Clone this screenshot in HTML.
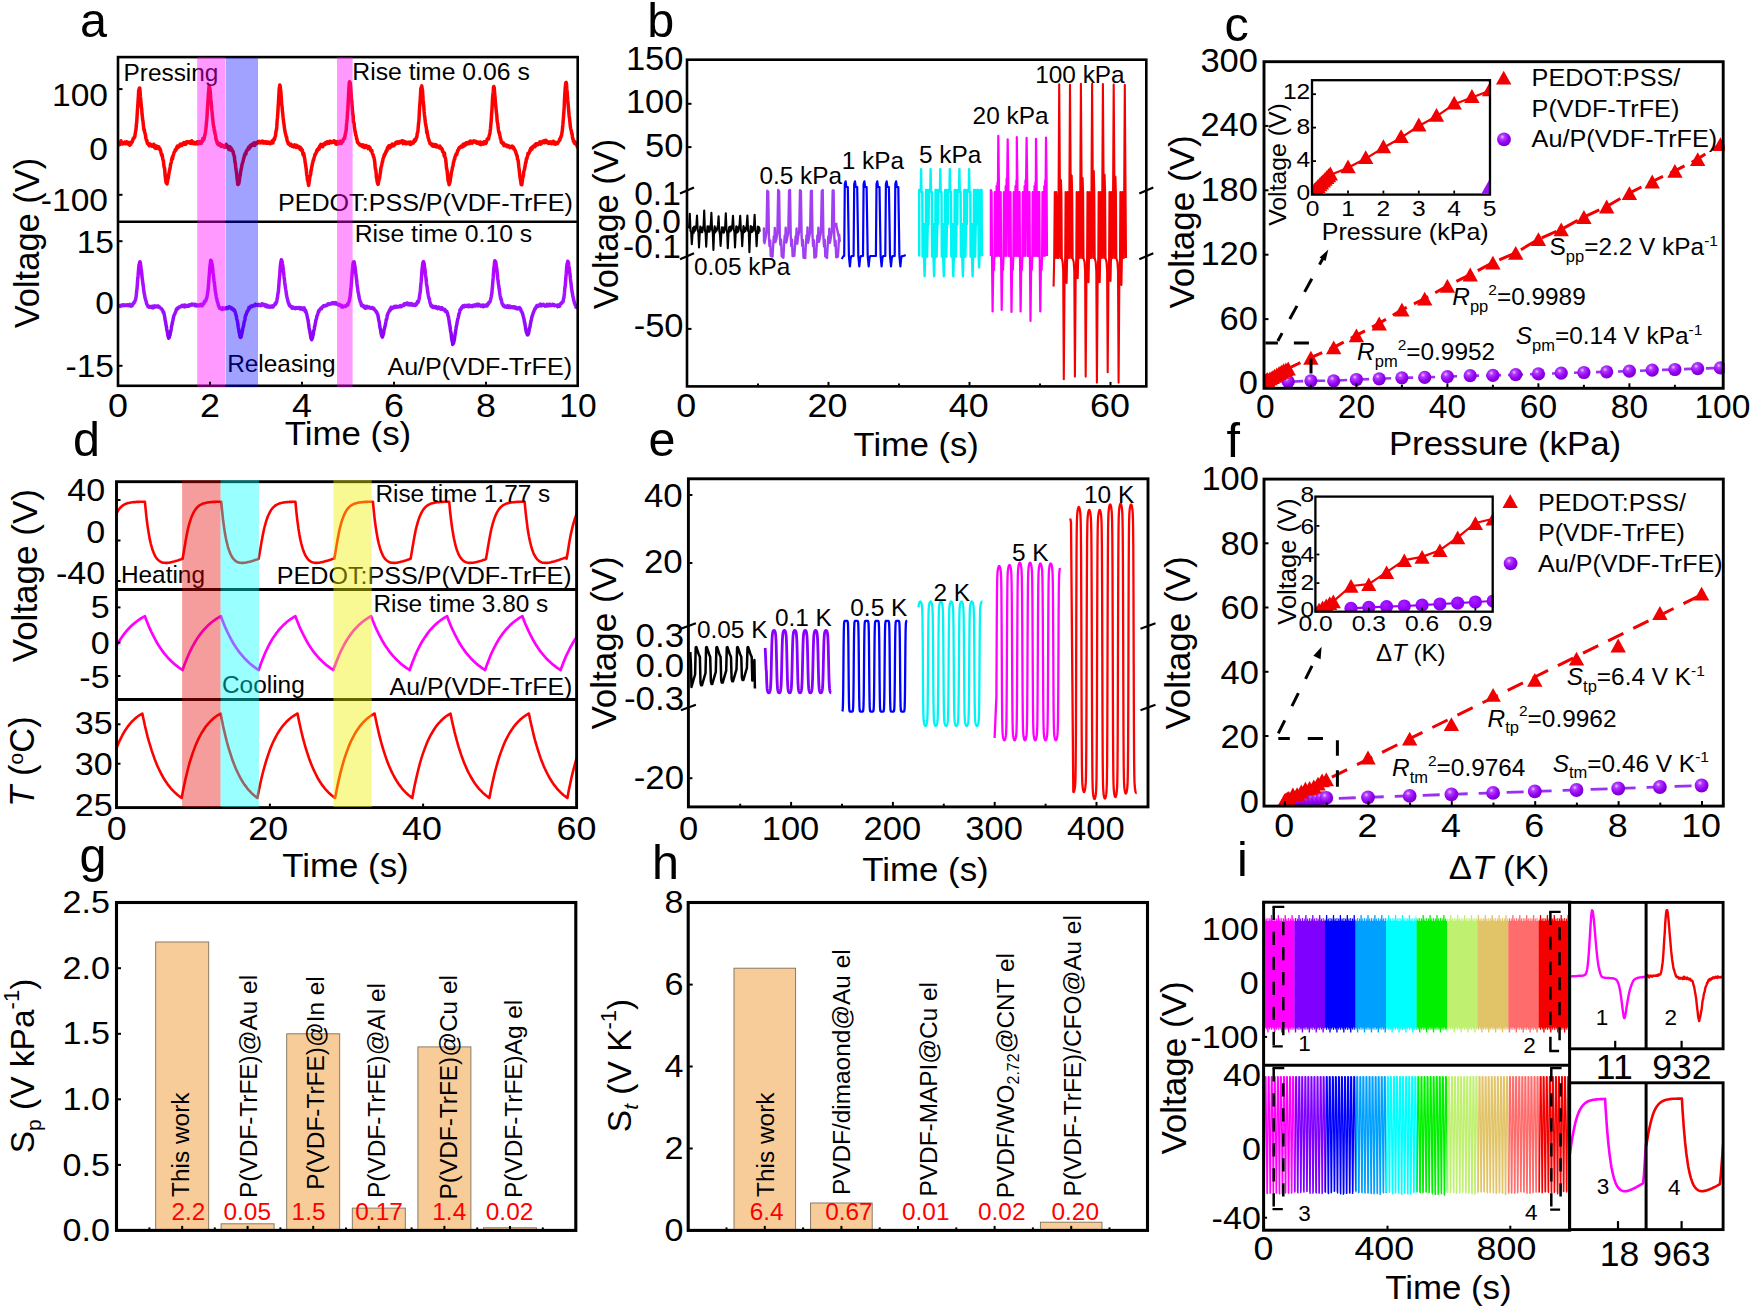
<!DOCTYPE html>
<html><head><meta charset="utf-8"><title>Figure</title>
<style>
html,body{margin:0;padding:0;background:#fff;}
svg{display:block;font-family:"Liberation Sans",Arial,sans-serif;}
</style></head><body>
<svg width="1750" height="1308" viewBox="0 0 1750 1308">
<defs>
<radialGradient id="ball" cx="0.38" cy="0.32" r="0.65"><stop offset="0" stop-color="#e9c4ff"/><stop offset="0.25" stop-color="#b23cff"/><stop offset="0.7" stop-color="#9400f0"/><stop offset="1" stop-color="#7a00d0"/></radialGradient>
<radialGradient id="ball2" cx="0.4" cy="0.35" r="0.7"><stop offset="0" stop-color="#a422ff"/><stop offset="0.6" stop-color="#9800fc"/><stop offset="1" stop-color="#8a00ec"/></radialGradient>
</defs>
<rect width="1750" height="1308" fill="#fff"/>
<g id="pa">
<clipPath id="ca"><rect x="118.0" y="57.1" width="459.70000000000005" height="328.7"/></clipPath>
<g clip-path="url(#ca)">
<polyline points="118,141.7 118.3,145.1 118.7,142.9 119,143.6 119.3,143.5 119.6,143.4 120,144.7 120.3,143.4 120.6,143.9 121,140.7 121.3,143 121.6,143.5 121.9,143.4 122.3,143.7 122.6,144 122.9,143.5 123.3,142.9 123.6,143.4 123.9,142.5 124.2,143.4 124.6,143.2 124.9,142.1 125.2,142.8 125.6,143.6 125.9,143.4 126.2,142.8 126.5,141.8 126.9,143.4 127.2,143.4 127.5,142.5 127.9,143.9 128.2,143.4 128.5,142.6 128.9,142.8 129.2,143.2 129.5,142.7 129.8,145.3 130.2,142.4 130.5,143.9 130.8,144.4 131.2,142.9 131.5,142.1 131.8,142.3 132.1,142.2 132.5,140.7 132.8,140.1 133.1,138.7 133.5,138.8 133.8,138.7 134.1,137.4 134.4,137.5 134.8,136.9 135.1,134.3 135.4,132.4 135.8,130.7 136.1,128.3 136.4,124.2 136.7,122.4 137.1,115.6 137.4,110.8 137.7,107.2 138.1,100.6 138.4,96.1 138.7,90.2 139,89.8 139.4,88.2 139.7,88 140,90.3 140.4,96.7 140.7,99.1 141,102.3 141.3,106.7 141.7,108.6 142,114.1 142.3,116.1 142.7,120.2 143,121.1 143.3,124.6 143.6,127.2 144,130.2 144.3,129.5 144.6,131.9 145,133.3 145.3,134.4 145.6,136.1 145.9,138.3 146.3,139.7 146.6,140.8 146.9,140.3 147.3,143.4 147.6,143.3 147.9,143.5 148.3,143.5 148.6,143.6 148.9,145.2 149.2,145.8 149.6,144.8 149.9,144 150.2,144.5 150.6,145.1 150.9,145.6 151.2,145.3 151.5,145.8 151.9,145.1 152.2,146.4 152.5,145.8 152.9,146 153.2,145.6 153.5,145.9 153.8,144.2 154.2,145.1 154.5,145.2 154.8,147.9 155.2,146.7 155.5,147 155.8,146.2 156.1,148.5 156.5,146 156.8,146.2 157.1,148.1 157.5,148.1 157.8,148.1 158.1,147.7 158.4,147.6 158.8,146.8 159.1,148.9 159.4,148.6 159.8,149.5 160.1,148.9 160.4,150.4 160.7,150.7 161.1,153.4 161.4,153.7 161.7,155.4 162.1,154.6 162.4,156.3 162.7,158.3 163,159.9 163.4,160.8 163.7,163.9 164,166.5 164.4,168 164.7,169.2 165,174 165.3,176.9 165.7,180.1 166,182.6 166.3,182.9 166.7,183.4 167,183.9 167.3,182.5 167.6,180.9 168,178.9 168.3,178.1 168.6,175.4 169,173 169.3,171.9 169.6,169.9 170,168.5 170.3,166.5 170.6,164.1 170.9,163.6 171.3,162.1 171.6,160.1 171.9,159 172.3,157.1 172.6,158.9 172.9,155.7 173.2,155.8 173.6,154.5 173.9,153.1 174.2,152.2 174.6,151.5 174.9,151.5 175.2,149.8 175.5,150.6 175.9,150 176.2,148.8 176.5,149.3 176.9,146.9 177.2,147.3 177.5,146.1 177.8,147.4 178.2,147.3 178.5,146.6 178.8,145.9 179.2,146.6 179.5,145.7 179.8,145.8 180.1,144.3 180.5,145.8 180.8,144.4 181.1,145.5 181.5,145.5 181.8,145.2 182.1,145.4 182.4,144.3 182.8,143.5 183.1,144 183.4,143.5 183.8,142.6 184.1,143.5 184.4,143.4 184.7,143.6 185.1,144.5 185.4,142.5 185.7,144.3 186.1,142.3 186.4,142.7 186.7,141.7 187,142.4 187.4,142.9 187.7,141.9 188,142.4 188.4,142.1 188.7,141.8 189,141.9 189.4,141.9 189.7,142.3 190,141.8 190.3,143.3 190.7,141.8 191,142.7 191.3,141 191.7,140.9 192,143.4 192.3,141.9 192.6,142.2 193,143 193.3,141.9 193.6,142.8 194,143.8 194.3,142.8 194.6,142.8 194.9,142.7 195.3,143.8 195.6,142.4 195.9,142.4 196.3,143.9 196.6,143.5 196.9,143.1 197.2,143.5 197.6,141.8 197.9,143 198.2,143.9 198.6,143.8 198.9,143.2 199.2,141.5 199.5,143.3 199.9,143.1 200.2,142.8 200.5,143.2 200.9,141.5 201.2,143.5 201.5,142 201.8,141.8 202.2,140.9 202.5,141.5 202.8,138.6 203.2,139.7 203.5,139.2 203.8,139.4 204.1,138.6 204.5,136.7 204.8,135.1 205.1,133.8 205.5,131.5 205.8,129.5 206.1,127.1 206.4,123 206.8,119.2 207.1,115.1 207.4,109.4 207.8,103.6 208.1,98.9 208.4,94 208.8,89.1 209.1,85.8 209.4,86.7 209.7,87.8 210.1,90.6 210.4,93.1 210.7,99.2 211.1,101.4 211.4,104.6 211.7,109.7 212,111.5 212.4,115.5 212.7,119.3 213,121.5 213.4,125.4 213.7,127 214,127.3 214.3,131.2 214.7,130.8 215,133.8 215.3,134.3 215.7,136.6 216,139.7 216.3,139.8 216.6,140.4 217,142.5 217.3,143.3 217.6,142.5 218,143.7 218.3,144.9 218.6,144.4 218.9,143.6 219.3,144.8 219.6,144 219.9,143.7 220.3,145 220.6,146 220.9,146.3 221.2,145.4 221.6,144.8 221.9,145.4 222.2,145.3 222.6,146.1 222.9,145.6 223.2,146.2 223.5,146.2 223.9,147 224.2,147.2 224.5,146.5 224.9,147 225.2,146.9 225.5,145.8 225.8,146.4 226.2,144.2 226.5,145.8 226.8,147 227.2,146.1 227.5,146.5 227.8,147.4 228.2,146.2 228.5,147.7 228.8,149.6 229.1,146.9 229.5,148.2 229.8,146.8 230.1,148.7 230.5,149.5 230.8,147.8 231.1,150.2 231.4,149.8 231.8,149.1 232.1,150.4 232.4,150.9 232.8,151.4 233.1,151.5 233.4,153.9 233.7,154.3 234.1,155.9 234.4,156.3 234.7,160.3 235.1,162.8 235.4,163.9 235.7,167.2 236,169.3 236.4,172.2 236.7,174.2 237,178.3 237.4,180.4 237.7,184.4 238,184.5 238.3,182.9 238.7,184 239,182.6 239.3,181 239.7,177.6 240,175.9 240.3,175 240.6,171.8 241,170.3 241.3,168.2 241.6,167.6 242,164.3 242.3,163.8 242.6,162.8 242.9,161.8 243.3,160.4 243.6,158.4 243.9,158.1 244.3,156.1 244.6,155.5 244.9,154 245.2,153.6 245.6,153.4 245.9,154.1 246.2,151.7 246.6,150.7 246.9,150.6 247.2,149.7 247.5,150 247.9,149.4 248.2,149.4 248.5,147.3 248.9,147.8 249.2,147.9 249.5,148.2 249.9,147 250.2,145.5 250.5,146 250.8,146.6 251.2,144.8 251.5,144.6 251.8,144.7 252.2,144.7 252.5,144.2 252.8,144.5 253.1,144.2 253.5,145.2 253.8,143.3 254.1,144.1 254.5,142.7 254.8,145.6 255.1,143.4 255.4,143 255.8,143.9 256.1,143.1 256.4,142.8 256.8,142.8 257.1,143.4 257.4,143 257.7,142 258.1,141.6 258.4,142.4 258.7,142.3 259.1,142.1 259.4,141.3 259.7,142.8 260,142.9 260.4,141.7 260.7,142.6 261,142.2 261.4,141.6 261.7,141.3 262,142.5 262.3,141.1 262.7,143.1 263,141.4 263.3,143.1 263.7,143 264,141.6 264.3,142.5 264.6,142.9 265,142.7 265.3,142.1 265.6,142.6 266,142.7 266.3,141.9 266.6,143.3 266.9,143.2 267.3,143.3 267.6,142.1 267.9,142.3 268.3,142.1 268.6,143.1 268.9,143.2 269.3,142.5 269.6,143.5 269.9,142.6 270.2,142.6 270.6,143.7 270.9,143.2 271.2,143.3 271.6,141.8 271.9,141.2 272.2,142.6 272.5,141.9 272.9,143 273.2,140.4 273.5,139.8 273.9,140.3 274.2,138.4 274.5,139.6 274.8,137.7 275.2,136.4 275.5,136 275.8,132.7 276.2,130.4 276.5,129.6 276.8,126.4 277.1,121.1 277.5,117.2 277.8,113.3 278.1,107.4 278.5,101.7 278.8,96.3 279.1,90.5 279.4,87.6 279.8,85.1 280.1,85.7 280.4,88.3 280.8,91.5 281.1,95 281.4,99.4 281.7,104.6 282.1,106.8 282.4,111 282.7,113.2 283.1,117.5 283.4,120 283.7,122.9 284,124.3 284.4,127.6 284.7,129.9 285,131.2 285.4,133.4 285.7,134.3 286,135.7 286.3,137 286.7,137.1 287,140.1 287.3,140.9 287.7,142.2 288,142 288.3,143.9 288.7,144 289,143.8 289.3,143.7 289.6,144.4 290,145 290.3,145.5 290.6,144.6 291,144.1 291.3,145 291.6,145.2 291.9,145.2 292.3,146.3 292.6,145.9 292.9,145.9 293.3,145.6 293.6,145.9 293.9,146.9 294.2,145.2 294.6,144.8 294.9,146.3 295.2,145.9 295.6,146.1 295.9,145.7 296.2,147.5 296.5,145.3 296.9,146.9 297.2,145.7 297.5,146.7 297.9,147.1 298.2,147.1 298.5,146.4 298.8,147.9 299.2,147.7 299.5,148 299.8,149.1 300.2,147.2 300.5,148 300.8,148.8 301.1,148.4 301.5,150.5 301.8,150.4 302.1,149.7 302.5,150.7 302.8,153.6 303.1,155 303.4,154.1 303.8,153.4 304.1,156.1 304.4,157.6 304.8,158.9 305.1,162.1 305.4,163.5 305.7,165.5 306.1,168.3 306.4,171 306.7,174.5 307.1,176.4 307.4,179.8 307.7,180.9 308.1,181.5 308.4,184.6 308.7,185.4 309,183 309.4,180.5 309.7,178 310,175.9 310.4,175.4 310.7,173.5 311,170.1 311.3,170.2 311.7,166.9 312,166.3 312.3,164 312.7,162.7 313,161.3 313.3,160 313.6,160.1 314,158.1 314.3,157.2 314.6,156 315,154.4 315.3,154.7 315.6,154.2 315.9,153.4 316.3,152.4 316.6,151 316.9,151.5 317.3,149.5 317.6,149.6 317.9,149.5 318.2,149.9 318.6,148.3 318.9,147.5 319.2,149 319.6,146.4 319.9,145.8 320.2,146.5 320.5,146.1 320.9,144.4 321.2,145 321.5,146.4 321.9,145.5 322.2,145.4 322.5,145.3 322.8,146.7 323.2,144.2 323.5,145.1 323.8,144.4 324.2,144.5 324.5,143.6 324.8,144.3 325.1,144.5 325.5,143.4 325.8,142.6 326.1,143.8 326.5,142.4 326.8,143 327.1,143.5 327.4,141.8 327.8,143.4 328.1,141.9 328.4,142.9 328.8,142 329.1,143.2 329.4,142.8 329.8,141.2 330.1,141.8 330.4,141.8 330.7,142.1 331.1,141.4 331.4,142.7 331.7,142.5 332.1,141.8 332.4,142.3 332.7,142.3 333,141.9 333.4,142 333.7,142.1 334,140.8 334.4,141.4 334.7,141.3 335,142.4 335.3,142.8 335.7,143.6 336,142.9 336.3,144.3 336.7,143.2 337,142.3 337.3,141.7 337.6,142.2 338,143.7 338.3,142.7 338.6,143.7 339,142.5 339.3,143.2 339.6,142.5 339.9,141.2 340.3,142.5 340.6,141.4 340.9,143 341.3,143.4 341.6,142.1 341.9,141.2 342.2,142.3 342.6,141.1 342.9,141.5 343.2,139.8 343.6,138.7 343.9,139 344.2,138.8 344.5,138.7 344.9,136.4 345.2,134.8 345.5,133.4 345.9,131.6 346.2,130.2 346.5,124.8 346.8,122.5 347.2,118.2 347.5,112.7 347.8,109.4 348.2,102.1 348.5,96.1 348.8,89.9 349.2,84.1 349.5,81.8 349.8,82.6 350.1,82.6 350.5,85 350.8,89.3 351.1,94.5 351.5,98.9 351.8,101.4 352.1,105.6 352.4,109.6 352.8,114.5 353.1,115.2 353.4,121.7 353.8,122.6 354.1,123.3 354.4,127.3 354.7,129.1 355.1,132 355.4,131.7 355.7,135.2 356.1,135.3 356.4,137 356.7,139.3 357,139.1 357.4,142.1 357.7,142.6 358,142.7 358.4,143.5 358.7,143.3 359,143.3 359.3,144.5 359.7,145 360,145.2 360.3,145.3 360.7,144.6 361,145.5 361.3,145.2 361.6,145.7 362,146.3 362.3,145.2 362.6,146.7 363,146 363.3,144.9 363.6,146.9 363.9,146.2 364.3,147.4 364.6,146.7 364.9,147.5 365.3,146.7 365.6,146.9 365.9,146.5 366.2,145.5 366.6,146.6 366.9,146.4 367.2,147 367.6,147.3 367.9,147.8 368.2,148.7 368.6,147.5 368.9,146.5 369.2,147.6 369.5,148.6 369.9,147.3 370.2,149.2 370.5,149.8 370.9,150.7 371.2,151.1 371.5,151.2 371.8,150.3 372.2,152.8 372.5,154 372.8,154.4 373.2,155 373.5,157.1 373.8,156.9 374.1,158.3 374.5,160.6 374.8,162.6 375.1,166.4 375.5,169.3 375.8,169.7 376.1,172.6 376.4,177.3 376.8,178.7 377.1,181.3 377.4,182.7 377.8,183.8 378.1,184.3 378.4,182.8 378.7,181.2 379.1,179.3 379.4,178.6 379.7,177.5 380.1,174 380.4,172.8 380.7,169.6 381,167.6 381.4,166.3 381.7,165.3 382,163.5 382.4,161.3 382.7,161.4 383,159 383.3,158 383.7,157.3 384,155.4 384.3,156.1 384.7,154 385,154.5 385.3,153.7 385.6,153.2 386,151.4 386.3,151.8 386.6,150.5 387,150.8 387.3,148.6 387.6,147.6 387.9,148.4 388.3,146.9 388.6,147.3 388.9,145.8 389.3,147 389.6,148 389.9,145.4 390.3,146.3 390.6,146.8 390.9,146.3 391.2,146.8 391.6,145.5 391.9,146 392.2,143.9 392.6,144.4 392.9,145.9 393.2,145.7 393.5,144.8 393.9,145.7 394.2,144.2 394.5,144 394.9,144.4 395.2,144.1 395.5,143.2 395.8,142.4 396.2,142.2 396.5,143.1 396.8,142.3 397.2,143.4 397.5,142.4 397.8,143.3 398.1,141.9 398.5,143.2 398.8,142.9 399.1,142 399.5,141.5 399.8,142.9 400.1,142.2 400.4,141.6 400.8,141.5 401.1,142.3 401.4,141.6 401.8,141.9 402.1,140.7 402.4,141.4 402.7,142.9 403.1,143.6 403.4,142 403.7,141.2 404.1,142.1 404.4,141.7 404.7,142.8 405,143.5 405.4,142 405.7,142.6 406,142.2 406.4,143.9 406.7,142.8 407,143.4 407.3,142.4 407.7,143.5 408,143.5 408.3,143.5 408.7,142.2 409,143.1 409.3,143.7 409.7,144 410,144 410.3,142.1 410.6,144.6 411,143.9 411.3,142.7 411.6,142.3 412,143.3 412.3,142.6 412.6,142.6 412.9,142.4 413.3,143.1 413.6,141.3 413.9,141.8 414.3,140.2 414.6,141.5 414.9,139.2 415.2,140.6 415.6,140.4 415.9,138.4 416.2,138.8 416.6,137 416.9,137 417.2,133.5 417.5,132.9 417.9,131.4 418.2,127.7 418.5,123.8 418.9,121.1 419.2,115.6 419.5,109.5 419.8,104.9 420.2,100 420.5,94.8 420.8,88.9 421.2,87.3 421.5,87.1 421.8,85.9 422.1,88.5 422.5,90.1 422.8,95.1 423.1,99.9 423.5,104 423.8,106.6 424.1,111.2 424.4,114.4 424.8,117.3 425.1,120.1 425.4,122.8 425.8,125.2 426.1,126.6 426.4,128.3 426.7,132.6 427.1,131 427.4,134.2 427.7,134.7 428.1,137.7 428.4,138.3 428.7,139.6 429.1,140.9 429.4,141.4 429.7,142.1 430,143.8 430.4,143.6 430.7,143.3 431,143.6 431.4,144.7 431.7,144.9 432,145 432.3,145.9 432.7,146.2 433,144.2 433.3,145.8 433.7,145.5 434,146.2 434.3,144.8 434.6,144.5 435,146.1 435.3,145.6 435.6,146.6 436,144.8 436.3,145.5 436.6,146.9 436.9,145.4 437.3,146.2 437.6,146.2 437.9,146.3 438.3,147.2 438.6,147.2 438.9,146.5 439.2,147.1 439.6,147.9 439.9,145.9 440.2,147.8 440.6,148.3 440.9,148.6 441.2,147.9 441.5,148.1 441.9,149 442.2,149.1 442.5,151.4 442.9,151.2 443.2,152.1 443.5,152.6 443.8,153.3 444.2,156 444.5,153 444.8,157.1 445.2,157.4 445.5,158.5 445.8,160.5 446.1,163.2 446.5,168 446.8,169.2 447.1,170.5 447.5,174.5 447.8,177.3 448.1,181 448.5,180.7 448.8,182.9 449.1,184.7 449.4,183.9 449.8,182.8 450.1,181.8 450.4,179.1 450.8,176.7 451.1,174.5 451.4,172.1 451.7,171.2 452.1,169.8 452.4,167.5 452.7,166.7 453.1,165.7 453.4,162.4 453.7,162.2 454,160.6 454.4,159 454.7,159.2 455,156.8 455.4,156 455.7,155.5 456,154.2 456.3,154.3 456.7,154.6 457,152.5 457.3,152.3 457.7,150.3 458,150.2 458.3,150.3 458.6,149.3 459,147.9 459.3,147.6 459.6,147.8 460,147.4 460.3,147.6 460.6,147.1 460.9,146.3 461.3,146.5 461.6,146 461.9,146.8 462.3,147 462.6,146.8 462.9,145.7 463.2,144.2 463.6,144.1 463.9,145.6 464.2,145.8 464.6,143.9 464.9,144 465.2,145.3 465.5,143.3 465.9,143.8 466.2,142.8 466.5,143.4 466.9,142.9 467.2,143.1 467.5,144 467.8,143.3 468.2,143.5 468.5,142.2 468.8,143.4 469.2,143.7 469.5,141.9 469.8,141.4 470.2,141 470.5,141.2 470.8,143 471.1,142.4 471.5,142.2 471.8,141.7 472.1,143.3 472.5,141.7 472.8,141.5 473.1,142.4 473.4,141.7 473.8,140.9 474.1,141.8 474.4,141.2 474.8,141.3 475.1,141.8 475.4,141.9 475.7,142.6 476.1,141.5 476.4,142.9 476.7,143.1 477.1,142.2 477.4,143.3 477.7,142.5 478,142.1 478.4,142.9 478.7,142.9 479,142.3 479.4,142.5 479.7,144.3 480,144.1 480.3,142.1 480.7,142.9 481,144.7 481.3,144.2 481.7,143.2 482,143.9 482.3,142.9 482.6,143.2 483,142.8 483.3,144.1 483.6,142.7 484,141.7 484.3,143.8 484.6,142.2 484.9,142.4 485.3,142.7 485.6,143.2 485.9,143.4 486.3,142.6 486.6,140.8 486.9,140 487.2,139 487.6,139 487.9,138.6 488.2,139.1 488.6,139 488.9,137 489.2,135.6 489.6,134.4 489.9,133.7 490.2,130.6 490.5,128.5 490.9,123.8 491.2,120.8 491.5,115.6 491.9,110.3 492.2,105.1 492.5,98.8 492.8,95.4 493.2,92.2 493.5,87.4 493.8,86.5 494.2,87.6 494.5,91.2 494.8,94.5 495.1,98.5 495.5,103.4 495.8,106.5 496.1,109.3 496.5,113.6 496.8,114.9 497.1,120.5 497.4,122.4 497.8,123.8 498.1,127.3 498.4,129.8 498.8,131.8 499.1,133 499.4,132.8 499.7,134.9 500.1,136.4 500.4,138.6 500.7,138.8 501.1,140.6 501.4,142.4 501.7,142.7 502,142.7 502.4,142.4 502.7,143.7 503,143.6 503.4,142.8 503.7,145.1 504,145.7 504.3,144.2 504.7,144.8 505,145.3 505.3,145.2 505.7,145.7 506,145.2 506.3,145.9 506.6,145.1 507,146.7 507.3,146.5 507.6,145.9 508,146.4 508.3,145.6 508.6,146.2 509,146.7 509.3,146.2 509.6,146.8 509.9,147.7 510.3,147.4 510.6,147.3 510.9,147.1 511.3,146.8 511.6,146.4 511.9,146.8 512.2,146.1 512.6,146.7 512.9,148 513.2,146.9 513.6,147.6 513.9,149.2 514.2,149.1 514.5,149 514.9,150.3 515.2,150.4 515.5,151.7 515.9,152.4 516.2,153.8 516.5,154.1 516.8,155.7 517.2,156 517.5,159.2 517.8,159.6 518.2,161 518.5,163.8 518.8,166.7 519.1,168.9 519.5,172.6 519.8,175.4 520.1,177.8 520.5,180.2 520.8,181.6 521.1,184.4 521.4,183.3 521.8,184.7 522.1,182.8 522.4,180.2 522.8,177.3 523.1,176.7 523.4,175.9 523.7,172.1 524.1,170.6 524.4,169.7 524.7,168 525.1,166.2 525.4,164.1 525.7,162.3 526,162.6 526.4,158.5 526.7,159.1 527,158.2 527.4,156.4 527.7,155.9 528,153.3 528.4,153.4 528.7,153.7 529,153 529.3,152.4 529.7,151.6 530,150.2 530.3,150.7 530.7,148.4 531,149.2 531.3,148.8 531.6,147.6 532,149.4 532.3,148.2 532.6,146.8 533,146.9 533.3,146.6 533.6,146 533.9,146.5 534.3,146 534.6,146.7 534.9,146.8 535.3,144.3 535.6,145.8 535.9,145.4 536.2,143.7 536.6,143.8 536.9,144.8 537.2,144.7 537.6,144.2 537.9,144.7 538.2,143.5 538.5,143.6 538.9,143.5 539.2,142.9 539.5,142.8 539.9,141.8 540.2,141.9 540.5,144.2 540.8,142.1 541.2,143.4 541.5,143.5 541.8,141.8 542.2,142.7 542.5,142.3 542.8,141.2 543.1,142.4 543.5,142.5 543.8,141.5 544.1,140.8 544.5,141.3 544.8,142.8 545.1,142.2 545.4,141.8 545.8,140.3 546.1,141.1 546.4,141.2 546.8,141.1 547.1,142.3 547.4,141.8 547.7,141.9 548.1,143.1 548.4,142.4 548.7,142.1 549.1,143.4 549.4,142.1 549.7,142.2 550.1,142.1 550.4,143.5 550.7,142.9 551,141.9 551.4,142.4 551.7,143.7 552,142.9 552.4,142 552.7,143.2 553,142.9 553.3,141.2 553.7,143.2 554,143.3 554.3,143.9 554.7,143.7 555,142.1 555.3,143.3 555.6,144.1 556,143.9 556.3,143.2 556.6,142.6 557,143.7 557.3,142.6 557.6,143.5 557.9,142.8 558.3,142.1 558.6,141.4 558.9,141.4 559.3,140.5 559.6,139.2 559.9,140.2 560.2,138.6 560.6,137.8 560.9,136.5 561.2,136.3 561.6,135 561.9,132.9 562.2,131.3 562.5,128.2 562.9,124.4 563.2,120.6 563.5,117.1 563.9,111.5 564.2,107.3 564.5,99.3 564.8,94.4 565.2,88.3 565.5,85.5 565.8,82.8 566.2,82.4 566.5,83.9 566.8,89.2 567.1,91.5 567.5,96.3 567.8,100.9 568.1,103.9 568.5,108.4 568.8,112 569.1,115.7 569.5,118.2 569.8,121.2 570.1,124 570.4,126.9 570.8,128.8 571.1,130 571.4,131.1 571.8,133.6 572.1,133.8 572.4,136.5 572.7,138.8 573.1,138.9 573.4,141.3 573.7,141.4 574.1,141.5 574.4,143.1 574.7,143.4 575,141.8 575.4,143.8 575.7,144.1 576,144 576.4,144.8 576.7,145 577,144.8 577.3,147 577.7,143.8 578,145.3" fill="none" stroke="#ff0000" stroke-width="3.5" stroke-linejoin="round"/>
<linearGradient id="ga" gradientUnits="userSpaceOnUse" x1="0" y1="258" x2="0" y2="342"><stop offset="0" stop-color="#b800ff"/><stop offset="0.5" stop-color="#a016ff"/><stop offset="1" stop-color="#8a00f4"/></linearGradient>
<polyline points="118,306.2 118.3,305.5 118.7,305.7 119,306.3 119.3,305.6 119.6,306.2 120,306 120.3,306.3 120.6,306 121,305.4 121.3,305.5 121.6,305.4 121.9,305.1 122.3,305.5 122.6,305.8 122.9,305.6 123.3,304.7 123.6,305.4 123.9,305.2 124.2,305.4 124.6,305.2 124.9,305.1 125.2,305.3 125.6,305.3 125.9,305.6 126.2,305.6 126.5,305 126.9,304.8 127.2,304.7 127.5,305.1 127.9,305.5 128.2,304.9 128.5,304.9 128.9,305.8 129.2,304.8 129.5,304.9 129.8,304.4 130.2,305.7 130.5,305.8 130.8,304.9 131.2,306.1 131.5,305.7 131.8,305.9 132.1,305.4 132.5,305.4 132.8,304.3 133.1,303.3 133.5,303 133.8,302.9 134.1,303 134.4,301.7 134.8,301.5 135.1,300.4 135.4,300.4 135.8,298.1 136.1,296.8 136.4,293.7 136.7,290.8 137.1,288.1 137.4,283.7 137.7,279.2 138.1,275.4 138.4,271.3 138.7,268.2 139,265 139.4,263.4 139.7,262 140,261.8 140.4,263.3 140.7,265.5 141,268.2 141.3,269.9 141.7,273 142,276.5 142.3,279.4 142.7,281.6 143,284.6 143.3,286.1 143.6,289.3 144,292.1 144.3,294 144.6,294.9 145,297.7 145.3,298.4 145.6,299.9 145.9,300.5 146.3,302.2 146.6,303.7 146.9,304.2 147.3,305.2 147.6,305.6 147.9,306.4 148.3,305.7 148.6,306.8 148.9,306.7 149.2,307.3 149.6,307 149.9,307.1 150.2,307 150.6,306.7 150.9,307.3 151.2,307.4 151.5,306.5 151.9,307 152.2,307.2 152.5,306.3 152.9,306.4 153.2,307.9 153.5,306.9 153.8,306.3 154.2,306.2 154.5,306.8 154.8,305.9 155.2,306.9 155.5,306.6 155.8,306.5 156.1,306.5 156.5,306.2 156.8,306.1 157.1,306.6 157.5,306 157.8,307 158.1,306.9 158.4,306.1 158.8,306.9 159.1,306.6 159.4,307.4 159.8,307.5 160.1,307.7 160.4,307.8 160.7,308.3 161.1,308.5 161.4,308.6 161.7,308.9 162.1,310 162.4,310.1 162.7,310.4 163,311.8 163.4,312.7 163.7,312.1 164,313.5 164.4,315.5 164.7,316.9 165,319.1 165.3,321.1 165.7,322.3 166,325.1 166.3,326.1 166.7,328.8 167,330.4 167.3,331.6 167.6,333.5 168,336 168.3,336.6 168.6,338.2 169,338 169.3,337.1 169.6,335.7 170,335.2 170.3,333.2 170.6,331.8 170.9,330.7 171.3,328.5 171.6,326 171.9,325.1 172.3,323.2 172.6,321.5 172.9,320.7 173.2,318.5 173.6,317 173.9,315.8 174.2,314.8 174.6,314.5 174.9,313.6 175.2,312.8 175.5,312.1 175.9,311.3 176.2,309.9 176.5,309.1 176.9,309.5 177.2,308.4 177.5,308.9 177.8,308.1 178.2,308.1 178.5,308.1 178.8,307.1 179.2,306.9 179.5,306.9 179.8,306.8 180.1,306.9 180.5,306.4 180.8,306.5 181.1,306 181.5,306.6 181.8,305.9 182.1,305.7 182.4,305.3 182.8,305.4 183.1,305.8 183.4,306.1 183.8,306.6 184.1,305.8 184.4,305.2 184.7,305 185.1,306.9 185.4,306.1 185.7,305.9 186.1,306.2 186.4,305.6 186.7,305.6 187,305.8 187.4,305.6 187.7,306.2 188,305.9 188.4,305.8 188.7,305 189,306.1 189.4,305.4 189.7,304.9 190,305.2 190.3,304.8 190.7,305.4 191,304.9 191.3,304.6 191.7,304 192,304.7 192.3,304.4 192.6,305 193,305 193.3,304.4 193.6,304.9 194,304.5 194.3,304.9 194.6,304.3 194.9,304.2 195.3,305.7 195.6,304.5 195.9,305.2 196.3,305.2 196.6,305.4 196.9,305.1 197.2,305.9 197.6,305.7 197.9,305.7 198.2,305.2 198.6,304.9 198.9,304.9 199.2,305.1 199.5,305.4 199.9,305.9 200.2,304.9 200.5,305 200.9,304.8 201.2,304.3 201.5,304.9 201.8,304.9 202.2,305.8 202.5,304.5 202.8,304.7 203.2,304.5 203.5,303.6 203.8,303.7 204.1,303 204.5,301.3 204.8,301.7 205.1,301.4 205.5,301.1 205.8,300.6 206.1,300.1 206.4,298.2 206.8,298 207.1,296 207.4,294.4 207.8,291.9 208.1,289.8 208.4,286.2 208.8,280.8 209.1,276.7 209.4,273.4 209.7,269.2 210.1,265.3 210.4,263.1 210.7,260.2 211.1,260.8 211.4,261.1 211.7,263.4 212,263.7 212.4,266.6 212.7,268.5 213,272.5 213.4,274.8 213.7,277.9 214,280.8 214.3,282.8 214.7,285.4 215,288.4 215.3,291.5 215.7,293.1 216,294.9 216.3,297 216.6,298.5 217,299.9 217.3,301.7 217.6,302.5 218,303.1 218.3,305.3 218.6,305.8 218.9,306.2 219.3,307.7 219.6,307.4 219.9,308.4 220.3,308.1 220.6,308.7 220.9,308.6 221.2,308.5 221.6,308.5 221.9,308.5 222.2,309.5 222.6,307.7 222.9,308.6 223.2,308.9 223.5,308.7 223.9,308.3 224.2,308.8 224.5,308.5 224.9,308.5 225.2,308 225.5,308.6 225.8,308 226.2,308 226.5,308.2 226.8,307.5 227.2,308 227.5,308.5 227.8,307.8 228.2,307.9 228.5,307.9 228.8,307.8 229.1,306.8 229.5,307.7 229.8,307.6 230.1,308 230.5,307.3 230.8,308 231.1,308.4 231.4,308.7 231.8,308 232.1,308.1 232.4,309.3 232.8,309.2 233.1,308.9 233.4,309.1 233.7,310.4 234.1,310.2 234.4,310 234.7,311.1 235.1,311.6 235.4,312.7 235.7,314.2 236,314.9 236.4,316.3 236.7,318.6 237,319.7 237.4,321.1 237.7,323.4 238,325.1 238.3,327.8 238.7,329 239,331.9 239.3,332.5 239.7,335.2 240,336.6 240.3,337.4 240.6,337.4 241,337.1 241.3,336.3 241.6,334.9 242,332.9 242.3,331.2 242.6,330.1 242.9,327.7 243.3,327 243.6,325.4 243.9,323.8 244.3,321.5 244.6,321 244.9,319.5 245.2,317 245.6,315.6 245.9,314.6 246.2,314.8 246.6,313.2 246.9,311.9 247.2,311.4 247.5,311.5 247.9,310.2 248.2,310.2 248.5,309.5 248.9,307.5 249.2,307.7 249.5,308.3 249.9,308 250.2,306.8 250.5,307 250.8,306.2 251.2,306.6 251.5,306.2 251.8,305.8 252.2,306.3 252.5,306.5 252.8,306.1 253.1,305.8 253.5,305.5 253.8,305.4 254.1,305.3 254.5,305 254.8,305.6 255.1,304.5 255.4,304.2 255.8,304.9 256.1,305 256.4,304.5 256.8,304.7 257.1,304.9 257.4,305.1 257.7,305.3 258.1,305.5 258.4,304.6 258.7,304.4 259.1,305.4 259.4,304.9 259.7,304.8 260,305 260.4,305.2 260.7,305 261,305.7 261.4,304.8 261.7,304.9 262,303.8 262.3,304.4 262.7,305 263,304.9 263.3,304.1 263.7,304.3 264,305 264.3,305.2 264.6,305.9 265,305.5 265.3,305.5 265.6,305.9 266,304.9 266.3,306.7 266.6,306 266.9,305.9 267.3,306 267.6,305.5 267.9,307 268.3,306.8 268.6,306.5 268.9,306.5 269.3,306.8 269.6,307.1 269.9,306.3 270.2,307.2 270.6,307 270.9,306.1 271.2,306 271.6,306.4 271.9,307.1 272.2,307.1 272.5,307 272.9,307.1 273.2,306.7 273.5,305.5 273.9,305.5 274.2,305.4 274.5,304.9 274.8,304.5 275.2,303.2 275.5,304.3 275.8,302.8 276.2,303 276.5,302.1 276.8,301.2 277.1,298.8 277.5,297.5 277.8,294.1 278.1,293.2 278.5,290.1 278.8,285.8 279.1,281.9 279.4,278.1 279.8,274.6 280.1,268.9 280.4,265.5 280.8,262.4 281.1,261 281.4,259.7 281.7,260.5 282.1,261.5 282.4,263.6 282.7,265.1 283.1,268.3 283.4,271 283.7,273.2 284,276.4 284.4,279.4 284.7,282.3 285,284.4 285.4,287.6 285.7,289.5 286,290.9 286.3,293.6 286.7,295.8 287,297.5 287.3,298.3 287.7,300.1 288,301.6 288.3,302.4 288.7,303.6 289,303.7 289.3,305.6 289.6,304.7 290,306.1 290.3,306 290.6,306 291,306.5 291.3,306.5 291.6,307.4 291.9,308.1 292.3,307.3 292.6,308.1 292.9,307.7 293.3,307.1 293.6,307.7 293.9,307.9 294.2,308.2 294.6,307.9 294.9,307.9 295.2,308.6 295.6,307.8 295.9,308.5 296.2,307.9 296.5,308.2 296.9,307.6 297.2,307.7 297.5,308.1 297.9,308.2 298.2,308 298.5,307.6 298.8,307.7 299.2,308.2 299.5,308.1 299.8,307.6 300.2,309 300.5,308.1 300.8,308.8 301.1,307.8 301.5,308.7 301.8,308.6 302.1,309.1 302.5,308.7 302.8,308.5 303.1,308.3 303.4,309.8 303.8,309.7 304.1,307.8 304.4,309.2 304.8,309.8 305.1,309.8 305.4,311.6 305.7,310.5 306.1,312.1 306.4,313.8 306.7,313.8 307.1,316 307.4,317.7 307.7,318.6 308.1,320.4 308.4,322.7 308.7,324.6 309,327.2 309.4,329.4 309.7,330.5 310,332.3 310.4,334.7 310.7,336.4 311,338.2 311.3,339 311.7,339.7 312,338.2 312.3,338.4 312.7,336.6 313,335.3 313.3,334.3 313.6,331 314,330.3 314.3,328.7 314.6,326.6 315,325.4 315.3,323.3 315.6,322.2 315.9,320.1 316.3,319 316.6,318.3 316.9,316 317.3,315.3 317.6,314.9 317.9,313.3 318.2,312.5 318.6,311.1 318.9,311.6 319.2,310.2 319.6,310.1 319.9,309.2 320.2,309.2 320.5,308.7 320.9,308.1 321.2,308.5 321.5,308.6 321.9,307.4 322.2,307.4 322.5,306.9 322.8,306.5 323.2,306.7 323.5,305.9 323.8,306.3 324.2,306.1 324.5,305.6 324.8,305.6 325.1,305.8 325.5,305.6 325.8,305.9 326.1,305.7 326.5,305.3 326.8,304.8 327.1,305.3 327.4,304.6 327.8,304 328.1,303.8 328.4,304.7 328.8,304.1 329.1,304.2 329.4,304 329.8,303.8 330.1,303.9 330.4,303.6 330.7,303.8 331.1,303.9 331.4,303.5 331.7,303.3 332.1,302.9 332.4,303.2 332.7,303 333,302.6 333.4,303.6 333.7,303.3 334,302.9 334.4,303.1 334.7,303.6 335,302.8 335.3,303.3 335.7,303.8 336,302.6 336.3,304.1 336.7,303.7 337,304.1 337.3,303.9 337.6,303.9 338,304.6 338.3,304.5 338.6,304.7 339,305.2 339.3,304.4 339.6,305 339.9,305.3 340.3,305.7 340.6,305.6 340.9,305.6 341.3,305.9 341.6,305.3 341.9,307.1 342.2,307 342.6,306.3 342.9,307.1 343.2,306.4 343.6,306.7 343.9,306.2 344.2,306.3 344.5,306 344.9,306.2 345.2,306.1 345.5,306.5 345.9,305.8 346.2,305.7 346.5,305.7 346.8,305.6 347.2,305 347.5,304.1 347.8,305.1 348.2,303.6 348.5,303.4 348.8,302 349.2,301.1 349.5,300.1 349.8,298 350.1,296.7 350.5,292.8 350.8,289.5 351.1,286.9 351.5,281.6 351.8,277.9 352.1,273.5 352.4,270.2 352.8,265.7 353.1,263.2 353.4,262 353.8,262.1 354.1,261.9 354.4,263.2 354.7,265.4 355.1,267.3 355.4,270.6 355.7,272.9 356.1,275.7 356.4,278.6 356.7,280.2 357,283.9 357.4,286.9 357.7,288.7 358,291.8 358.4,293.1 358.7,294.7 359,296.9 359.3,298.2 359.7,299.7 360,300.6 360.3,302.2 360.7,302.2 361,303.6 361.3,304.9 361.6,305.8 362,304.7 362.3,305.3 362.6,305.9 363,306.2 363.3,306.4 363.6,306.9 363.9,305.9 364.3,306.8 364.6,307.6 364.9,307.3 365.3,308.3 365.6,306.9 365.9,306.9 366.2,306.5 366.6,306.4 366.9,307.7 367.2,307.2 367.6,307 367.9,307.1 368.2,307.8 368.6,307.2 368.9,307.4 369.2,307 369.5,307.7 369.9,307.8 370.2,308 370.5,308 370.9,308.2 371.2,308 371.5,307.7 371.8,307.8 372.2,307.5 372.5,307.6 372.8,307.9 373.2,308.9 373.5,308.2 373.8,308.2 374.1,309.5 374.5,309.7 374.8,309.9 375.1,310.4 375.5,310.5 375.8,311.3 376.1,311.1 376.4,312.2 376.8,312.3 377.1,313.2 377.4,314.2 377.8,314.6 378.1,316.5 378.4,317.8 378.7,319.9 379.1,321.2 379.4,323.2 379.7,325.5 380.1,328.2 380.4,329 380.7,331 381,333 381.4,334.5 381.7,335.8 382,336.4 382.4,337.1 382.7,336.2 383,335.1 383.3,334.2 383.7,332.9 384,330 384.3,328.9 384.7,327.7 385,326.1 385.3,325.5 385.6,323.3 386,321.3 386.3,319.2 386.6,319.4 387,317.5 387.3,315.2 387.6,314.7 387.9,313.8 388.3,312.6 388.6,312.4 388.9,311.7 389.3,310.7 389.6,310.1 389.9,310.4 390.3,308.8 390.6,309.9 390.9,309.1 391.2,307.2 391.6,308.5 391.9,307.8 392.2,308.4 392.6,307.9 392.9,308 393.2,307.7 393.5,307.2 393.9,306.6 394.2,307 394.5,306.6 394.9,307.5 395.2,306.5 395.5,306.9 395.8,306.5 396.2,307.3 396.5,307.1 396.8,306.4 397.2,306.7 397.5,306.9 397.8,307.1 398.1,306.8 398.5,306.5 398.8,306.3 399.1,306.8 399.5,306.6 399.8,306.1 400.1,306.7 400.4,305.6 400.8,305.9 401.1,305.9 401.4,306.7 401.8,306.2 402.1,305.8 402.4,305.4 402.7,305.5 403.1,304.7 403.4,304.7 403.7,304.7 404.1,305.4 404.4,303.7 404.7,304.3 405,303.9 405.4,304.3 405.7,304 406,303.6 406.4,303.8 406.7,303.4 407,303.9 407.3,303 407.7,304.7 408,304.2 408.3,303.5 408.7,304.1 409,304.2 409.3,304.9 409.7,303.6 410,305 410.3,304 410.6,304.2 411,303.9 411.3,303.7 411.6,304.7 412,304.8 412.3,304.6 412.6,305.3 412.9,304.2 413.3,304.8 413.6,304.6 413.9,305.2 414.3,304.8 414.6,305.1 414.9,304.9 415.2,305.4 415.6,304.1 415.9,304.5 416.2,304.9 416.6,303.1 416.9,303 417.2,303.2 417.5,301.4 417.9,302.3 418.2,302.3 418.5,301.3 418.9,299.8 419.2,298.7 419.5,296.3 419.8,294.1 420.2,292.3 420.5,288.8 420.8,284.9 421.2,281.4 421.5,277.3 421.8,272.5 422.1,268.8 422.5,266.1 422.8,263.4 423.1,262.1 423.5,261.6 423.8,262.7 424.1,263.3 424.4,266.3 424.8,268.6 425.1,270.6 425.4,274.5 425.8,276.8 426.1,279 426.4,282.7 426.7,285.2 427.1,286.9 427.4,289.5 427.7,291.9 428.1,293.8 428.4,296.1 428.7,297.2 429.1,298.8 429.4,298.8 429.7,301 430,302.6 430.4,303.6 430.7,304.5 431,305.9 431.4,306.1 431.7,305.4 432,307 432.3,306.9 432.7,306.3 433,306.3 433.3,307.5 433.7,306.5 434,307.4 434.3,306.5 434.6,307.1 435,307.5 435.3,307.1 435.6,307.2 436,307.9 436.3,306.6 436.6,307.8 436.9,307.1 437.3,307.9 437.6,308.6 437.9,308.3 438.3,307.9 438.6,307.6 438.9,307.2 439.2,308 439.6,308.2 439.9,308.7 440.2,308.2 440.6,308.1 440.9,309.3 441.2,307.8 441.5,308 441.9,307.5 442.2,309.1 442.5,308.7 442.9,308.9 443.2,309.6 443.5,309.5 443.8,309.8 444.2,309.3 444.5,309.6 444.8,309.4 445.2,310.6 445.5,311.4 445.8,310.7 446.1,311 446.5,311.2 446.8,311.4 447.1,312.7 447.5,313.1 447.8,315.1 448.1,315.9 448.5,317.1 448.8,319.1 449.1,320.8 449.4,323.5 449.8,325.2 450.1,327.1 450.4,330 450.8,332.2 451.1,333.1 451.4,336.4 451.7,339 452.1,341.1 452.4,341.6 452.7,344.5 453.1,343.8 453.4,343.1 453.7,342.7 454,340.7 454.4,339.6 454.7,337.1 455,335 455.4,332.9 455.7,330.8 456,328.7 456.3,326.2 456.7,324.9 457,323.1 457.3,321.2 457.7,319.6 458,318.6 458.3,317.3 458.6,315.8 459,313.8 459.3,313.2 459.6,312.1 460,309.7 460.3,309.7 460.6,309.6 460.9,309.2 461.3,307.7 461.6,308.2 461.9,306.9 462.3,306.8 462.6,306.2 462.9,306.9 463.2,305.9 463.6,307 463.9,306.1 464.2,305.5 464.6,305.6 464.9,306.6 465.2,305.5 465.5,305.6 465.9,305.8 466.2,306.1 466.5,305.9 466.9,306.1 467.2,305.4 467.5,305.7 467.8,305.5 468.2,305.7 468.5,306.6 468.8,306 469.2,305.1 469.5,306.6 469.8,306 470.2,306.5 470.5,306.5 470.8,306 471.1,305.7 471.5,305.7 471.8,305.8 472.1,305.6 472.5,306.7 472.8,305.5 473.1,305.6 473.4,305.8 473.8,305.6 474.1,306 474.4,305 474.8,305.8 475.1,306 475.4,305.3 475.7,305.5 476.1,305.3 476.4,304.5 476.7,305.3 477.1,305.2 477.4,304.2 477.7,305.9 478,305.1 478.4,304.8 478.7,304.7 479,304.4 479.4,305.7 479.7,305.2 480,305.6 480.3,305.8 480.7,305.9 481,306.3 481.3,305.5 481.7,305.3 482,306.1 482.3,305.3 482.6,305.9 483,306.1 483.3,306.8 483.6,305.1 484,305.3 484.3,305.7 484.6,305.7 484.9,306.1 485.3,305.3 485.6,305.5 485.9,305.2 486.3,305.4 486.6,306.1 486.9,306.1 487.2,304.8 487.6,305.3 487.9,304 488.2,303.2 488.6,303.7 488.9,302.6 489.2,302.7 489.6,302.1 489.9,302.1 490.2,301.1 490.5,299.9 490.9,298 491.2,296.8 491.5,294.8 491.9,293 492.2,289.2 492.5,286.1 492.8,281.9 493.2,277.7 493.5,273.1 493.8,269.3 494.2,265.9 494.5,263 494.8,260.8 495.1,261.3 495.5,261.4 495.8,262.2 496.1,265 496.5,266.8 496.8,269.3 497.1,271.6 497.4,274.8 497.8,278.9 498.1,281 498.4,283.7 498.8,286 499.1,288.7 499.4,290.2 499.7,292.6 500.1,295.5 500.4,296.9 500.7,299 501.1,298.5 501.4,300.4 501.7,301.7 502,303.4 502.4,303.8 502.7,304.3 503,305.4 503.4,305.7 503.7,306.1 504,305.2 504.3,306.5 504.7,307 505,306.7 505.3,306.7 505.7,306.6 506,306.7 506.3,307.1 506.6,306.7 507,306.5 507.3,307.3 507.6,305.8 508,305.9 508.3,307.5 508.6,306.9 509,306.3 509.3,306.1 509.6,306 509.9,307.6 510.3,307.3 510.6,307.1 510.9,306.6 511.3,307.4 511.6,306.8 511.9,306.8 512.2,306.8 512.6,307.7 512.9,307.1 513.2,307.3 513.6,307.6 513.9,306.8 514.2,307.7 514.5,306.9 514.9,308 515.2,307 515.5,307.1 515.9,308.4 516.2,307.9 516.5,308.1 516.8,308.8 517.2,308.1 517.5,308.3 517.8,308.8 518.2,308.3 518.5,307.8 518.8,308.1 519.1,308.3 519.5,307.5 519.8,309 520.1,308.8 520.5,308.8 520.8,309.5 521.1,311.2 521.4,311.2 521.8,311.8 522.1,312.7 522.4,313.2 522.8,314.3 523.1,315.7 523.4,316.9 523.7,318 524.1,319.4 524.4,322.4 524.7,322.3 525.1,325.3 525.4,326.4 525.7,329.3 526,330.4 526.4,332.3 526.7,332.6 527,333.8 527.4,334.8 527.7,334.9 528,334.3 528.4,334 528.7,332.6 529,331.2 529.3,329 529.7,327.7 530,326.7 530.3,324.4 530.7,322.7 531,320.8 531.3,320.2 531.6,318.4 532,316.3 532.3,316.1 532.6,315 533,313.5 533.3,312.9 533.6,311.8 533.9,311.2 534.3,310.5 534.6,309.1 534.9,309.1 535.3,308.8 535.6,308 535.9,307.5 536.2,306.9 536.6,306.2 536.9,305.6 537.2,306.7 537.6,306 537.9,306.5 538.2,305.5 538.5,305.2 538.9,305.6 539.2,305.6 539.5,305.6 539.9,305.8 540.2,304.8 540.5,304.2 540.8,305.6 541.2,304.3 541.5,305.1 541.8,305.7 542.2,304.8 542.5,304.7 542.8,304.9 543.1,305.3 543.5,304.4 543.8,305.3 544.1,304.9 544.5,304.9 544.8,305.6 545.1,306.1 545.4,306 545.8,305.4 546.1,305 546.4,306 546.8,305.5 547.1,304.4 547.4,305.9 547.7,304.9 548.1,304.9 548.4,304.7 548.7,305.7 549.1,304.8 549.4,305.6 549.7,304.3 550.1,305.3 550.4,304.7 550.7,305.3 551,304.9 551.4,305.6 551.7,304.8 552,304.7 552.4,305.1 552.7,304.4 553,305 553.3,304.8 553.7,305 554,304.5 554.3,305.7 554.7,305.5 555,305.5 555.3,305.2 555.6,305.4 556,305.2 556.3,305.4 556.6,305.8 557,305.6 557.3,305.4 557.6,306.7 557.9,305 558.3,305.9 558.6,305.8 558.9,305.5 559.3,305.7 559.6,306.3 559.9,305.3 560.2,304.1 560.6,303.9 560.9,303.3 561.2,303.6 561.6,303.3 561.9,302.5 562.2,302 562.5,302.1 562.9,301.9 563.2,301.3 563.5,298.5 563.9,298.2 564.2,295.2 564.5,292.4 564.8,288.3 565.2,286.2 565.5,282.5 565.8,278.1 566.2,273.9 566.5,269.5 566.8,266.2 567.1,263.9 567.5,262.9 567.8,261.3 568.1,262.2 568.5,262.6 568.8,266 569.1,267.6 569.5,270.6 569.8,273.4 570.1,275.1 570.4,278.7 570.8,281.7 571.1,284.1 571.4,287.4 571.8,289.7 572.1,292.1 572.4,293 572.7,295.6 573.1,297.1 573.4,298.3 573.7,300.2 574.1,301.3 574.4,303.2 574.7,303.3 575,304.4 575.4,305.5 575.7,305.5 576,307.2 576.4,306.4 576.7,307.5 577,307.5 577.3,307.2 577.7,306.2 578,307.1" fill="none" stroke="url(#ga)" stroke-width="3.5" stroke-linejoin="round"/>
</g>
<text x="123.5" y="80.6" font-size="24.4">Pressing</text>
<text x="0" y="0" font-size="24.4" transform="translate(352.3 80.3) scale(1.015 1.0)">Rise time 0.06 s</text>
<text x="0" y="0" font-size="24.4" text-anchor="end" transform="translate(572.8 210.6) scale(1.03 1.0)">PEDOT:PSS/P(VDF-TrFE)</text>
<text x="0" y="0" font-size="24.4" transform="translate(354.7 242.3) scale(1.015 1.0)">Rise time 0.10 s</text>
<text x="227.2" y="371.7" font-size="24.4">Releasing</text>
<text x="0" y="0" font-size="24.4" text-anchor="end" transform="translate(572 375.3) scale(1.03 1.0)">Au/P(VDF-TrFE)</text>
<rect x="118" y="57.1" width="459.7" height="328.7" fill="none" stroke="#000" stroke-width="2.6"/>
<line x1="118" y1="221.7" x2="577.7" y2="221.7" stroke="#000" stroke-width="2.6"/>
<rect x="197.2" y="57.1" width="28.1" height="330" fill="#ff00ff" opacity="0.4"/>
<rect x="225.8" y="57.1" width="32.2" height="330" fill="#0000ff" opacity="0.37"/>
<rect x="337" y="57.1" width="15.6" height="330" fill="#ff00ff" opacity="0.4"/>
<line x1="210" y1="384.8" x2="210" y2="381.8" stroke="#000" stroke-width="2"/>
<line x1="302" y1="384.8" x2="302" y2="381.8" stroke="#000" stroke-width="2"/>
<line x1="394" y1="384.8" x2="394" y2="381.8" stroke="#000" stroke-width="2"/>
<line x1="486" y1="384.8" x2="486" y2="381.8" stroke="#000" stroke-width="2"/>
<line x1="119" y1="89.1" x2="122.5" y2="89.1" stroke="#000" stroke-width="2"/>
<line x1="119" y1="194.8" x2="122.5" y2="194.8" stroke="#000" stroke-width="2"/>
<line x1="119" y1="241.2" x2="122.5" y2="241.2" stroke="#000" stroke-width="2"/>
<line x1="119" y1="365.8" x2="122.5" y2="365.8" stroke="#000" stroke-width="2"/>
<text x="0" y="0" font-size="32" text-anchor="end" transform="translate(108 105.8) scale(1.05 1.0)">100</text>
<text x="0" y="0" font-size="32" text-anchor="end" transform="translate(108 159.5) scale(1.05 1.0)">0</text>
<text x="0" y="0" font-size="32" text-anchor="end" transform="translate(108 211.4) scale(1.05 1.0)">-100</text>
<text x="0" y="0" font-size="32" text-anchor="end" transform="translate(114 252.6) scale(1.05 1.0)">15</text>
<text x="0" y="0" font-size="32" text-anchor="end" transform="translate(114 313.9) scale(1.05 1.0)">0</text>
<text x="0" y="0" font-size="32" text-anchor="end" transform="translate(114 376.8) scale(1.05 1.0)">-15</text>
<text x="0" y="0" font-size="33.5" text-anchor="middle" transform="translate(118 416.6) scale(1.07 1.0)">0</text>
<text x="0" y="0" font-size="33.5" text-anchor="middle" transform="translate(210 416.6) scale(1.07 1.0)">2</text>
<text x="0" y="0" font-size="33.5" text-anchor="middle" transform="translate(302 416.6) scale(1.07 1.0)">4</text>
<text x="0" y="0" font-size="33.5" text-anchor="middle" transform="translate(394 416.6) scale(1.07 1.0)">6</text>
<text x="0" y="0" font-size="33.5" text-anchor="middle" transform="translate(486 416.6) scale(1.07 1.0)">8</text>
<text x="578" y="416.6" font-size="33.5" text-anchor="middle">10</text>
<text x="0" y="0" font-size="33.5" text-anchor="middle" transform="translate(348 445.2) scale(1.04 1.0)">Time (s)</text>
<text x="0" y="0" font-size="34.5" text-anchor="middle" transform="translate(38.8 243) rotate(-90)">Voltage (V)</text>
<text x="80" y="37.3" font-size="48.5">a</text>
</g>
<g id="pb">
<polyline points="688.5,228.4 689.2,225.9 689.8,213.8 690.5,230.7 691.2,232.2 691.8,244.3 692.5,234.2 693.1,227.9 693.7,232.8 694.3,226.6 695,230.8 695.7,227.2 696.4,225.5 697,215.6 697.7,230.1 698.4,232.2 699,247.4 699.7,234 700.3,226.5 700.9,232.1 701.5,227.9 702.2,232.3 702.9,227.8 703.6,225.5 704.2,210.6 704.9,230.6 705.6,232.6 706.2,246.8 706.9,232.8 707.5,226.3 708.1,231.7 708.7,226.5 709.4,231.8 710.1,229.2 710.8,224 711.4,212.7 712.1,229.7 712.8,232.6 713.4,250 714.1,232 714.7,226.4 715.3,232.4 715.9,228.4 716.6,230.7 717.3,228.3 718,224.9 718.6,216.4 719.3,231.1 720,234.5 720.6,245.9 721.3,234.3 721.9,227.3 722.5,232.1 723.1,227.5 723.8,232.7 724.5,228.6 725.2,226.1 725.8,213.2 726.5,230.5 727.2,232.8 727.8,248.1 728.5,232.9 729.1,227.3 729.7,231.6 730.3,226.6 731,230.6 731.7,227.8 732.4,224.7 733,215.9 733.7,229.8 734.4,231.6 735,247.4 735.7,232.6 736.3,226.3 736.9,232.6 737.5,227.2 738.2,231.6 738.9,227.6 739.6,224.1 740.2,215.9 740.9,230.3 741.6,232.8 742.2,246.2 742.9,233.2 743.5,226 744.1,232.2 744.7,227.7 745.4,231.3 746.1,229 746.8,224.3 747.4,215.6 748.1,230.9 748.8,231.8 749.4,252.1 750.1,233.6 750.7,226.1 751.3,232.1 751.9,226.8 752.6,231.6 753.3,228.9 754,227.1 754.6,214.7 755.3,230.8 756,232.4 756.6,246.1 757.3,232.8 757.9,226.6 758.5,232.9 759.1,227.2 759.8,231.6" fill="none" stroke="#000" stroke-width="2.1" stroke-linejoin="round"/>
<polyline points="764,242 763.9,228.4 764.5,243.2 765.4,238.5 766.5,232.3 767.3,190.8 768.2,191.6 768.9,236.4 769.5,246.1 770.2,240.4 770.8,255.9 772.5,256.6 773.1,246.5 773.8,236.4 774.3,241.9 774.8,228 775.4,242.1 776.3,239.2 777.4,232.7 778.2,189.9 779.1,191.3 779.8,236 780.4,244.9 781.1,239.7 781.7,256.2 783.4,257.8 784,245.5 784.7,235.8 785.2,240.8 785.7,227.8 786.3,242.5 787.2,238.1 788.3,232.6 789.1,190.9 790,189.9 790.7,235.3 791.3,246.1 792,239.6 792.6,256.1 794.3,255.8 794.9,247.2 795.6,236.5 796.1,240.4 796.6,228.5 797.2,243.8 798.1,236.6 799.2,231.7 800,190.3 800.9,190.9 801.6,235.9 802.2,245.9 802.9,240 803.5,257.6 805.2,258.1 805.8,245.7 806.5,235.4 807,242.6 807.5,227.4 808.1,242.7 809,238 810.1,232.3 810.9,191.1 811.8,190.7 812.5,235.5 813.1,246.3 813.8,240.1 814.4,257.6 816.1,256.8 816.7,245.2 817.4,235.4 817.9,241.9 818.4,227.7 819,241.7 819.9,237.7 821,232 821.8,191.2 822.7,189.9 823.4,236.4 824,246.5 824.7,239.6 825.3,256.4 827,257.9 827.6,247 828.3,236.5 828.8,241.2 829.3,228.7 829.9,242.9 830.8,237.9 831.9,231.5 832.7,190.5 833.6,190.5 834.3,237.7 834.9,245.9 835.6,240.8 836.2,257.3 837.9,256.7 838.5,246.7 839.2,234.7 839.7,241.1 836,224 837.5,224" fill="none" stroke="#a040f0" stroke-width="2.4" stroke-linejoin="round"/>
<polyline points="841.7,259 843.5,256 844.2,256 844.8,184 845.6,181.4 846.3,187 847.8,187 848.5,230 848.9,256 849.9,266.3 850.7,258 851.5,256 853.6,256 854.2,184 855,181.4 855.7,187 857.2,187 857.9,230 858.3,256 859.3,266.3 860.1,258 860.9,256 863,256 863.6,184 864.4,181.4 865.1,187 866.6,187 867.3,230 867.7,256 868.7,266.3 869.5,258 870.3,256 875.9,256 876.5,184 877.3,181.4 878,187 879.5,187 880.2,230 880.6,256 881.6,266.3 882.4,258 883.2,256 885.3,256 885.9,184 886.7,181.4 887.4,187 888.9,187 889.6,230 890,256 891,266.3 891.8,258 892.6,256 894.7,256 895.3,184 896.1,181.4 896.8,187 898.3,187 899,230 899.4,256 900.4,266.3 901.2,258 902,256 903.5,256 905.7,255" fill="none" stroke="#0000ff" stroke-width="2.2" stroke-linejoin="round"/>
<polyline points="919.2,256.6 919.2,190 920,190 920.8,190 921.1,169.1 921.5,192 922.3,192 922.6,256.6 922.9,224 923.7,224 924,258 924.6,276.3 925.1,258 925.7,256.6 926,190 926.8,190 927.1,256.6 927.8,224 928.6,224 928.9,190 929.5,190 930.3,190 930.6,169.1 931,192 931.8,192 932.1,256.6 932.4,224 933.2,224 933.5,258 934.1,276.3 934.6,258 935.2,256.6 935.5,190 936.3,190 936.6,256.6 937.3,224 938.1,224 938.4,190 939.2,190 940,190 940.3,169.1 940.7,192 941.5,192 941.8,256.6 942.1,224 942.9,224 943.2,258 943.8,276.3 944.3,258 944.9,256.6 945.2,190 946,190 946.3,256.6 947,224 947.8,224 948.1,190 948.7,190 949.5,190 949.8,169.1 950.2,192 951,192 951.3,256.6 951.6,224 952.4,224 952.7,258 953.3,276.3 953.8,258 954.4,256.6 954.7,190 955.5,190 955.8,256.6 956.5,224 957.3,224 957.6,190 958.3,190 959.1,190 959.4,169.1 959.8,192 960.6,192 960.9,256.6 961.2,224 962,224 962.3,258 962.9,276.3 963.4,258 964,256.6 964.3,190 965.1,190 965.4,256.6 966.1,224 966.9,224 967.2,190 968,190 968.8,190 969.1,169.1 969.5,192 970.3,192 970.6,256.6 970.9,224 971.7,224 972,258 972.6,276.3 973.1,258 973.7,256.6 974,190 974.8,190 975.1,256.6 975.8,224 976.6,224 976.9,190 977.5,190 978.4,190 978.7,256.6 979.1,267.5 979.6,256.6 980.4,254 980.7,190 981.6,190 981.9,255 983.1,254" fill="none" stroke="#00f4f4" stroke-width="2.4" stroke-linejoin="round"/>
<polyline points="990.8,256 990.8,190 991.6,192 992,258 992.6,311.4 993.3,262 993.9,270 994.4,256 994.8,192 995.3,256 995.7,192 996.2,250 996.6,186 997.1,256 997.5,182.7 997.9,192 998.3,135.9 998.9,182 999.3,256 999.8,192 1000.3,256 1000.7,192 1001.1,256 1000.7,192 1001.1,258 1001.7,310 1002.4,262 1003,270 1003.5,256 1003.9,192 1004.4,256 1004.8,192 1005.3,250 1005.7,186 1006.2,256 1006.6,178.7 1007,192 1007.7,139.4 1008.3,182 1008.7,256 1009.2,192 1009.7,256 1010.1,192 1010.5,256 1010.5,192 1010.9,258 1011.5,312 1012.2,262 1012.8,270 1013.3,256 1013.7,192 1014.2,256 1014.6,192 1015.1,250 1015.5,186 1016,256 1016.4,180.5 1016.8,192 1016.8,137.2 1017.4,182 1017.8,256 1018.3,192 1018.8,256 1019.2,192 1019.6,256 1019.6,192 1020,258 1020.6,311.4 1021.3,262 1021.9,270 1022.4,256 1022.8,192 1023.3,256 1023.7,192 1024.2,250 1024.6,186 1025.1,256 1025.5,180.3 1025.9,192 1026.6,137.8 1027.2,182 1027.6,256 1028.1,192 1028.6,256 1029,192 1029.4,256 1029.5,192 1029.9,258 1030.5,320.9 1031.2,262 1031.8,270 1032.3,256 1032.7,192 1033.2,256 1033.6,192 1034.1,250 1034.5,186 1035,256 1035.4,182.4 1035.8,192 1036,138.8 1036.6,182 1037,256 1037.5,192 1038,256 1038.4,192 1038.8,256 1039.3,192 1039.7,258 1040.3,311.4 1041,262 1041.6,270 1042.1,256 1042.5,192 1043,256 1043.4,192 1043.9,250 1044.3,186 1044.8,256 1045.2,180.4 1045.6,192 1046,137.6 1046.6,182 1047,256" fill="none" stroke="#ff00ff" stroke-width="2.2" stroke-linejoin="round"/>
<polyline points="1053.6,286.5 1054.2,258 1054.8,192 1055.4,258 1056.3,192 1057.2,258 1057.7,196 1058.2,258 1058.6,192 1059.2,84.3 1059.9,186 1060.4,258 1060.9,180 1061.4,194 1061.8,258 1062.6,262 1063.2,271 1063.8,379.2 1064.6,272 1065.2,258 1065.6,192 1066.1,258 1066.6,283 1067.1,258 1067.5,192 1068,258 1068,258 1068.5,196 1069,258 1069.4,192 1070,84.7 1070.7,186 1071.2,258 1071.7,175.5 1072.2,194 1072.6,258 1073.7,262 1074.3,271 1074.9,376.6 1075.7,272 1076.3,258 1076.7,192 1077.2,258 1077.7,278.1 1078.2,258 1078.6,192 1079.1,258 1078.9,258 1079.4,196 1079.9,258 1080.3,192 1080.9,83.9 1081.6,186 1082.1,258 1082.6,178 1083.1,194 1083.5,258 1084.5,262 1085.1,271 1085.7,376.6 1086.5,272 1087.1,258 1087.5,192 1088,258 1088.5,282.3 1089,258 1089.4,192 1089.9,258 1090.1,258 1090.6,196 1091.1,258 1091.5,192 1092.1,83.8 1092.8,186 1093.3,258 1093.8,171.1 1094.3,194 1094.7,258 1095.7,262 1096.3,271 1096.9,382.6 1097.7,272 1098.3,258 1098.7,192 1099.2,258 1099.7,282.3 1100.2,258 1100.6,192 1101.1,258 1100.9,258 1101.4,196 1101.9,258 1102.3,192 1102.9,84.1 1103.6,186 1104.1,258 1104.6,174.9 1105.1,194 1105.5,258 1106.5,262 1107.1,271 1107.7,372.3 1108.5,272 1109.1,258 1109.5,192 1110,258 1110.5,281 1111,258 1111.4,192 1111.9,258 1111.7,258 1112.2,196 1112.7,258 1113.1,192 1113.7,84.5 1114.4,186 1114.9,258 1115.4,176.9 1115.9,194 1116.3,258 1117.4,262 1118,271 1118.6,382.6 1119.4,272 1120,258 1120.4,192 1120.9,258 1121.4,284.9 1121.9,258 1122.3,192 1122.8,258 1122.8,258 1123.3,196 1123.8,258 1124.2,192 1124.8,84.9 1125.5,186 1126,258" fill="none" stroke="#f40000" stroke-width="2.1" stroke-linejoin="round"/>
<text x="694" y="274.9" font-size="24.4">0.05 kPa</text>
<text x="759.4" y="184" font-size="24.4">0.5 kPa</text>
<text x="841.7" y="168.6" font-size="24.4">1 kPa</text>
<text x="919" y="163.1" font-size="24.4">5 kPa</text>
<text x="972.6" y="124.1" font-size="24.4">20 kPa</text>
<text x="1035.2" y="82.6" font-size="24.4">100 kPa</text>
<rect x="687" y="59.7" width="459.3" height="326.7" fill="none" stroke="#000" stroke-width="2.6"/>
<line x1="680" y1="193.6" x2="694" y2="187.6" stroke="#000" stroke-width="2.2"/>
<line x1="680" y1="259.3" x2="694" y2="253.3" stroke="#000" stroke-width="2.2"/>
<line x1="1139.3" y1="193.6" x2="1153.3" y2="187.6" stroke="#000" stroke-width="2.2"/>
<line x1="1139.3" y1="259.3" x2="1153.3" y2="253.3" stroke="#000" stroke-width="2.2"/>
<line x1="828.5" y1="385.4" x2="828.5" y2="381.9" stroke="#000" stroke-width="2"/>
<line x1="969.5" y1="385.4" x2="969.5" y2="381.9" stroke="#000" stroke-width="2"/>
<line x1="1110.5" y1="385.4" x2="1110.5" y2="381.9" stroke="#000" stroke-width="2"/>
<line x1="758" y1="385.4" x2="758" y2="383.4" stroke="#000" stroke-width="2"/>
<line x1="899" y1="385.4" x2="899" y2="383.4" stroke="#000" stroke-width="2"/>
<line x1="1040" y1="385.4" x2="1040" y2="383.4" stroke="#000" stroke-width="2"/>
<line x1="688" y1="103.8" x2="691.5" y2="103.8" stroke="#000" stroke-width="2"/>
<line x1="688" y1="147.1" x2="691.5" y2="147.1" stroke="#000" stroke-width="2"/>
<line x1="688" y1="328.9" x2="691.5" y2="328.9" stroke="#000" stroke-width="2"/>
<text x="0" y="0" font-size="33.5" text-anchor="end" transform="translate(683.5 70.1) scale(1.03 1.0)">150</text>
<text x="0" y="0" font-size="33.5" text-anchor="end" transform="translate(683.5 113.4) scale(1.03 1.0)">100</text>
<text x="0" y="0" font-size="33.5" text-anchor="end" transform="translate(683.5 157.2) scale(1.03 1.0)">50</text>
<text x="0" y="0" font-size="33.5" text-anchor="end" transform="translate(683.5 336.8) scale(1.03 1.0)">-50</text>
<text x="680.8" y="204.9" font-size="33.5" text-anchor="end">0.1</text>
<text x="680.8" y="233.2" font-size="33.5" text-anchor="end">0.0</text>
<text x="680.8" y="258.1" font-size="33.5" text-anchor="end">-0.1</text>
<text x="0" y="0" font-size="33.5" text-anchor="middle" transform="translate(686.3 417) scale(1.07 1.0)">0</text>
<text x="0" y="0" font-size="33.5" text-anchor="middle" transform="translate(827.5 417) scale(1.07 1.0)">20</text>
<text x="0" y="0" font-size="33.5" text-anchor="middle" transform="translate(968.7 417) scale(1.07 1.0)">40</text>
<text x="0" y="0" font-size="33.5" text-anchor="middle" transform="translate(1109.9 417) scale(1.07 1.0)">60</text>
<text x="0" y="0" font-size="33.5" text-anchor="middle" transform="translate(916.2 455.7) scale(1.03 1.0)">Time (s)</text>
<text x="0" y="0" font-size="34.5" text-anchor="middle" transform="translate(617.5 224) rotate(-90)">Voltage (V)</text>
<text x="647.3" y="37" font-size="48.5">b</text>
</g>
<g id="pc">
<clipPath id="cc"><rect x="1264.0" y="61.7" width="460.70000000000005" height="326.6"/></clipPath>
<g clip-path="url(#cc)">
<polyline points="1288.2,381.7 1310.9,380.8 1333.7,380.8 1356.4,379.5 1379.2,378.8 1401.9,377.8 1424.7,377.4 1447.4,376.6 1470.2,375.7 1492.9,375.4 1515.7,374.7 1538.4,373.9 1561.2,373.2 1583.9,372.5 1606.7,371.8 1629.4,371.1 1652.2,370.2 1674.9,369.5 1697.7,368.6 1720.4,367.9" fill="none" stroke="#9a30f0" stroke-width="2.6" stroke-linejoin="round" stroke-dasharray="15 7"/>
<polyline points="1265.4,381.5 1265.6,381.3 1265.9,381 1266.1,380.8 1266.3,380.6 1266.5,380.3 1266.8,380.1 1267,379.9 1267.2,379.7 1267.4,379.4 1267.7,379.2 1270,378.3 1272.2,377.1 1274.5,375.7 1276.8,374.5 1279.1,373 1281.3,371.7 1283.6,370.2 1285.9,369.3 1288.2,368.5 1310.9,357.7 1333.7,347.4 1356.4,335.4 1379.2,323.4 1401.9,309.7 1424.7,298.6 1447.4,285.9 1470.2,274.6 1492.9,262.6 1515.7,252.8 1538.4,239.2 1561.2,229.4 1583.9,217.1 1606.7,206.5 1629.4,193.2 1652.2,181.5 1674.9,170.8 1697.7,159.1 1720.4,144.2" fill="none" stroke="#f00000" stroke-width="3" stroke-linejoin="round" stroke-dasharray="16 8"/>
<circle cx="1288.2" cy="381.7" r="6.6" fill="url(#ball)"/>
<circle cx="1310.9" cy="380.8" r="6.6" fill="url(#ball)"/>
<circle cx="1333.7" cy="380.8" r="6.6" fill="url(#ball)"/>
<circle cx="1356.4" cy="379.5" r="6.6" fill="url(#ball)"/>
<circle cx="1379.2" cy="378.8" r="6.6" fill="url(#ball)"/>
<circle cx="1401.9" cy="377.8" r="6.6" fill="url(#ball)"/>
<circle cx="1424.7" cy="377.4" r="6.6" fill="url(#ball)"/>
<circle cx="1447.4" cy="376.6" r="6.6" fill="url(#ball)"/>
<circle cx="1470.2" cy="375.7" r="6.6" fill="url(#ball)"/>
<circle cx="1492.9" cy="375.4" r="6.6" fill="url(#ball)"/>
<circle cx="1515.7" cy="374.7" r="6.6" fill="url(#ball)"/>
<circle cx="1538.4" cy="373.9" r="6.6" fill="url(#ball)"/>
<circle cx="1561.2" cy="373.2" r="6.6" fill="url(#ball)"/>
<circle cx="1583.9" cy="372.5" r="6.6" fill="url(#ball)"/>
<circle cx="1606.7" cy="371.8" r="6.6" fill="url(#ball)"/>
<circle cx="1629.4" cy="371.1" r="6.6" fill="url(#ball)"/>
<circle cx="1652.2" cy="370.2" r="6.6" fill="url(#ball)"/>
<circle cx="1674.9" cy="369.5" r="6.6" fill="url(#ball)"/>
<circle cx="1697.7" cy="368.6" r="6.6" fill="url(#ball)"/>
<circle cx="1720.4" cy="367.9" r="6.6" fill="url(#ball)"/>
<polygon points="1257.7,388.4 1273.1,388.4 1265.4,374.6" fill="#f00000"/>
<polygon points="1257.9,388.2 1273.3,388.2 1265.6,374.3" fill="#f00000"/>
<polygon points="1258.2,388 1273.6,388 1265.9,374.1" fill="#f00000"/>
<polygon points="1258.4,387.7 1273.8,387.7 1266.1,373.9" fill="#f00000"/>
<polygon points="1258.6,387.5 1274,387.5 1266.3,373.6" fill="#f00000"/>
<polygon points="1258.8,387.3 1274.2,387.3 1266.5,373.4" fill="#f00000"/>
<polygon points="1259.1,387 1274.5,387 1266.8,373.2" fill="#f00000"/>
<polygon points="1259.3,386.8 1274.7,386.8 1267,373" fill="#f00000"/>
<polygon points="1259.5,386.6 1274.9,386.6 1267.2,372.7" fill="#f00000"/>
<polygon points="1259.7,386.4 1275.1,386.4 1267.4,372.5" fill="#f00000"/>
<polygon points="1260,386.1 1275.4,386.1 1267.7,372.3" fill="#f00000"/>
<polygon points="1262.2,385.2 1277.7,385.2 1270,371.4" fill="#f00000"/>
<polygon points="1264.5,384.1 1279.9,384.1 1272.2,370.2" fill="#f00000"/>
<polygon points="1266.8,382.7 1282.2,382.7 1274.5,368.8" fill="#f00000"/>
<polygon points="1269.1,381.4 1284.5,381.4 1276.8,367.5" fill="#f00000"/>
<polygon points="1271.4,379.9 1286.8,379.9 1279.1,366" fill="#f00000"/>
<polygon points="1273.6,378.7 1289,378.7 1281.3,364.8" fill="#f00000"/>
<polygon points="1275.9,377.1 1291.3,377.1 1283.6,363.3" fill="#f00000"/>
<polygon points="1278.2,376.3 1293.6,376.3 1285.9,362.4" fill="#f00000"/>
<polygon points="1280.5,375.4 1295.9,375.4 1288.2,361.6" fill="#f00000"/>
<polygon points="1303.2,364.7 1318.6,364.7 1310.9,350.8" fill="#f00000"/>
<polygon points="1326,354.3 1341.4,354.3 1333.7,340.5" fill="#f00000"/>
<polygon points="1348.7,342.3 1364.1,342.3 1356.4,328.4" fill="#f00000"/>
<polygon points="1371.5,330.4 1386.9,330.4 1379.2,316.5" fill="#f00000"/>
<polygon points="1394.2,316.6 1409.6,316.6 1401.9,302.8" fill="#f00000"/>
<polygon points="1417,305.6 1432.4,305.6 1424.7,291.7" fill="#f00000"/>
<polygon points="1439.7,292.8 1455.1,292.8 1447.4,278.9" fill="#f00000"/>
<polygon points="1462.5,281.5 1477.9,281.5 1470.2,267.6" fill="#f00000"/>
<polygon points="1485.2,269.6 1500.6,269.6 1492.9,255.7" fill="#f00000"/>
<polygon points="1508,259.8 1523.4,259.8 1515.7,245.9" fill="#f00000"/>
<polygon points="1530.7,246.1 1546.1,246.1 1538.4,232.3" fill="#f00000"/>
<polygon points="1553.5,236.3 1568.9,236.3 1561.2,222.5" fill="#f00000"/>
<polygon points="1576.2,224 1591.6,224 1583.9,210.1" fill="#f00000"/>
<polygon points="1599,213.4 1614.4,213.4 1606.7,199.6" fill="#f00000"/>
<polygon points="1621.7,200.1 1637.1,200.1 1629.4,186.3" fill="#f00000"/>
<polygon points="1644.5,188.4 1659.9,188.4 1652.2,174.5" fill="#f00000"/>
<polygon points="1667.2,177.8 1682.6,177.8 1674.9,163.9" fill="#f00000"/>
<polygon points="1690,166 1705.4,166 1697.7,152.2" fill="#f00000"/>
<polygon points="1712.7,151.1 1728.1,151.1 1720.4,137.3" fill="#f00000"/>
</g>
<line x1="1265.4" y1="343.1" x2="1311" y2="343.1" stroke="#000" stroke-width="3" stroke-dasharray="12.5 16 15 100"/>
<line x1="1311" y1="343.1" x2="1311" y2="387" stroke="#000" stroke-width="3" stroke-dasharray="0 15.5 15 100"/>
<line x1="1277.8" y1="341" x2="1324.5" y2="255.5" stroke="#000" stroke-width="3" stroke-dasharray="9 16 15 16 15 16 100"/>
<polygon points="1328.3,249.5 1325.6,261 1319.6,257.6" fill="#000"/>
<rect x="1312" y="80.2" width="178" height="114.4" fill="#fff"/>
<clipPath id="cci"><rect x="1312.0" y="80.2" width="178.0" height="114.39999999999999"/></clipPath>
<g clip-path="url(#cci)">
<polyline points="1312.6,192.9 1314.4,191.1 1316.1,189.3 1317.9,187.5 1319.7,185.7 1321.4,183.9 1323.2,182.1 1325,180.3 1326.8,178.5 1328.5,176.7 1330.3,174.9 1348,167.8 1365.7,158.6 1383.4,147.7 1401.1,137.7 1418.8,126 1436.5,116.3 1454.2,104.2 1471.9,97.5 1489.6,90.8" fill="none" stroke="#f00000" stroke-width="2.2" stroke-linejoin="round"/>
<polygon points="1304.9,198.4 1320.3,198.4 1312.6,184.5" fill="#f00000"/>
<polygon points="1306.7,196.6 1322.1,196.6 1314.4,182.7" fill="#f00000"/>
<polygon points="1308.4,194.8 1323.8,194.8 1316.1,180.9" fill="#f00000"/>
<polygon points="1310.2,193 1325.6,193 1317.9,179.1" fill="#f00000"/>
<polygon points="1312,191.2 1327.4,191.2 1319.7,177.3" fill="#f00000"/>
<polygon points="1313.7,189.4 1329.1,189.4 1321.4,175.5" fill="#f00000"/>
<polygon points="1315.5,187.6 1330.9,187.6 1323.2,173.7" fill="#f00000"/>
<polygon points="1317.3,185.8 1332.7,185.8 1325,171.9" fill="#f00000"/>
<polygon points="1319.1,184 1334.5,184 1326.8,170.1" fill="#f00000"/>
<polygon points="1320.8,182.2 1336.2,182.2 1328.5,168.3" fill="#f00000"/>
<polygon points="1322.6,180.4 1338,180.4 1330.3,166.5" fill="#f00000"/>
<polygon points="1340.3,173.2 1355.7,173.2 1348,159.4" fill="#f00000"/>
<polygon points="1358,164 1373.4,164 1365.7,150.2" fill="#f00000"/>
<polygon points="1375.7,153.2 1391.1,153.2 1383.4,139.3" fill="#f00000"/>
<polygon points="1393.4,143.1 1408.8,143.1 1401.1,129.3" fill="#f00000"/>
<polygon points="1411.1,131.4 1426.5,131.4 1418.8,117.5" fill="#f00000"/>
<polygon points="1428.8,121.8 1444.2,121.8 1436.5,107.9" fill="#f00000"/>
<polygon points="1446.5,109.6 1461.9,109.6 1454.2,95.8" fill="#f00000"/>
<polygon points="1464.2,102.9 1479.6,102.9 1471.9,89.1" fill="#f00000"/>
<polygon points="1481.9,96.2 1497.3,96.2 1489.6,82.4" fill="#f00000"/>
<polygon points="1481.7,193.2 1497.1,193.2 1489.4,179.4" fill="#9b10f5"/>
</g>
<rect x="1312" y="80.2" width="178" height="114.4" fill="none" stroke="#000" stroke-width="2.3"/>
<line x1="1348" y1="193.6" x2="1348" y2="190.6" stroke="#000" stroke-width="1.8"/>
<line x1="1383.4" y1="193.6" x2="1383.4" y2="190.6" stroke="#000" stroke-width="1.8"/>
<line x1="1418.8" y1="193.6" x2="1418.8" y2="190.6" stroke="#000" stroke-width="1.8"/>
<line x1="1454.2" y1="193.6" x2="1454.2" y2="190.6" stroke="#000" stroke-width="1.8"/>
<line x1="1313" y1="161.1" x2="1316" y2="161.1" stroke="#000" stroke-width="1.8"/>
<line x1="1313" y1="127.6" x2="1316" y2="127.6" stroke="#000" stroke-width="1.8"/>
<line x1="1313" y1="94.2" x2="1316" y2="94.2" stroke="#000" stroke-width="1.8"/>
<text x="0" y="0" font-size="22" text-anchor="middle" transform="translate(1312.6 215.7) scale(1.12 1.0)">0</text>
<text x="0" y="0" font-size="22" text-anchor="middle" transform="translate(1348 215.7) scale(1.12 1.0)">1</text>
<text x="0" y="0" font-size="22" text-anchor="middle" transform="translate(1383.4 215.7) scale(1.12 1.0)">2</text>
<text x="0" y="0" font-size="22" text-anchor="middle" transform="translate(1418.8 215.7) scale(1.12 1.0)">3</text>
<text x="0" y="0" font-size="22" text-anchor="middle" transform="translate(1454.2 215.7) scale(1.12 1.0)">4</text>
<text x="0" y="0" font-size="22" text-anchor="middle" transform="translate(1489.6 215.7) scale(1.12 1.0)">5</text>
<text x="0" y="0" font-size="22" text-anchor="end" transform="translate(1310.3 99) scale(1.12 1.0)">12</text>
<text x="0" y="0" font-size="22" text-anchor="end" transform="translate(1310.3 133.9) scale(1.12 1.0)">8</text>
<text x="0" y="0" font-size="22" text-anchor="end" transform="translate(1310.3 167.4) scale(1.12 1.0)">4</text>
<text x="0" y="0" font-size="22" text-anchor="end" transform="translate(1310.3 199.5) scale(1.12 1.0)">0</text>
<text x="0" y="0" font-size="24.8" text-anchor="middle" transform="translate(1286 164.5) rotate(-90)">Voltage (V)</text>
<text x="0" y="0" font-size="23.2" text-anchor="middle" transform="translate(1405.2 239.7) scale(1.08 1.0)">Pressure (kPa)</text>
<polygon points="1496,84.6 1511.4,84.6 1503.7,70.8" fill="#f00000"/>
<circle cx="1504" cy="139.4" r="6.9" fill="url(#ball)"/>
<text x="0" y="0" font-size="24.4" transform="translate(1531.6 86.2) scale(1.035 1.0)">PEDOT:PSS/</text>
<text x="0" y="0" font-size="24.4" transform="translate(1531.6 117.3) scale(1.035 1.0)">P(VDF-TrFE)</text>
<text x="0" y="0" font-size="24.4" transform="translate(1531.6 147.4) scale(1.035 1.0)">Au/P(VDF-TrFE)</text>
<text x="1549.5" y="255" font-size="24.4">S<tspan font-size="16.5" dy="6.5">pp</tspan><tspan dy="-6.5">=2.2 V kPa</tspan><tspan font-size="15.5" dy="-9.5">-1</tspan></text>
<text x="1452.3" y="305.4" font-size="24.4"><tspan font-style="italic">R</tspan><tspan font-size="16.5" dy="6.5">pp</tspan><tspan font-size="15.5" dy="-17">2</tspan><tspan dy="10.5">=0.9989</tspan></text>
<text x="1357.1" y="360.3" font-size="24.4"><tspan font-style="italic">R</tspan><tspan font-size="16.5" dy="6.5">pm</tspan><tspan font-size="15.5" dy="-17">2</tspan><tspan dy="10.5">=0.9952</tspan></text>
<text x="1515.8" y="344" font-size="24.4"><tspan font-style="italic">S</tspan><tspan font-size="16.5" dy="6.5">pm</tspan><tspan dy="-6.5">=0.14 V kPa</tspan><tspan font-size="15.5" dy="-9.5">-1</tspan></text>
<rect x="1264" y="61.7" width="459.2" height="326.6" fill="none" stroke="#000" stroke-width="2.9"/>
<line x1="1356.4" y1="387.3" x2="1356.4" y2="383.3" stroke="#000" stroke-width="2"/>
<line x1="1447.4" y1="387.3" x2="1447.4" y2="383.3" stroke="#000" stroke-width="2"/>
<line x1="1538.4" y1="387.3" x2="1538.4" y2="383.3" stroke="#000" stroke-width="2"/>
<line x1="1629.4" y1="387.3" x2="1629.4" y2="383.3" stroke="#000" stroke-width="2"/>
<line x1="1310.9" y1="387.3" x2="1310.9" y2="384.8" stroke="#000" stroke-width="2"/>
<line x1="1401.9" y1="387.3" x2="1401.9" y2="384.8" stroke="#000" stroke-width="2"/>
<line x1="1492.9" y1="387.3" x2="1492.9" y2="384.8" stroke="#000" stroke-width="2"/>
<line x1="1583.9" y1="387.3" x2="1583.9" y2="384.8" stroke="#000" stroke-width="2"/>
<line x1="1674.9" y1="387.3" x2="1674.9" y2="384.8" stroke="#000" stroke-width="2"/>
<line x1="1265" y1="319.1" x2="1268.5" y2="319.1" stroke="#000" stroke-width="2"/>
<line x1="1265" y1="254.7" x2="1268.5" y2="254.7" stroke="#000" stroke-width="2"/>
<line x1="1265" y1="190.3" x2="1268.5" y2="190.3" stroke="#000" stroke-width="2"/>
<line x1="1265" y1="125.9" x2="1268.5" y2="125.9" stroke="#000" stroke-width="2"/>
<text x="0" y="0" font-size="33.5" text-anchor="end" transform="translate(1258 394.2) scale(1.03 1.0)">0</text>
<text x="0" y="0" font-size="33.5" text-anchor="end" transform="translate(1258 329.7) scale(1.03 1.0)">60</text>
<text x="0" y="0" font-size="33.5" text-anchor="end" transform="translate(1258 265.1) scale(1.03 1.0)">120</text>
<text x="0" y="0" font-size="33.5" text-anchor="end" transform="translate(1258 200.6) scale(1.03 1.0)">180</text>
<text x="0" y="0" font-size="33.5" text-anchor="end" transform="translate(1258 136) scale(1.03 1.0)">240</text>
<text x="0" y="0" font-size="33.5" text-anchor="end" transform="translate(1258 71.5) scale(1.03 1.0)">300</text>
<text x="1265.4" y="418" font-size="33.5" text-anchor="middle">0</text>
<text x="1356.4" y="418" font-size="33.5" text-anchor="middle">20</text>
<text x="1447.4" y="418" font-size="33.5" text-anchor="middle">40</text>
<text x="1538.4" y="418" font-size="33.5" text-anchor="middle">60</text>
<text x="1629.4" y="418" font-size="33.5" text-anchor="middle">80</text>
<text x="1722.4" y="418" font-size="33.5" text-anchor="middle">100</text>
<text x="0" y="0" font-size="33.5" text-anchor="middle" transform="translate(1505 455.1) scale(1.04 1.0)">Pressure (kPa)</text>
<text x="0" y="0" font-size="35" text-anchor="middle" transform="translate(1194 222) rotate(-90)">Voltage (V)</text>
<text x="1224.5" y="40.8" font-size="48.5">c</text>
</g>
<g id="pd_">
<clipPath id="cd"><rect x="116.5" y="481.7" width="460.1" height="325.90000000000003"/></clipPath>
<g clip-path="url(#cd)">
<polyline points="106,558.8 107,553.1 108,546.9 109,541 110,535.6 111,530.8 112,526.6 113,522.9 114,519.7 115,516.9 116,514.5 117,512.5 118,510.8 119,509.3 120,508 121,507 122,506.1 123,505.4 124,504.7 125,504.2 125.9,503.8 126.9,503.4 127.9,503.1 128.9,502.9 129.9,502.7 130.9,502.5 131.9,502.3 132.9,502.2 133.9,502.1 134.9,502.1 135.9,502 136.9,501.9 137.9,501.9 138.9,501.9 139.9,501.8 140.9,501.8 141.9,501.8 142.9,501.8 143.9,501.8 144.9,501.7 144.9,501.7 145.9,511.8 146.8,520.3 147.8,527.6 148.8,533.7 149.7,538.9 150.7,543.3 151.7,547 152.6,550.1 153.6,552.6 154.6,554.8 155.5,556.6 156.5,558.1 157.5,559.3 158.4,560.2 159.4,561 160.4,561.6 161.3,562.1 162.3,562.4 163.3,562.7 164.2,562.8 165.2,562.9 166.2,562.9 167.1,562.9 168.1,562.8 169.1,562.7 170,562.5 171,562.3 172,562.1 172.9,561.8 173.9,561.6 174.9,561.3 175.8,561 176.8,560.7 177.8,560.4 178.7,560.1 179.7,559.8 180.7,559.4 181.6,559.1 182.6,558.8 182.6,558.8 183.6,553.1 184.6,547 185.6,541.1 186.6,535.8 187.5,531 188.5,526.8 189.5,523.1 190.5,519.9 191.5,517.1 192.5,514.7 193.5,512.6 194.5,510.9 195.5,509.4 196.5,508.2 197.4,507.1 198.4,506.2 199.4,505.4 200.4,504.8 201.4,504.3 202.4,503.8 203.4,503.5 204.4,503.2 205.4,502.9 206.4,502.7 207.3,502.5 208.3,502.4 209.3,502.3 210.3,502.2 211.3,502.1 212.3,502 213.3,501.9 214.3,501.9 215.3,501.9 216.3,501.8 217.2,501.8 218.2,501.8 219.2,501.8 220.2,501.8 221.2,501.7 221.2,501.7 222.2,511.7 223.1,520.3 224.1,527.5 225,533.6 226,538.8 227,543.2 227.9,546.8 228.9,549.9 229.9,552.5 230.8,554.7 231.8,556.5 232.7,558 233.7,559.2 234.7,560.2 235.6,561 236.6,561.6 237.5,562.1 238.5,562.4 239.5,562.7 240.4,562.8 241.4,562.9 242.4,562.9 243.3,562.9 244.3,562.8 245.2,562.7 246.2,562.5 247.2,562.3 248.1,562.1 249.1,561.9 250,561.6 251,561.4 252,561.1 252.9,560.8 253.9,560.5 254.9,560.1 255.8,559.8 256.8,559.5 257.7,559.2 258.7,558.8 258.7,558.8 259.6,553.4 260.6,547.6 261.5,541.9 262.5,536.8 263.4,532.1 264.3,528 265.3,524.3 266.2,521.1 267.2,518.3 268.1,515.8 269.1,513.7 270,511.9 270.9,510.3 271.9,509 272.8,507.9 273.8,506.9 274.7,506.1 275.6,505.4 276.6,504.8 277.5,504.3 278.5,503.9 279.4,503.5 280.3,503.2 281.3,502.9 282.2,502.7 283.2,502.6 284.1,502.4 285,502.3 286,502.2 286.9,502.1 287.9,502 288.8,502 289.8,501.9 290.7,501.9 291.6,501.9 292.6,501.8 293.5,501.8 294.5,501.8 295.4,501.8 295.4,501.7 296.4,512.1 297.4,520.8 298.4,528.2 299.4,534.4 300.4,539.7 301.4,544 302.4,547.7 303.4,550.8 304.4,553.3 305.4,555.4 306.4,557.1 307.4,558.5 308.4,559.7 309.4,560.6 310.4,561.3 311.4,561.9 312.4,562.3 313.4,562.6 314.4,562.8 315.3,562.9 316.3,562.9 317.3,562.9 318.3,562.8 319.3,562.7 320.3,562.5 321.3,562.3 322.3,562.1 323.3,561.9 324.3,561.6 325.3,561.3 326.3,561 327.3,560.7 328.3,560.4 329.3,560.1 330.3,559.7 331.3,559.4 332.3,559 333.3,558.7 334.3,558.3 334.3,558.8 335.3,553.1 336.3,547 337.3,541.1 338.3,535.8 339.2,531 340.2,526.8 341.2,523.1 342.2,519.9 343.2,517.1 344.2,514.7 345.2,512.6 346.2,510.9 347.2,509.4 348.2,508.2 349.1,507.1 350.1,506.2 351.1,505.4 352.1,504.8 353.1,504.3 354.1,503.8 355.1,503.5 356.1,503.2 357.1,502.9 358.1,502.7 359,502.5 360,502.4 361,502.3 362,502.2 363,502.1 364,502 365,501.9 366,501.9 367,501.9 368,501.8 368.9,501.8 369.9,501.8 370.9,501.8 371.9,501.8 372.9,501.7 372.9,501.7 373.9,511.8 374.8,520.3 375.8,527.6 376.8,533.7 377.7,538.9 378.7,543.3 379.7,547 380.6,550.1 381.6,552.6 382.6,554.8 383.5,556.6 384.5,558.1 385.5,559.3 386.4,560.2 387.4,561 388.4,561.6 389.3,562.1 390.3,562.4 391.3,562.7 392.2,562.8 393.2,562.9 394.2,562.9 395.1,562.9 396.1,562.8 397.1,562.7 398,562.5 399,562.3 400,562.1 400.9,561.8 401.9,561.6 402.9,561.3 403.8,561 404.8,560.7 405.8,560.4 406.7,560.1 407.7,559.8 408.7,559.4 409.6,559.1 410.6,558.8 410.6,558.8 411.6,553.1 412.6,547 413.6,541.1 414.6,535.8 415.5,531 416.5,526.8 417.5,523.1 418.5,519.9 419.5,517.1 420.5,514.7 421.5,512.6 422.5,510.9 423.5,509.4 424.5,508.2 425.4,507.1 426.4,506.2 427.4,505.4 428.4,504.8 429.4,504.3 430.4,503.8 431.4,503.5 432.4,503.2 433.4,502.9 434.4,502.7 435.3,502.5 436.3,502.4 437.3,502.3 438.3,502.2 439.3,502.1 440.3,502 441.3,501.9 442.3,501.9 443.3,501.9 444.3,501.8 445.2,501.8 446.2,501.8 447.2,501.8 448.2,501.8 449.2,501.7 449.2,501.7 450.1,511.6 451.1,520 452,527.1 453,533.2 453.9,538.3 454.9,542.7 455.8,546.4 456.7,549.5 457.7,552.1 458.6,554.3 459.6,556.2 460.5,557.7 461.5,558.9 462.4,559.9 463.4,560.8 464.3,561.4 465.2,561.9 466.2,562.3 467.1,562.6 468.1,562.8 469,562.9 470,562.9 470.9,562.9 471.8,562.8 472.8,562.7 473.7,562.6 474.7,562.4 475.6,562.2 476.6,562 477.5,561.8 478.5,561.5 479.4,561.2 480.3,561 481.3,560.7 482.2,560.4 483.2,560 484.1,559.7 485.1,559.4 486,559.1 486,558.8 487,553.1 488,547 489,541.1 490,535.8 490.9,531 491.9,526.8 492.9,523.1 493.9,519.9 494.9,517.1 495.9,514.7 496.9,512.6 497.9,510.9 498.9,509.4 499.9,508.2 500.8,507.1 501.8,506.2 502.8,505.4 503.8,504.8 504.8,504.3 505.8,503.8 506.8,503.5 507.8,503.2 508.8,502.9 509.8,502.7 510.7,502.5 511.7,502.4 512.7,502.3 513.7,502.2 514.7,502.1 515.7,502 516.7,501.9 517.7,501.9 518.7,501.9 519.7,501.8 520.6,501.8 521.6,501.8 522.6,501.8 523.6,501.8 524.6,501.7 524.6,501.7 525.7,512.8 526.8,522.1 527.8,529.8 528.9,536.2 530,541.5 531.1,545.9 532.1,549.5 533.2,552.4 534.3,554.9 535.4,556.8 536.4,558.4 537.5,559.6 538.6,560.6 539.7,561.4 540.8,562 541.8,562.4 542.9,562.7 544,562.8 545.1,562.9 546.1,562.9 547.2,562.9 548.3,562.7 549.4,562.6 550.4,562.4 551.5,562.1 552.6,561.8 553.7,561.6 554.8,561.3 555.8,560.9 556.9,560.6 558,560.2 559.1,559.9 560.1,559.5 561.2,559.1 562.3,558.8 563.4,558.4 564.4,558 565.5,557.6 566.6,557.2 566.6,558.8 567.5,553.8 568.4,548.3 569.2,543 570.1,538 571,533.5 571.9,529.5 572.8,525.9 573.7,522.6 574.5,519.8 575.4,517.3 576.3,515.1 577.2,513.2 578.1,511.6 578.9,510.2 579.8,508.9 580.7,507.9 581.6,507 582.5,506.2 583.4,505.5 584.2,504.9 585.1,504.4 586,504 586.9,503.6 587.8,503.3 588.7,503.1 589.5,502.9 590.4,502.7 591.3,502.5 592.2,502.4 593.1,502.3 593.9,502.2 594.8,502.1 595.7,502 596.6,502 597.5,501.9 598.4,501.9 599.2,501.9 600.1,501.8 601,501.8" fill="none" stroke="#ff0000" stroke-width="2.6" stroke-linejoin="round"/>
<polyline points="106,670 107.3,666.3 108.7,662.7 110,659.4 111.4,656.2 112.7,653.3 114,650.5 115.4,647.8 116.7,645.4 118.1,643 119.4,640.8 120.8,638.7 122.1,636.8 123.4,634.9 124.8,633.1 126.1,631.5 127.5,629.9 128.8,628.5 130.1,627.1 131.5,625.8 132.8,624.6 134.2,623.4 135.5,622.3 136.9,621.3 138.2,620.3 139.5,619.4 140.9,618.5 142.2,617.7 143.6,616.9 144.9,616.2 144.9,616.2 146.2,619.7 147.5,623 148.8,626.2 150.1,629.1 151.4,632 152.7,634.7 154,637.2 155.3,639.7 156.6,642 157.9,644.2 159.2,646.2 160.5,648.2 161.8,650.1 163.1,651.9 164.4,653.6 165.7,655.2 167,656.7 168.3,658.2 169.6,659.5 170.9,660.8 172.2,662.1 173.5,663.3 174.8,664.4 176.1,665.4 177.4,666.4 178.7,667.4 180,668.3 181.3,669.2 182.6,670 182.6,670 183.9,666.3 185.2,662.7 186.6,659.4 187.9,656.2 189.2,653.3 190.5,650.5 191.8,647.8 193.2,645.4 194.5,643 195.8,640.8 197.1,638.7 198.4,636.8 199.8,634.9 201.1,633.1 202.4,631.5 203.7,629.9 205.1,628.5 206.4,627.1 207.7,625.8 209,624.6 210.3,623.4 211.7,622.3 213,621.3 214.3,620.3 215.6,619.4 216.9,618.5 218.3,617.7 219.6,616.9 220.9,616.2 220.9,616.2 222.2,619.7 223.5,623 224.8,626.2 226.1,629.1 227.4,632 228.7,634.7 230,637.2 231.3,639.7 232.6,642 233.9,644.2 235.2,646.2 236.5,648.2 237.8,650.1 239.1,651.9 240.5,653.6 241.8,655.2 243.1,656.7 244.4,658.2 245.7,659.5 247,660.8 248.3,662.1 249.6,663.3 250.9,664.4 252.2,665.4 253.5,666.4 254.8,667.4 256.1,668.3 257.4,669.2 258.7,670 258.7,670 260,666.3 261.2,662.7 262.5,659.4 263.8,656.2 265,653.3 266.3,650.5 267.6,647.8 268.8,645.4 270.1,643 271.4,640.8 272.6,638.7 273.9,636.8 275.2,634.9 276.4,633.1 277.7,631.5 278.9,629.9 280.2,628.5 281.5,627.1 282.7,625.8 284,624.6 285.3,623.4 286.5,622.3 287.8,621.3 289.1,620.3 290.3,619.4 291.6,618.5 292.9,617.7 294.1,616.9 295.4,616.2 295.4,616.2 296.7,619.7 298,623 299.3,626.2 300.6,629.1 302,632 303.3,634.7 304.6,637.2 305.9,639.7 307.2,642 308.5,644.2 309.8,646.2 311.1,648.2 312.4,650.1 313.7,651.9 315.1,653.6 316.4,655.2 317.7,656.7 319,658.2 320.3,659.5 321.6,660.8 322.9,662.1 324.2,663.3 325.5,664.4 326.8,665.4 328.2,666.4 329.5,667.4 330.8,668.3 332.1,669.2 333.4,670 333.4,670 334.7,666.3 336,662.7 337.3,659.4 338.6,656.2 339.9,653.3 341.2,650.5 342.5,647.8 343.8,645.4 345.1,643 346.4,640.8 347.7,638.7 349,636.8 350.3,634.9 351.6,633.1 352.9,631.5 354.2,629.9 355.5,628.5 356.8,627.1 358.1,625.8 359.4,624.6 360.7,623.4 362,622.3 363.3,621.3 364.6,620.3 365.9,619.4 367.2,618.5 368.5,617.7 369.8,616.9 371.1,616.2 371.1,616.2 372.4,619.7 373.8,623 375.1,626.2 376.4,629.1 377.8,632 379.1,634.7 380.4,637.2 381.7,639.7 383.1,642 384.4,644.2 385.7,646.2 387.1,648.2 388.4,650.1 389.7,651.9 391.1,653.6 392.4,655.2 393.7,656.7 395.1,658.2 396.4,659.5 397.7,660.8 399.1,662.1 400.4,663.3 401.7,664.4 403,665.4 404.4,666.4 405.7,667.4 407,668.3 408.4,669.2 409.7,670 409.7,670 411,666.3 412.3,662.7 413.6,659.4 414.9,656.2 416.1,653.3 417.4,650.5 418.7,647.8 420,645.4 421.3,643 422.6,640.8 423.9,638.7 425.2,636.8 426.5,634.9 427.8,633.1 429,631.5 430.3,629.9 431.6,628.5 432.9,627.1 434.2,625.8 435.5,624.6 436.8,623.4 438.1,622.3 439.4,621.3 440.7,620.3 441.9,619.4 443.2,618.5 444.5,617.7 445.8,616.9 447.1,616.2 447.1,616.2 448.4,619.7 449.7,623 451,626.2 452.3,629.1 453.7,632 455,634.7 456.3,637.2 457.6,639.7 458.9,642 460.2,644.2 461.5,646.2 462.8,648.2 464.1,650.1 465.4,651.9 466.8,653.6 468.1,655.2 469.4,656.7 470.7,658.2 472,659.5 473.3,660.8 474.6,662.1 475.9,663.3 477.2,664.4 478.5,665.4 479.9,666.4 481.2,667.4 482.5,668.3 483.8,669.2 485.1,670 485.1,670 486.4,666.3 487.7,662.7 489,659.4 490.2,656.2 491.5,653.3 492.8,650.5 494.1,647.8 495.4,645.4 496.7,643 498,640.8 499.2,638.7 500.5,636.8 501.8,634.9 503.1,633.1 504.4,631.5 505.7,629.9 507,628.5 508.3,627.1 509.5,625.8 510.8,624.6 512.1,623.4 513.4,622.3 514.7,621.3 516,620.3 517.3,619.4 518.5,618.5 519.8,617.7 521.1,616.9 522.4,616.2 522.4,616.2 523.7,619.7 525,623 526.4,626.2 527.7,629.1 529,632 530.3,634.7 531.6,637.2 532.9,639.7 534.3,642 535.6,644.2 536.9,646.2 538.2,648.2 539.5,650.1 540.8,651.9 542.2,653.6 543.5,655.2 544.8,656.7 546.1,658.2 547.4,659.5 548.7,660.8 550.1,662.1 551.4,663.3 552.7,664.4 554,665.4 555.3,666.4 556.6,667.4 558,668.3 559.3,669.2 560.6,670 560.6,670 562,666.3 563.3,662.7 564.7,659.4 566,656.2 567.4,653.3 568.8,650.5 570.1,647.8 571.5,645.4 572.8,643 574.2,640.8 575.5,638.7 576.9,636.8 578.3,634.9 579.6,633.1 581,631.5 582.3,629.9 583.7,628.5 585.1,627.1 586.4,625.8 587.8,624.6 589.1,623.4 590.5,622.3 591.8,621.3 593.2,620.3 594.6,619.4 595.9,618.5 597.3,617.7 598.6,616.9 600,616.2" fill="none" stroke="#ff00ff" stroke-width="2.7" stroke-linejoin="round"/>
<polyline points="104,798 105.3,790.8 106.6,784.2 108,778.1 109.3,772.5 110.6,767.3 111.9,762.4 113.2,758 114.6,753.9 115.9,750.1 117.2,746.6 118.5,743.3 119.8,740.3 121.2,737.6 122.5,735 123.8,732.7 125.1,730.5 126.5,728.5 127.8,726.6 129.1,724.9 130.4,723.3 131.7,721.8 133.1,720.5 134.4,719.2 135.7,718.1 137,717 138.3,716 139.7,715.1 141,714.3 142.3,713.5 142.3,713.5 143.7,720 145,726.1 146.4,731.8 147.7,737.1 149.1,742 150.5,746.6 151.8,750.9 153.2,754.9 154.5,758.7 155.9,762.2 157.2,765.5 158.6,768.5 160,771.4 161.3,774 162.7,776.5 164,778.8 165.4,781 166.8,783 168.1,784.9 169.5,786.6 170.8,788.3 172.2,789.8 173.5,791.2 174.9,792.6 176.3,793.8 177.6,795 179,796 180.3,797.1 181.7,798 181.7,798 183,790.8 184.4,784.2 185.7,778.1 187.1,772.5 188.4,767.3 189.7,762.4 191.1,758 192.4,753.9 193.8,750.1 195.1,746.6 196.5,743.3 197.8,740.3 199.1,737.6 200.5,735 201.8,732.7 203.2,730.5 204.5,728.5 205.8,726.6 207.2,724.9 208.5,723.3 209.9,721.8 211.2,720.5 212.6,719.2 213.9,718.1 215.2,717 216.6,716 217.9,715.1 219.3,714.3 220.6,713.5 220.6,713.5 221.9,720 223.1,726.1 224.4,731.8 225.7,737.1 226.9,742 228.2,746.6 229.5,750.9 230.8,754.9 232,758.7 233.3,762.2 234.6,765.5 235.8,768.5 237.1,771.4 238.4,774 239.6,776.5 240.9,778.8 242.2,781 243.4,783 244.7,784.9 246,786.6 247.2,788.3 248.5,789.8 249.8,791.2 251.1,792.6 252.3,793.8 253.6,795 254.9,796 256.1,797.1 257.4,798 257.4,798 258.8,790.8 260.2,784.2 261.5,778.1 262.9,772.5 264.3,767.3 265.7,762.4 267.1,758 268.5,753.9 269.8,750.1 271.2,746.6 272.6,743.3 274,740.3 275.4,737.6 276.8,735 278.1,732.7 279.5,730.5 280.9,728.5 282.3,726.6 283.7,724.9 285.1,723.3 286.4,721.8 287.8,720.5 289.2,719.2 290.6,718.1 292,717 293.4,716 294.7,715.1 296.1,714.3 297.5,713.5 297.5,713.5 298.8,720 300.1,726.1 301.4,731.8 302.7,737.1 304,742 305.3,746.6 306.6,750.9 307.9,754.9 309.2,758.7 310.5,762.2 311.8,765.5 313.1,768.5 314.4,771.4 315.7,774 316.9,776.5 318.2,778.8 319.5,781 320.8,783 322.1,784.9 323.4,786.6 324.7,788.3 326,789.8 327.3,791.2 328.6,792.6 329.9,793.8 331.2,795 332.5,796 333.8,797.1 335.1,798 335.1,798 336.5,790.8 337.8,784.2 339.2,778.1 340.5,772.5 341.9,767.3 343.3,762.4 344.6,758 346,753.9 347.4,750.1 348.7,746.6 350.1,743.3 351.4,740.3 352.8,737.6 354.2,735 355.5,732.7 356.9,730.5 358.3,728.5 359.6,726.6 361,724.9 362.3,723.3 363.7,721.8 365.1,720.5 366.4,719.2 367.8,718.1 369.2,717 370.5,716 371.9,715.1 373.2,714.3 374.6,713.5 374.6,713.5 375.9,720 377.2,726.1 378.5,731.8 379.8,737.1 381.1,742 382.4,746.6 383.7,750.9 385,754.9 386.3,758.7 387.6,762.2 388.9,765.5 390.2,768.5 391.5,771.4 392.8,774 394.1,776.5 395.4,778.8 396.7,781 398,783 399.3,784.9 400.6,786.6 401.9,788.3 403.2,789.8 404.5,791.2 405.8,792.6 407.1,793.8 408.4,795 409.7,796 411,797.1 412.3,798 412.3,798 413.6,790.8 414.9,784.2 416.3,778.1 417.6,772.5 418.9,767.3 420.2,762.4 421.5,758 422.8,753.9 424.2,750.1 425.5,746.6 426.8,743.3 428.1,740.3 429.4,737.6 430.7,735 432.1,732.7 433.4,730.5 434.7,728.5 436,726.6 437.3,724.9 438.6,723.3 440,721.8 441.3,720.5 442.6,719.2 443.9,718.1 445.2,717 446.5,716 447.9,715.1 449.2,714.3 450.5,713.5 450.5,713.5 451.8,720 453.2,726.1 454.5,731.8 455.9,737.1 457.2,742 458.5,746.6 459.9,750.9 461.2,754.9 462.6,758.7 463.9,762.2 465.3,765.5 466.6,768.5 467.9,771.4 469.3,774 470.6,776.5 472,778.8 473.3,781 474.6,783 476,784.9 477.3,786.6 478.7,788.3 480,789.8 481.4,791.2 482.7,792.6 484,793.8 485.4,795 486.7,796 488.1,797.1 489.4,798 489.4,798 490.8,790.8 492.1,784.2 493.5,778.1 494.8,772.5 496.2,767.3 497.6,762.4 498.9,758 500.3,753.9 501.7,750.1 503,746.6 504.4,743.3 505.7,740.3 507.1,737.6 508.5,735 509.8,732.7 511.2,730.5 512.6,728.5 513.9,726.6 515.3,724.9 516.6,723.3 518,721.8 519.4,720.5 520.7,719.2 522.1,718.1 523.5,717 524.8,716 526.2,715.1 527.5,714.3 528.9,713.5 528.9,713.5 530.2,720 531.6,726.1 532.9,731.8 534.2,737.1 535.5,742 536.9,746.6 538.2,750.9 539.5,754.9 540.8,758.7 542.2,762.2 543.5,765.5 544.8,768.5 546.2,771.4 547.5,774 548.8,776.5 550.1,778.8 551.5,781 552.8,783 554.1,784.9 555.5,786.6 556.8,788.3 558.1,789.8 559.4,791.2 560.8,792.6 562.1,793.8 563.4,795 564.7,796 566.1,797.1 567.4,798 567.4,798 568.7,790.8 570.1,784.2 571.4,778.1 572.7,772.5 574.1,767.3 575.4,762.4 576.7,758 578,753.9 579.4,750.1 580.7,746.6 582,743.3 583.4,740.3 584.7,737.6 586,735 587.4,732.7 588.7,730.5 590,728.5 591.4,726.6 592.7,724.9 594,723.3 595.4,721.8 596.7,720.5 598,719.2 599.3,718.1 600.7,717 602,716 603.3,715.1 604.7,714.3 606,713.5" fill="none" stroke="#ff0000" stroke-width="2.6" stroke-linejoin="round"/>
</g>
<text x="120.9" y="583.4" font-size="24.4">Heating</text>
<text x="222" y="692.6" font-size="24.4">Cooling</text>
<text x="375.4" y="502" font-size="24.4">Rise time 1.77 s</text>
<text x="0" y="0" font-size="24.4" text-anchor="end" transform="translate(571.7 584.3) scale(1.03 1.0)">PEDOT:PSS/P(VDF-TrFE)</text>
<text x="373.4" y="611.7" font-size="24.4">Rise time 3.80 s</text>
<text x="0" y="0" font-size="24.4" text-anchor="end" transform="translate(572.4 695.1) scale(1.02 1.0)">Au/P(VDF-TrFE)</text>
<rect x="116.5" y="481.7" width="460.1" height="325.9" fill="none" stroke="#000" stroke-width="2.9"/>
<line x1="116.5" y1="589.4" x2="576.6" y2="589.4" stroke="#000" stroke-width="3"/>
<line x1="116.5" y1="699.6" x2="576.6" y2="699.6" stroke="#000" stroke-width="3"/>
<rect x="182.1" y="480.2" width="38.5" height="326.8" fill="#e60000" opacity="0.39"/>
<rect x="220.6" y="480.2" width="38.3" height="326.8" fill="#00ffff" opacity="0.4"/>
<rect x="333.4" y="480.2" width="38.3" height="326.8" fill="#f0f000" opacity="0.42"/>
<line x1="269.9" y1="806.6" x2="269.9" y2="803.6" stroke="#000" stroke-width="2"/>
<line x1="423.1" y1="806.6" x2="423.1" y2="803.6" stroke="#000" stroke-width="2"/>
<line x1="117.5" y1="500" x2="120.5" y2="500" stroke="#000" stroke-width="2"/>
<line x1="117.5" y1="540.5" x2="120.5" y2="540.5" stroke="#000" stroke-width="2"/>
<line x1="117.5" y1="581" x2="120.5" y2="581" stroke="#000" stroke-width="2"/>
<line x1="117.5" y1="607.4" x2="120.5" y2="607.4" stroke="#000" stroke-width="2"/>
<line x1="117.5" y1="642.6" x2="120.5" y2="642.6" stroke="#000" stroke-width="2"/>
<line x1="117.5" y1="676" x2="120.5" y2="676" stroke="#000" stroke-width="2"/>
<line x1="117.5" y1="724.3" x2="120.5" y2="724.3" stroke="#000" stroke-width="2"/>
<line x1="117.5" y1="763.7" x2="120.5" y2="763.7" stroke="#000" stroke-width="2"/>
<text x="0" y="0" font-size="31" text-anchor="end" transform="translate(105.2 501.4) scale(1.1 1.0)">40</text>
<text x="0" y="0" font-size="31" text-anchor="end" transform="translate(105.2 543) scale(1.1 1.0)">0</text>
<text x="0" y="0" font-size="31" text-anchor="end" transform="translate(105.2 584.1) scale(1.1 1.0)">-40</text>
<text x="0" y="0" font-size="31" text-anchor="end" transform="translate(109.6 618.4) scale(1.1 1.0)">5</text>
<text x="0" y="0" font-size="31" text-anchor="end" transform="translate(109.6 653.6) scale(1.1 1.0)">0</text>
<text x="0" y="0" font-size="31" text-anchor="end" transform="translate(109.6 687.6) scale(1.1 1.0)">-5</text>
<text x="0" y="0" font-size="31" text-anchor="end" transform="translate(112.6 733.5) scale(1.1 1.0)">35</text>
<text x="0" y="0" font-size="31" text-anchor="end" transform="translate(112.6 775) scale(1.1 1.0)">30</text>
<text x="0" y="0" font-size="31" text-anchor="end" transform="translate(112.6 816.4) scale(1.1 1.0)">25</text>
<text x="0" y="0" font-size="33.5" text-anchor="middle" transform="translate(116.6 840.4) scale(1.07 1.0)">0</text>
<text x="0" y="0" font-size="33.5" text-anchor="middle" transform="translate(268.3 840.4) scale(1.07 1.0)">20</text>
<text x="0" y="0" font-size="33.5" text-anchor="middle" transform="translate(422 840.4) scale(1.07 1.0)">40</text>
<text x="0" y="0" font-size="33.5" text-anchor="middle" transform="translate(576.5 840.4) scale(1.07 1.0)">60</text>
<text x="0" y="0" font-size="33.5" text-anchor="middle" transform="translate(345.5 876.9) scale(1.04 1.0)">Time (s)</text>
<text x="0" y="0" font-size="35" text-anchor="middle" transform="translate(36.9 575.7) rotate(-90)">Voltage (V)</text>
<text x="0" y="0" font-size="34.5" text-anchor="middle" transform="translate(33.7 761.5) rotate(-90)"><tspan font-style="italic">T</tspan> (<tspan font-size="21" dy="-11">o</tspan><tspan dy="11">C)</tspan></text>
<text x="73" y="456" font-size="48.5">d</text>
</g>
<g id="pe">
<polyline points="690.3,652 690.9,664 691.5,687 691.6,686.5 694.2,677.5 695.1,674.5 695.7,647.5 696.3,647 698.6,654 699.9,657 700.5,682.7 701.1,685.2 702,685.2 704.6,676.2 705.5,673.2 706.1,647.5 706.7,647 709,654 710.2,657 710.9,681.4 711.5,683.9 712.3,683.9 714.9,674.9 715.8,671.9 716.4,647.5 717,647 719.3,654 720.6,657 721.2,680.1 721.8,682.6 722.7,682.6 725.3,673.6 726.2,670.6 726.8,647.5 727.4,647 729.7,654 731,657 731.6,678.8 732.2,681.3 733,681.3 735.6,672.3 736.5,669.3 737.1,647.5 737.7,647 740,654 741.3,657 741.9,677.5 742.5,680 743.4,680 746,671 746.9,668 747.5,647.5 748.1,647 750.4,654 751.7,657 752.3,680.5 752.9,678.7 754.4,660 754.9,688.5" fill="none" stroke="#000" stroke-width="2.5" stroke-linejoin="round"/>
<polyline points="765.2,648 765.4,652.5 765.6,657.1 765.8,661.6 766,666.1 766.2,670.6 766.4,670.6 766.6,678.1 766.8,683.4 767,686.8 767.2,689 767.4,690.3 767.6,691.2 767.8,691.8 768,692.2 768.2,692.5 768.4,692.7 768.6,692.8 768.8,692.8 769,692.8 769.2,692.7 769.4,692.5 769.6,692.2 769.8,691.8 770,691.2 770.2,690.3 770.4,689 770.6,686.8 770.8,683.4 771,678.1 771.2,670.6 771.4,661.6 771.6,652.7 771.8,645.2 772,639.9 772.2,636.5 772.4,634.3 772.6,633 772.8,632.1 773,631.5 773.2,631.1 773.4,630.8 773.6,630.6 773.8,630.5 774,630.5 774.2,630.5 774.4,630.6 774.6,630.8 774.8,631.1 775,631.5 775.2,632.1 775.4,633 775.6,634.3 775.8,636.5 776,639.9 776.2,645.2 776.4,652.7 776.6,661.7 776.8,670.6 777,678.1 777.2,683.4 777.4,686.8 777.6,689 777.8,690.3 778,691.2 778.2,691.8 778.4,692.2 778.6,692.5 778.8,692.7 779,692.8 779.2,692.8 779.4,692.8 779.6,692.7 779.8,692.5 780,692.2 780.2,691.8 780.4,691.2 780.6,690.3 780.8,689 781,686.8 781.2,683.4 781.4,678.1 781.6,670.6 781.8,661.6 782,652.7 782.2,645.2 782.4,639.9 782.6,636.5 782.8,634.3 783,633 783.2,632.1 783.4,631.5 783.6,631.1 783.8,630.8 784,630.6 784.2,630.5 784.4,630.5 784.6,630.5 784.8,630.6 785,630.8 785.2,631.1 785.4,631.5 785.6,632.1 785.8,633 786,634.3 786.2,636.5 786.4,639.9 786.6,645.2 786.8,652.7 787,661.7 787.2,670.6 787.4,678.1 787.6,683.4 787.8,686.8 788,689 788.2,690.3 788.4,691.2 788.6,691.8 788.8,692.2 789,692.5 789.2,692.7 789.4,692.8 789.6,692.8 789.8,692.8 790,692.7 790.2,692.5 790.4,692.2 790.6,691.8 790.8,691.2 791,690.3 791.2,689 791.4,686.8 791.6,683.4 791.8,678.1 792,670.6 792.2,661.6 792.4,652.7 792.6,645.2 792.8,639.9 793,636.5 793.2,634.3 793.4,633 793.6,632.1 793.8,631.5 794,631.1 794.2,630.8 794.4,630.6 794.6,630.5 794.8,630.5 795,630.5 795.2,630.6 795.4,630.8 795.6,631.1 795.8,631.5 796,632.1 796.2,633 796.4,634.3 796.6,636.5 796.8,639.9 797,645.2 797.2,652.7 797.4,661.7 797.6,670.6 797.8,678.1 798,683.4 798.2,686.8 798.4,689 798.6,690.3 798.8,691.2 799,691.8 799.2,692.2 799.4,692.5 799.6,692.7 799.8,692.8 800,692.8 800.2,692.8 800.4,692.7 800.6,692.5 800.8,692.2 801,691.8 801.2,691.2 801.4,690.3 801.6,689 801.8,686.8 802,683.4 802.2,678.1 802.4,670.6 802.6,661.6 802.8,652.7 803,645.2 803.2,639.9 803.4,636.5 803.6,634.3 803.8,633 804,632.1 804.2,631.5 804.4,631.1 804.6,630.8 804.8,630.6 805,630.5 805.2,630.5 805.4,630.5 805.6,630.6 805.8,630.8 806,631.1 806.2,631.5 806.4,632.1 806.6,633 806.8,634.3 807,636.5 807.2,639.9 807.4,645.2 807.6,652.7 807.8,661.7 808,670.6 808.2,678.1 808.4,683.4 808.6,686.8 808.8,689 809,690.3 809.2,691.2 809.4,691.8 809.6,692.2 809.8,692.5 810,692.7 810.2,692.8 810.4,692.8 810.6,692.8 810.8,692.7 811,692.5 811.2,692.2 811.4,691.8 811.6,691.2 811.8,690.3 812,689 812.2,686.8 812.4,683.4 812.6,678.1 812.8,670.6 813,661.6 813.2,652.7 813.4,645.2 813.6,639.9 813.8,636.5 814,634.3 814.2,633 814.4,632.1 814.6,631.5 814.8,631.1 815,630.8 815.2,630.6 815.4,630.5 815.6,630.5 815.8,630.5 816,630.6 816.2,630.8 816.4,631.1 816.6,631.5 816.8,632.1 817,633 817.2,634.3 817.4,636.5 817.6,639.9 817.8,645.2 818,652.7 818.2,661.7 818.4,670.6 818.6,678.1 818.8,683.4 819,686.8 819.2,689 819.4,690.3 819.6,691.2 819.8,691.8 820,692.2 820.2,692.5 820.4,692.7 820.6,692.8 820.8,692.8 821,692.8 821.2,692.7 821.4,692.5 821.6,692.2 821.8,691.8 822,691.2 822.2,690.3 822.4,689 822.6,686.8 822.8,683.4 823,678.1 823.2,670.6 823.4,661.6 823.6,652.7 823.8,645.2 824,639.9 824.2,636.5 824.4,634.3 824.6,633 824.8,632.1 825,631.5 825.2,631.1 825.4,630.8 825.6,630.6 825.8,630.5 826,630.5 826.2,630.5 826.4,630.6 826.6,630.8 826.8,631.1 827,631.5 827.2,632.1 827.4,633 827.6,634.3 827.8,636.5 828,639.9 828.2,645.2 828.4,652.7 828.6,661.7 828.8,670.6 829,678.1 829.2,683.4 829.4,686.8 829.6,689 829.8,690.3 830,691.2 830.2,691.8 830.4,692.2 830.6,692.5 830.8,692.7 831,692.8 831.2,692.8" fill="none" stroke="#8a00ff" stroke-width="2.8" stroke-linejoin="round"/>
<polyline points="842.2,711.4 842.4,711.1 842.6,710.4 842.8,708.5 843,703.4 843.2,691.1 843.4,669.3 843.6,646 843.8,631.2 844,624.7 844.2,622.3 844.4,621.4 844.6,621 844.8,620.9 845,620.8 845.2,620.8 845.4,620.8 845.6,620.8 845.8,620.8 846,620.8 846.2,620.8 846.4,620.8 846.6,620.8 846.8,620.8 847,620.8 847.2,620.9 847.4,621 847.6,621.4 847.8,622.3 848,624.7 848.2,631.2 848.4,646 848.6,669.3 848.8,691.1 849,703.4 849.2,708.5 849.4,710.4 849.6,711.1 849.8,711.4 850,711.5 850.2,711.6 850.4,711.6 850.6,711.6 850.8,711.6 851,711.6 851.2,711.6 851.4,711.6 851.6,711.6 851.8,711.6 852,711.6 852.2,711.5 852.4,711.5 852.6,711.3 852.8,710.9 853,709.7 853.2,706.6 853.4,698.4 853.6,681.2 853.8,657 854,637.3 854.2,627.2 854.4,623.2 854.6,621.7 854.8,621.2 855,621 855.2,620.9 855.4,620.8 855.6,620.8 855.8,620.8 856,620.8 856.2,620.8 856.4,620.8 856.6,620.8 856.8,620.8 857,620.8 857.2,620.8 857.4,620.9 857.6,621 857.8,621.2 858,621.7 858.2,623.2 858.4,627.2 858.6,637.3 858.8,657 859,681.2 859.2,698.4 859.4,706.6 859.6,709.7 859.8,710.9 860,711.3 860.2,711.5 860.4,711.5 860.6,711.6 860.8,711.6 861,711.6 861.2,711.6 861.4,711.6 861.6,711.6 861.8,711.6 862,711.6 862.2,711.6 862.4,711.6 862.6,711.5 862.8,711.4 863,711.1 863.2,710.4 863.4,708.5 863.6,703.4 863.8,691.1 864,669.3 864.2,646 864.4,631.2 864.6,624.7 864.8,622.3 865,621.4 865.2,621 865.4,620.9 865.6,620.8 865.8,620.8 866,620.8 866.2,620.8 866.4,620.8 866.6,620.8 866.8,620.8 867,620.8 867.2,620.8 867.4,620.8 867.6,620.8 867.8,620.9 868,621 868.2,621.4 868.4,622.3 868.6,624.7 868.8,631.2 869,646 869.2,669.3 869.4,691.1 869.6,703.4 869.8,708.5 870,710.4 870.2,711.1 870.4,711.4 870.6,711.5 870.8,711.6 871,711.6 871.2,711.6 871.4,711.6 871.6,711.6 871.8,711.6 872,711.6 872.2,711.6 872.4,711.6 872.6,711.6 872.8,711.5 873,711.5 873.2,711.3 873.4,710.9 873.6,709.7 873.8,706.6 874,698.4 874.2,681.2 874.4,657 874.6,637.3 874.8,627.2 875,623.2 875.2,621.7 875.4,621.2 875.6,621 875.8,620.9 876,620.8 876.2,620.8 876.4,620.8 876.6,620.8 876.8,620.8 877,620.8 877.2,620.8 877.4,620.8 877.6,620.8 877.8,620.8 878,620.9 878.2,621 878.4,621.2 878.6,621.7 878.8,623.2 879,627.2 879.2,637.3 879.4,657 879.6,681.2 879.8,698.4 880,706.6 880.2,709.7 880.4,710.9 880.6,711.3 880.8,711.5 881,711.5 881.2,711.6 881.4,711.6 881.6,711.6 881.8,711.6 882,711.6 882.2,711.6 882.4,711.6 882.6,711.6 882.8,711.6 883,711.6 883.2,711.5 883.4,711.4 883.6,711.1 883.8,710.4 884,708.5 884.2,703.4 884.4,691.1 884.6,669.3 884.8,646 885,631.2 885.2,624.7 885.4,622.3 885.6,621.4 885.8,621 886,620.9 886.2,620.8 886.4,620.8 886.6,620.8 886.8,620.8 887,620.8 887.2,620.8 887.4,620.8 887.6,620.8 887.8,620.8 888,620.8 888.2,620.8 888.4,620.9 888.6,621 888.8,621.4 889,622.3 889.2,624.7 889.4,631.2 889.6,646 889.8,669.3 890,691.1 890.2,703.4 890.4,708.5 890.6,710.4 890.8,711.1 891,711.4 891.2,711.5 891.4,711.6 891.6,711.6 891.8,711.6 892,711.6 892.2,711.6 892.4,711.6 892.6,711.6 892.8,711.6 893,711.6 893.2,711.6 893.4,711.5 893.6,711.5 893.8,711.3 894,710.9 894.2,709.7 894.4,706.6 894.6,698.4 894.8,681.2 895,657 895.2,637.3 895.4,627.2 895.6,623.2 895.8,621.7 896,621.2 896.2,621 896.4,620.9 896.6,620.8 896.8,620.8 897,620.8 897.2,620.8 897.4,620.8 897.6,620.8 897.8,620.8 898,620.8 898.2,620.8 898.4,620.8 898.6,620.9 898.8,621 899,621.2 899.2,621.7 899.4,623.2 899.6,627.2 899.8,637.3 900,657 900.2,681.2 900.4,698.4 900.6,706.6 900.8,709.7 901,710.9 901.2,711.3 901.4,711.5 901.6,711.5 901.8,711.6 902,711.6 902.2,711.6 902.4,711.6 902.6,711.6 902.8,711.6 903,711.6 903.2,711.6 903.4,711.6 903.6,711.6 903.8,711.5 904,711.4 904.2,711.1 904.4,710.4 904.6,708.5 904.8,703.4 905,691.1 905.2,669.3 905.4,646 905.6,631.2 905.8,624.7 906,622.3 906.2,621.4 906.4,621 906.6,620.9 906.8,620.8 907,620.8 907.2,620.8" fill="none" stroke="#0000ff" stroke-width="2.3" stroke-linejoin="round"/>
<polyline points="918.5,607.3 918.7,605.5 918.9,604.3 919.1,603.5 919.3,602.9 919.5,602.4 919.7,602 919.9,601.7 920.1,601.6 920.3,601.5 920.5,601.6 920.7,601.7 920.9,602 921.1,602.4 921.3,602.9 921.5,603.5 921.7,604.3 921.9,605.5 922.1,607.3 922.3,611.1 922.5,619.9 922.7,638.5 922.9,667.6 923.1,694.8 923.3,710.5 923.5,717.6 923.7,720.7 923.9,722.4 924.1,723.4 924.3,724.1 924.5,724.7 924.7,725.2 924.9,725.6 925.1,725.8 925.3,726 925.5,726 925.7,725.9 925.9,725.7 926.1,725.4 926.3,725 926.5,724.5 926.7,723.8 926.9,722.9 927.1,721.7 927.3,719.5 927.5,714.8 927.7,704.1 927.9,682.4 928.1,652.3 928.3,627.7 928.5,614.6 928.7,608.9 928.9,606.3 929.1,604.9 929.3,603.9 929.5,603.2 929.7,602.6 929.9,602.2 930.1,601.9 930.3,601.6 930.5,601.5 930.7,601.5 930.9,601.6 931.1,601.9 931.3,602.2 931.5,602.6 931.7,603.2 931.9,603.9 932.1,604.9 932.3,606.3 932.5,608.9 932.7,614.6 932.9,627.7 933.1,652.3 933.3,682.4 933.5,704.1 933.7,714.8 933.9,719.5 934.1,721.7 934.3,722.9 934.5,723.8 934.7,724.5 934.9,725 935.1,725.4 935.3,725.7 935.5,725.9 935.7,726 935.9,726 936.1,725.8 936.3,725.6 936.5,725.2 936.7,724.7 936.9,724.1 937.1,723.4 937.3,722.4 937.5,720.7 937.7,717.6 937.9,710.5 938.1,694.8 938.3,667.6 938.5,638.5 938.7,619.9 938.9,611.1 939.1,607.3 939.3,605.5 939.5,604.3 939.7,603.5 939.9,602.9 940.1,602.4 940.3,602 940.5,601.7 940.7,601.6 940.9,601.5 941.1,601.6 941.3,601.7 941.5,602 941.7,602.4 941.9,602.9 942.1,603.5 942.3,604.3 942.5,605.5 942.7,607.3 942.9,611.1 943.1,619.9 943.3,638.5 943.5,667.6 943.7,694.8 943.9,710.5 944.1,717.6 944.3,720.7 944.5,722.4 944.7,723.4 944.9,724.1 945.1,724.7 945.3,725.2 945.5,725.6 945.7,725.8 945.9,726 946.1,726 946.3,725.9 946.5,725.7 946.7,725.4 946.9,725 947.1,724.5 947.3,723.8 947.5,722.9 947.7,721.7 947.9,719.5 948.1,714.8 948.3,704.1 948.5,682.4 948.7,652.3 948.9,627.7 949.1,614.6 949.3,608.9 949.5,606.3 949.7,604.9 949.9,603.9 950.1,603.2 950.3,602.6 950.5,602.2 950.7,601.9 950.9,601.6 951.1,601.5 951.3,601.5 951.5,601.6 951.7,601.9 951.9,602.2 952.1,602.6 952.3,603.2 952.5,603.9 952.7,604.9 952.9,606.3 953.1,608.9 953.3,614.6 953.5,627.7 953.7,652.3 953.9,682.4 954.1,704.1 954.3,714.8 954.5,719.5 954.7,721.7 954.9,722.9 955.1,723.8 955.3,724.5 955.5,725 955.7,725.4 955.9,725.7 956.1,725.9 956.3,726 956.5,726 956.7,725.8 956.9,725.6 957.1,725.2 957.3,724.7 957.5,724.1 957.7,723.4 957.9,722.4 958.1,720.7 958.3,717.6 958.5,710.5 958.7,694.8 958.9,667.6 959.1,638.5 959.3,619.9 959.5,611.1 959.7,607.3 959.9,605.5 960.1,604.3 960.3,603.5 960.5,602.9 960.7,602.4 960.9,602 961.1,601.7 961.3,601.6 961.5,601.5 961.7,601.6 961.9,601.7 962.1,602 962.3,602.4 962.5,602.9 962.7,603.5 962.9,604.3 963.1,605.5 963.3,607.3 963.5,611.1 963.7,619.9 963.9,638.5 964.1,667.6 964.3,694.8 964.5,710.5 964.7,717.6 964.9,720.7 965.1,722.4 965.3,723.4 965.5,724.1 965.7,724.7 965.9,725.2 966.1,725.6 966.3,725.8 966.5,726 966.7,726 966.9,725.9 967.1,725.7 967.3,725.4 967.5,725 967.7,724.5 967.9,723.8 968.1,722.9 968.3,721.7 968.5,719.5 968.7,714.8 968.9,704.1 969.1,682.4 969.3,652.3 969.5,627.7 969.7,614.6 969.9,608.9 970.1,606.3 970.3,604.9 970.5,603.9 970.7,603.2 970.9,602.6 971.1,602.2 971.3,601.9 971.5,601.6 971.7,601.5 971.9,601.5 972.1,601.6 972.3,601.9 972.5,602.2 972.7,602.6 972.9,603.2 973.1,603.9 973.3,604.9 973.5,606.3 973.7,608.9 973.9,614.6 974.1,627.7 974.3,652.3 974.5,682.4 974.7,704.1 974.9,714.8 975.1,719.5 975.3,721.7 975.5,722.9 975.7,723.8 975.9,724.5 976.1,725 976.3,725.4 976.5,725.7 976.7,725.9 976.9,726 977.1,726 977.3,725.8 977.5,725.6 977.7,725.2 977.9,724.7 978.1,724.1 978.3,723.4 978.5,722.4 978.7,720.7 978.9,717.6 979.1,710.5 979.3,694.8 979.5,667.6 979.7,638.5 979.9,619.9 980.1,611.1 980.3,607.3 980.5,605.5 980.7,604.3 980.9,603.5 981.1,602.9 981.3,602.4 981.5,602 981.7,601.7 981.9,601.6 982.1,601.5 982.3,601.6" fill="none" stroke="#00f4f4" stroke-width="2.3" stroke-linejoin="round"/>
<polyline points="994.6,738 994.8,733.4 995,728.8 995.2,724.2 995.4,719.6 995.6,715 995.8,710.4 996,705.8 996.2,701.2 996.4,696.6 996.6,658.6 996.8,617.8 997,591.7 997.2,579.5 997.4,574.2 997.6,571.6 997.8,570 998,568.8 998.2,568 998.4,567.3 998.6,566.7 998.8,566.3 999,566.1 999.2,566 999.4,566.1 999.6,566.3 999.8,566.7 1000,567.3 1000.2,568 1000.4,568.8 1000.6,570 1000.8,571.6 1001,574.2 1001.2,579.5 1001.4,591.7 1001.6,617.8 1001.8,658.6 1002,696.6 1002.2,718.7 1002.4,728.5 1002.6,732.9 1002.8,735.2 1003,736.6 1003.2,737.7 1003.4,738.5 1003.6,739.2 1003.8,739.7 1004,740.1 1004.2,740.3 1004.4,740.3 1004.6,740.2 1004.8,739.9 1005,739.5 1005.2,738.9 1005.4,738.1 1005.6,737.2 1005.8,736 1006,734.2 1006.2,731.1 1006.4,724.5 1006.6,709.5 1006.8,678.9 1007,636.5 1007.2,601.8 1007.4,583.4 1007.6,575.4 1007.8,571.7 1008,569.7 1008.2,568.4 1008.4,567.4 1008.6,566.6 1008.8,566 1009,565.5 1009.2,565.2 1009.4,565 1009.6,565 1009.8,565.2 1010,565.5 1010.2,566 1010.4,566.6 1010.6,567.4 1010.8,568.4 1011,569.7 1011.2,571.7 1011.4,575.4 1011.6,583.4 1011.8,601.8 1012,636.5 1012.2,678.9 1012.4,709.5 1012.6,724.5 1012.8,731.1 1013,734.2 1013.2,736 1013.4,737.2 1013.6,738.1 1013.8,738.9 1014,739.5 1014.2,739.9 1014.4,740.2 1014.6,740.3 1014.8,740.3 1015,740.1 1015.2,739.7 1015.4,739.2 1015.6,738.5 1015.8,737.6 1016,736.6 1016.2,735.1 1016.4,732.8 1016.6,728.3 1016.8,718.2 1017,695.8 1017.2,657 1017.4,615.5 1017.6,588.9 1017.8,576.5 1018,571 1018.2,568.4 1018.4,566.8 1018.6,565.6 1018.8,564.7 1019,564 1019.2,563.4 1019.4,563 1019.6,562.8 1019.8,562.7 1020,562.8 1020.2,563 1020.4,563.4 1020.6,564 1020.8,564.7 1021,565.6 1021.2,566.8 1021.4,568.4 1021.6,571 1021.8,576.5 1022,588.9 1022.2,615.5 1022.4,657 1022.6,695.8 1022.8,718.2 1023,728.3 1023.2,732.8 1023.4,735.1 1023.6,736.6 1023.8,737.6 1024,738.5 1024.2,739.2 1024.4,739.7 1024.6,740.1 1024.8,740.3 1025,740.3 1025.2,740.2 1025.4,739.9 1025.6,739.5 1025.8,738.9 1026,738.1 1026.2,737.1 1026.4,735.9 1026.6,734.1 1026.8,731 1027,724.3 1027.2,709.1 1027.4,678.1 1027.6,635.1 1027.8,600 1028,581.4 1028.2,573.2 1028.4,569.5 1028.6,567.5 1028.8,566.1 1029,565.1 1029.2,564.3 1029.4,563.7 1029.6,563.2 1029.8,562.9 1030,562.7 1030.2,562.7 1030.4,562.9 1030.6,563.2 1030.8,563.7 1031,564.3 1031.2,565.1 1031.4,566.1 1031.6,567.5 1031.8,569.5 1032,573.2 1032.2,581.4 1032.4,600 1032.6,635.1 1032.8,678.1 1033,709.1 1033.2,724.3 1033.4,731 1033.6,734.1 1033.8,735.9 1034,737.1 1034.2,738.1 1034.4,738.9 1034.6,739.5 1034.8,739.9 1035,740.2 1035.2,740.3 1035.4,740.3 1035.6,740.1 1035.8,739.7 1036,739.2 1036.2,738.5 1036.4,737.7 1036.6,736.6 1036.8,735.1 1037,732.8 1037.2,728.4 1037.4,718.3 1037.6,696 1037.8,657.4 1038,616.1 1038.2,589.6 1038.4,577.2 1038.6,571.8 1038.8,569.1 1039,567.5 1039.2,566.4 1039.4,565.5 1039.6,564.8 1039.8,564.2 1040,563.8 1040.2,563.6 1040.4,563.5 1040.6,563.6 1040.8,563.8 1041,564.2 1041.2,564.8 1041.4,565.5 1041.6,566.4 1041.8,567.5 1042,569.1 1042.2,571.8 1042.4,577.2 1042.6,589.6 1042.8,616.1 1043,657.4 1043.2,696 1043.4,718.3 1043.6,728.4 1043.8,732.8 1044,735.1 1044.2,736.6 1044.4,737.7 1044.6,738.5 1044.8,739.2 1045,739.7 1045.2,740.1 1045.4,740.3 1045.6,740.3 1045.8,740.2 1046,739.9 1046.2,739.5 1046.4,738.9 1046.6,738.1 1046.8,737.2 1047,735.9 1047.2,734.1 1047.4,731 1047.6,724.4 1047.8,709.2 1048,678.4 1048.2,635.6 1048.4,600.6 1048.6,582.1 1048.8,574 1049,570.3 1049.2,568.3 1049.4,566.9 1049.6,565.9 1049.8,565.1 1050,564.5 1050.2,564 1050.4,563.7 1050.6,563.5 1050.8,563.5 1051,563.7 1051.2,564 1051.4,564.5 1051.6,565.1 1051.8,565.9 1052,566.9 1052.2,568.3 1052.4,570.3 1052.6,574 1052.8,582.1 1053,600.6 1053.2,635.6 1053.4,678.4 1053.6,709.2 1053.8,724.4 1054,731 1054.2,734.1 1054.4,735.9 1054.6,737.2 1054.8,738.1 1055,738.9 1055.2,739.5 1055.4,739.9 1055.6,740.2 1055.8,740.3 1056,740.3 1056.2,740.1 1056.4,739.7 1056.6,739.2 1056.8,738.5 1057,737.7 1057.2,736.6 1057.4,735.2 1057.6,732.9 1057.8,728.5 1058,718.7 1058.2,696.6 1058.4,658.6 1058.6,617.8 1058.8,591.7 1059,579.5 1059.2,574.2 1059.4,571.6 1059.6,570 1059.8,568.8 1060,568" fill="none" stroke="#ff00ff" stroke-width="2.3" stroke-linejoin="round"/>
<polyline points="1070.2,518.5 1071,522 1073.3,791.8 1073.5,792 1073.7,792 1073.9,791.7 1074.1,791.3 1074.3,790.6 1074.5,789.8 1074.7,788.7 1074.9,787.3 1075.1,785.4 1075.3,782.4 1075.5,776.8 1075.7,764.2 1075.9,735.2 1076.1,680.1 1076.3,610.7 1076.5,558.8 1076.7,532.6 1076.9,521.3 1077.1,516.1 1077.3,513.3 1077.5,511.5 1077.7,510.2 1077.9,509.1 1078.1,508.3 1078.3,507.7 1078.5,507.2 1078.7,507 1078.9,507 1079.1,507.2 1079.3,507.7 1079.5,508.3 1079.7,509.1 1079.9,510.2 1080.1,511.5 1080.3,513.3 1080.5,516.1 1080.7,521.3 1080.9,532.6 1081.1,558.8 1081.3,610.7 1081.5,680.1 1081.7,735.2 1081.9,764.2 1082.1,776.8 1082.3,782.4 1082.5,785.4 1082.7,787.3 1082.9,788.7 1083.1,789.8 1083.3,790.6 1083.5,791.3 1083.7,791.7 1083.9,792 1084.1,792 1084.3,791.8 1084.5,791.4 1084.7,790.8 1084.9,790 1085.1,789 1085.3,787.7 1085.5,786 1085.7,783.4 1085.9,778.7 1086.1,768.6 1086.3,745.2 1086.5,697.3 1086.7,629.2 1086.9,571.5 1087.1,540 1087.3,526.1 1087.5,520 1087.7,516.8 1087.9,514.9 1088.1,513.5 1088.3,512.3 1088.5,511.5 1088.7,510.8 1088.9,510.3 1089.1,510.1 1089.3,510 1089.5,510.2 1089.7,510.5 1089.9,511.1 1090.1,511.9 1090.3,512.9 1090.5,514.2 1090.7,515.9 1090.9,518.4 1091.1,522.8 1091.3,532.1 1091.5,553.8 1091.7,599.4 1091.9,668 1092.1,730.1 1092.3,765.5 1092.5,781.3 1092.7,788.2 1092.9,791.7 1093.1,793.8 1093.3,795.3 1093.5,796.5 1093.7,797.4 1093.9,798.1 1094.1,798.6 1094.3,798.9 1094.5,799 1094.7,798.9 1094.9,798.5 1095.1,798 1095.3,797.2 1095.5,796.2 1095.7,795 1095.9,793.3 1096.1,791 1096.3,786.9 1096.5,778.5 1096.7,759 1096.9,716.9 1097.1,650 1097.3,585.3 1097.5,546.6 1097.7,529 1097.9,521.4 1098.1,517.7 1098.3,515.4 1098.5,513.9 1098.7,512.7 1098.9,511.7 1099.1,511 1099.3,510.4 1099.5,510.1 1099.7,510 1099.9,510.1 1100.1,510.4 1100.3,511 1100.5,511.7 1100.7,512.7 1100.9,513.9 1101.1,515.4 1101.3,517.6 1101.5,521.4 1101.7,529 1101.9,546.5 1102.1,585.2 1102.3,649.8 1102.5,716.5 1102.7,758.5 1102.9,778 1103.1,786.5 1103.3,790.5 1103.5,792.8 1103.7,794.5 1103.9,795.7 1104.1,796.7 1104.3,797.5 1104.5,798 1104.7,798.4 1104.9,798.5 1105.1,798.4 1105.3,798.1 1105.5,797.6 1105.7,796.9 1105.9,795.9 1106.1,794.7 1106.3,793.2 1106.5,791 1106.7,787.5 1106.9,780.5 1107.1,764.4 1107.3,728.4 1107.5,665.2 1107.7,595.4 1107.9,549.1 1108.1,527 1108.3,517.5 1108.5,513 1108.7,510.5 1108.9,508.8 1109.1,507.5 1109.3,506.4 1109.5,505.6 1109.7,505 1109.9,504.7 1110.1,504.5 1110.3,504.6 1110.5,504.8 1110.7,505.3 1110.9,506 1111.1,506.9 1111.3,508.1 1111.5,509.6 1111.7,511.6 1111.9,514.9 1112.1,521.2 1112.3,535.6 1112.5,568.3 1112.7,628.2 1112.9,698.7 1113.1,748.4 1113.3,772.8 1113.5,783.3 1113.7,788.1 1113.9,790.8 1114.1,792.5 1114.3,793.9 1114.5,794.9 1114.7,795.8 1114.9,796.4 1115.1,796.8 1115.3,797 1115.5,797 1115.7,796.7 1115.9,796.3 1116.1,795.6 1116.3,794.7 1116.5,793.6 1116.7,792.1 1116.9,790.2 1117.1,787.1 1117.3,781.3 1117.5,768.4 1117.7,738.6 1117.9,681.8 1118.1,610.4 1118.3,557 1118.5,530.1 1118.7,518.4 1118.9,513.1 1119.1,510.2 1119.3,508.4 1119.5,507 1119.7,505.9 1119.9,505 1120.1,504.4 1120.3,503.9 1120.5,503.7 1120.7,503.7 1120.9,503.9 1121.1,504.4 1121.3,505 1121.5,505.9 1121.7,506.9 1121.9,508.3 1122.1,510.2 1122.3,513 1122.5,518.2 1122.7,529.7 1122.9,556.4 1123.1,609.1 1123.3,679.7 1123.5,735.8 1123.7,765.2 1123.9,778 1124.1,783.8 1124.3,786.8 1124.5,788.7 1124.7,790.1 1124.9,791.2 1125.1,792.1 1125.3,792.8 1125.5,793.2 1125.7,793.5 1125.9,793.5 1126.1,793.3 1126.3,792.9 1126.5,792.3 1126.7,791.5 1126.9,790.4 1127.1,789.1 1127.3,787.3 1127.5,784.7 1127.7,779.9 1127.9,769.6 1128.1,745.5 1128.3,696.4 1128.5,626.7 1128.7,567.5 1128.9,535.2 1129.1,521 1129.3,514.7 1129.5,511.5 1129.7,509.5 1129.9,508 1130.1,506.9 1130.3,506 1130.5,505.3 1130.7,504.8 1130.9,504.6 1131.1,504.5 1131.3,504.7 1131.5,505 1131.7,505.6 1131.9,506.4 1132.1,507.4 1132.3,508.7 1132.5,510.4 1132.7,512.9 1132.9,517.3 1133.1,526.6 1133.3,548.2 1133.5,593.7 1133.7,662.2 1133.9,724.2 1134.1,759.5 1134.3,775.3 1134.5,782.2 1134.7,785.7 1134.9,787.8 1135.1,789.3 1135.3,790.5 1135.5,791.4 1135.7,792.1 1135.9,792.6 1136.1,792.9 1136.3,793 1136.5,792.9" fill="none" stroke="#ff0000" stroke-width="2.3" stroke-linejoin="round"/>
<text x="696.9" y="638" font-size="24.4">0.05 K</text>
<text x="774.9" y="626" font-size="24.4">0.1 K</text>
<text x="850.3" y="615.9" font-size="24.4">0.5 K</text>
<text x="933.5" y="601.2" font-size="24.4">2 K</text>
<text x="1012" y="560.5" font-size="24.4">5 K</text>
<text x="1084" y="502.6" font-size="24.4">10 K</text>
<rect x="688.4" y="478.8" width="459.6" height="328.1" fill="none" stroke="#000" stroke-width="2.9"/>
<line x1="680.9" y1="628.8" x2="695.9" y2="623.2" stroke="#000" stroke-width="2.2"/>
<line x1="680.9" y1="710.3" x2="695.9" y2="704.7" stroke="#000" stroke-width="2.2"/>
<line x1="1140.5" y1="628.8" x2="1155.5" y2="623.2" stroke="#000" stroke-width="2.2"/>
<line x1="1140.5" y1="710.3" x2="1155.5" y2="704.7" stroke="#000" stroke-width="2.2"/>
<line x1="791.1" y1="805.9" x2="791.1" y2="801.9" stroke="#000" stroke-width="2"/>
<line x1="892.9" y1="805.9" x2="892.9" y2="801.9" stroke="#000" stroke-width="2"/>
<line x1="994.7" y1="805.9" x2="994.7" y2="801.9" stroke="#000" stroke-width="2"/>
<line x1="1096.5" y1="805.9" x2="1096.5" y2="801.9" stroke="#000" stroke-width="2"/>
<line x1="740.2" y1="805.9" x2="740.2" y2="803.7" stroke="#000" stroke-width="2"/>
<line x1="842" y1="805.9" x2="842" y2="803.7" stroke="#000" stroke-width="2"/>
<line x1="943.8" y1="805.9" x2="943.8" y2="803.7" stroke="#000" stroke-width="2"/>
<line x1="1045.6" y1="805.9" x2="1045.6" y2="803.7" stroke="#000" stroke-width="2"/>
<line x1="689.4" y1="495" x2="692.4" y2="495" stroke="#000" stroke-width="2"/>
<line x1="689.4" y1="563" x2="692.4" y2="563" stroke="#000" stroke-width="2"/>
<line x1="689.4" y1="778.2" x2="692.4" y2="778.2" stroke="#000" stroke-width="2"/>
<text x="0" y="0" font-size="33.5" text-anchor="end" transform="translate(682.7 506.7) scale(1.04 1.0)">40</text>
<text x="0" y="0" font-size="33.5" text-anchor="end" transform="translate(682.7 572.7) scale(1.04 1.0)">20</text>
<text x="0" y="0" font-size="33.5" text-anchor="end" transform="translate(684 789.1) scale(1.04 1.0)">-20</text>
<text x="0" y="0" font-size="33.5" text-anchor="end" transform="translate(684 647.4) scale(1.04 1.0)">0.3</text>
<text x="0" y="0" font-size="33.5" text-anchor="end" transform="translate(684 677.2) scale(1.04 1.0)">0.0</text>
<text x="0" y="0" font-size="33.5" text-anchor="end" transform="translate(684 709.8) scale(1.04 1.0)">-0.3</text>
<text x="0" y="0" font-size="33.5" text-anchor="middle" transform="translate(688.7 839.5) scale(1.03 1.0)">0</text>
<text x="0" y="0" font-size="33.5" text-anchor="middle" transform="translate(790.5 839.5) scale(1.03 1.0)">100</text>
<text x="0" y="0" font-size="33.5" text-anchor="middle" transform="translate(892.3 839.5) scale(1.03 1.0)">200</text>
<text x="0" y="0" font-size="33.5" text-anchor="middle" transform="translate(994.1 839.5) scale(1.03 1.0)">300</text>
<text x="0" y="0" font-size="33.5" text-anchor="middle" transform="translate(1095.9 839.5) scale(1.03 1.0)">400</text>
<text x="0" y="0" font-size="33.5" text-anchor="middle" transform="translate(925.5 881.2) scale(1.04 1.0)">Time (s)</text>
<text x="0" y="0" font-size="35" text-anchor="middle" transform="translate(616 643) rotate(-90)">Voltage (V)</text>
<text x="648.5" y="455.7" font-size="48.5">e</text>
</g>
<g id="pf">
<clipPath id="cf"><rect x="1264.0" y="479.1" width="460.79999999999995" height="327.0"/></clipPath>
<g clip-path="url(#cf)">
<line x1="1288.8" y1="800.1" x2="1701.6" y2="785.5" stroke="#9a30f0" stroke-width="2.8" stroke-dasharray="17 11" stroke-dashoffset="6"/>
<line x1="1276.3" y1="804.5" x2="1701.6" y2="594.7" stroke="#f00000" stroke-width="3" stroke-dasharray="17 11" stroke-dashoffset="22"/>
<circle cx="1292.9" cy="799.5" r="6.9" fill="url(#ball)"/>
<circle cx="1297.1" cy="799.3" r="6.9" fill="url(#ball)"/>
<circle cx="1301.3" cy="799.1" r="6.9" fill="url(#ball)"/>
<circle cx="1305.4" cy="799" r="6.9" fill="url(#ball)"/>
<circle cx="1309.6" cy="798.8" r="6.9" fill="url(#ball)"/>
<circle cx="1313.8" cy="798.6" r="6.9" fill="url(#ball)"/>
<circle cx="1318" cy="798.4" r="6.9" fill="url(#ball)"/>
<circle cx="1322.1" cy="798.1" r="6.9" fill="url(#ball)"/>
<circle cx="1326.3" cy="797.9" r="6.9" fill="url(#ball)"/>
<circle cx="1368" cy="797.3" r="6.9" fill="url(#ball)"/>
<circle cx="1409.7" cy="795.9" r="6.9" fill="url(#ball)"/>
<circle cx="1451.4" cy="794.4" r="6.9" fill="url(#ball)"/>
<circle cx="1493.1" cy="792.9" r="6.9" fill="url(#ball)"/>
<circle cx="1534.8" cy="791.4" r="6.9" fill="url(#ball)"/>
<circle cx="1576.5" cy="790" r="6.9" fill="url(#ball)"/>
<circle cx="1618.2" cy="788.5" r="6.9" fill="url(#ball)"/>
<circle cx="1659.9" cy="787" r="6.9" fill="url(#ball)"/>
<circle cx="1701.6" cy="785.5" r="6.9" fill="url(#ball)"/>
<polygon points="1276.9,807.2 1292.3,807.2 1284.6,793.4" fill="#f00000"/>
<polygon points="1277.7,806.7 1293.1,806.7 1285.4,792.9" fill="#f00000"/>
<polygon points="1278.6,806.3 1294,806.3 1286.3,792.4" fill="#f00000"/>
<polygon points="1279.4,805.8 1294.8,805.8 1287.1,791.9" fill="#f00000"/>
<polygon points="1280.2,805.3 1295.6,805.3 1287.9,791.4" fill="#f00000"/>
<polygon points="1281.1,804.9 1296.5,804.9 1288.8,791.1" fill="#f00000"/>
<polygon points="1285.2,801.4 1300.6,801.4 1292.9,787.6" fill="#f00000"/>
<polygon points="1289.4,801.1 1304.8,801.1 1297.1,787.2" fill="#f00000"/>
<polygon points="1293.6,798.4 1309,798.4 1301.3,784.5" fill="#f00000"/>
<polygon points="1297.7,795.7 1313.1,795.7 1305.4,781.8" fill="#f00000"/>
<polygon points="1301.9,794.9 1317.3,794.9 1309.6,781.1" fill="#f00000"/>
<polygon points="1306.1,793.4 1321.5,793.4 1313.8,779.6" fill="#f00000"/>
<polygon points="1310.3,790.5 1325.7,790.5 1318,776.7" fill="#f00000"/>
<polygon points="1314.4,787.3 1329.8,787.3 1322.1,773.4" fill="#f00000"/>
<polygon points="1318.6,786.3 1334,786.3 1326.3,772.5" fill="#f00000"/>
<polygon points="1360.3,764.5 1375.7,764.5 1368,750.6" fill="#f00000"/>
<polygon points="1402,745.5 1417.4,745.5 1409.7,731.7" fill="#f00000"/>
<polygon points="1443.7,731.1 1459.1,731.1 1451.4,717.2" fill="#f00000"/>
<polygon points="1485.4,701.8 1500.8,701.8 1493.1,688" fill="#f00000"/>
<polygon points="1527.1,686.7 1542.5,686.7 1534.8,672.9" fill="#f00000"/>
<polygon points="1568.8,665.5 1584.2,665.5 1576.5,651.7" fill="#f00000"/>
<polygon points="1610.5,652.4 1625.9,652.4 1618.2,638.5" fill="#f00000"/>
<polygon points="1652.2,619.9 1667.6,619.9 1659.9,606.1" fill="#f00000"/>
<polygon points="1693.9,600.6 1709.3,600.6 1701.6,586.8" fill="#f00000"/>
</g>
<line x1="1278.3" y1="738.6" x2="1323" y2="738.6" stroke="#000" stroke-width="3" stroke-dasharray="11.5 18 15.5 100"/>
<line x1="1337.4" y1="740.3" x2="1337.4" y2="806" stroke="#000" stroke-width="3" stroke-dasharray="15.5 14.5 16.5 100"/>
<line x1="1278.3" y1="733.4" x2="1317.8" y2="654.3" stroke="#000" stroke-width="3" stroke-dasharray="14.5 16"/>
<polygon points="1321.6,646.8 1320.6,659.3 1313.4,655.7" fill="#000"/>
<rect x="1315.4" y="496.6" width="177.3" height="115.1" fill="#fff"/>
<clipPath id="cfi"><rect x="1315.4" y="496.6" width="178.29999999999995" height="115.10000000000002"/></clipPath>
<g clip-path="url(#cfi)">
<polyline points="1351,608.3 1368.8,607.4 1386.6,606.6 1404.3,606 1422.1,605.1 1439.9,604 1457.7,603.1 1475.4,602 1493.2,601" fill="none" stroke="#9a00ff" stroke-width="2.2" stroke-linejoin="round"/>
<polyline points="1315.5,611.7 1319.1,609.6 1322.6,607.4 1326.2,605.3 1329.7,603.1 1333.3,601.4 1351,586 1368.8,584.2 1386.6,572.2 1404.3,560.2 1422.1,556.9 1439.9,550.2 1457.7,537.3 1475.4,523 1493.2,518.8" fill="none" stroke="#f00000" stroke-width="2.2" stroke-linejoin="round"/>
<circle cx="1351" cy="608.3" r="6.6" fill="url(#ball2)"/>
<circle cx="1368.8" cy="607.4" r="6.6" fill="url(#ball2)"/>
<circle cx="1386.6" cy="606.6" r="6.6" fill="url(#ball2)"/>
<circle cx="1404.3" cy="606" r="6.6" fill="url(#ball2)"/>
<circle cx="1422.1" cy="605.1" r="6.6" fill="url(#ball2)"/>
<circle cx="1439.9" cy="604" r="6.6" fill="url(#ball2)"/>
<circle cx="1457.7" cy="603.1" r="6.6" fill="url(#ball2)"/>
<circle cx="1475.4" cy="602" r="6.6" fill="url(#ball2)"/>
<circle cx="1493.2" cy="601" r="6.6" fill="url(#ball2)"/>
<polygon points="1307.9,618.5 1323.1,618.5 1315.5,604.9" fill="#f00000"/>
<polygon points="1311.5,616.4 1326.7,616.4 1319.1,602.7" fill="#f00000"/>
<polygon points="1315,614.3 1330.2,614.3 1322.6,600.6" fill="#f00000"/>
<polygon points="1318.6,612.1 1333.8,612.1 1326.2,598.4" fill="#f00000"/>
<polygon points="1322.1,610 1337.3,610 1329.7,596.3" fill="#f00000"/>
<polygon points="1325.7,608.2 1340.9,608.2 1333.3,594.6" fill="#f00000"/>
<polygon points="1343.4,592.8 1358.6,592.8 1351,579.1" fill="#f00000"/>
<polygon points="1361.2,591.1 1376.4,591.1 1368.8,577.4" fill="#f00000"/>
<polygon points="1379,579.1 1394.2,579.1 1386.6,565.4" fill="#f00000"/>
<polygon points="1396.8,567.1 1411.9,567.1 1404.3,553.4" fill="#f00000"/>
<polygon points="1414.5,563.8 1429.7,563.8 1422.1,550.1" fill="#f00000"/>
<polygon points="1432.3,557.1 1447.5,557.1 1439.9,543.4" fill="#f00000"/>
<polygon points="1450.1,544.2 1465.3,544.2 1457.7,530.5" fill="#f00000"/>
<polygon points="1467.8,529.9 1483,529.9 1475.4,516.2" fill="#f00000"/>
<polygon points="1485.6,525.6 1500.8,525.6 1493.2,511.9" fill="#f00000"/>
</g>
<rect x="1315.4" y="496.6" width="177.3" height="115.1" fill="none" stroke="#000" stroke-width="2.3"/>
<line x1="1368.8" y1="610.7" x2="1368.8" y2="607.7" stroke="#000" stroke-width="1.8"/>
<line x1="1422.1" y1="610.7" x2="1422.1" y2="607.7" stroke="#000" stroke-width="1.8"/>
<line x1="1475.4" y1="610.7" x2="1475.4" y2="607.7" stroke="#000" stroke-width="1.8"/>
<line x1="1316.4" y1="583.1" x2="1319.4" y2="583.1" stroke="#000" stroke-width="1.8"/>
<line x1="1316.4" y1="554.5" x2="1319.4" y2="554.5" stroke="#000" stroke-width="1.8"/>
<line x1="1316.4" y1="525.9" x2="1319.4" y2="525.9" stroke="#000" stroke-width="1.8"/>
<text x="0" y="0" font-size="22" text-anchor="middle" transform="translate(1315.5 631.4) scale(1.12 1.0)">0.0</text>
<text x="0" y="0" font-size="22" text-anchor="middle" transform="translate(1368.8 631.4) scale(1.12 1.0)">0.3</text>
<text x="0" y="0" font-size="22" text-anchor="middle" transform="translate(1422.1 631.4) scale(1.12 1.0)">0.6</text>
<text x="0" y="0" font-size="22" text-anchor="middle" transform="translate(1475.4 631.4) scale(1.12 1.0)">0.9</text>
<text x="0" y="0" font-size="22" text-anchor="end" transform="translate(1314.3 502) scale(1.12 1.0)">8</text>
<text x="0" y="0" font-size="22" text-anchor="end" transform="translate(1314.3 533.5) scale(1.12 1.0)">6</text>
<text x="0" y="0" font-size="22" text-anchor="end" transform="translate(1314.3 561.7) scale(1.12 1.0)">4</text>
<text x="0" y="0" font-size="22" text-anchor="end" transform="translate(1314.3 590.4) scale(1.12 1.0)">2</text>
<text x="0" y="0" font-size="22" text-anchor="end" transform="translate(1314.3 617) scale(1.12 1.0)">0</text>
<text x="0" y="0" font-size="25.5" text-anchor="middle" transform="translate(1296.3 561.6) rotate(-90)">Voltage (V)</text>
<text x="0" y="0" font-size="23.2" text-anchor="middle" transform="translate(1410.8 660.6) scale(1.04 1.0)">Δ<tspan font-style="italic">T</tspan> (K)</text>
<polygon points="1502.5,508 1517.9,508 1510.2,494.2" fill="#f00000"/>
<circle cx="1510.6" cy="563.4" r="6.9" fill="url(#ball)"/>
<text x="0" y="0" font-size="24.4" transform="translate(1538 510.8) scale(1.03 1.0)">PEDOT:PSS/</text>
<text x="0" y="0" font-size="24.4" transform="translate(1538 540.8) scale(1.03 1.0)">P(VDF-TrFE)</text>
<text x="0" y="0" font-size="24.4" transform="translate(1538 572.4) scale(1.03 1.0)">Au/P(VDF-TrFE)</text>
<text x="1566.8" y="685" font-size="24.4"><tspan font-style="italic">S</tspan><tspan font-size="16.5" dy="6.5">tp</tspan><tspan dy="-6.5">=6.4 V K</tspan><tspan font-size="15.5" dy="-9.5">-1</tspan></text>
<text x="1487.6" y="726.5" font-size="24.4"><tspan font-style="italic">R</tspan><tspan font-size="16.5" dy="6.5">tp</tspan><tspan font-size="15.5" dy="-17">2</tspan><tspan dy="10.5">=0.9962</tspan></text>
<text x="1392" y="776.3" font-size="24.4"><tspan font-style="italic">R</tspan><tspan font-size="16.5" dy="6.5">tm</tspan><tspan font-size="15.5" dy="-17">2</tspan><tspan dy="10.5">=0.9764</tspan></text>
<text x="1552.7" y="771.9" font-size="24.4"><tspan font-style="italic">S</tspan><tspan font-size="16.5" dy="6.5">tm</tspan><tspan dy="-6.5">=0.46 V K</tspan><tspan font-size="15.5" dy="-9.5">-1</tspan></text>
<rect x="1264" y="479.1" width="459.3" height="327" fill="none" stroke="#000" stroke-width="2.9"/>
<line x1="1285" y1="805.1" x2="1285" y2="801.1" stroke="#000" stroke-width="2"/>
<line x1="1368.4" y1="805.1" x2="1368.4" y2="801.1" stroke="#000" stroke-width="2"/>
<line x1="1451.8" y1="805.1" x2="1451.8" y2="801.1" stroke="#000" stroke-width="2"/>
<line x1="1535.2" y1="805.1" x2="1535.2" y2="801.1" stroke="#000" stroke-width="2"/>
<line x1="1618.6" y1="805.1" x2="1618.6" y2="801.1" stroke="#000" stroke-width="2"/>
<line x1="1702" y1="805.1" x2="1702" y2="801.1" stroke="#000" stroke-width="2"/>
<line x1="1326.7" y1="805.1" x2="1326.7" y2="802.6" stroke="#000" stroke-width="2"/>
<line x1="1410.1" y1="805.1" x2="1410.1" y2="802.6" stroke="#000" stroke-width="2"/>
<line x1="1493.5" y1="805.1" x2="1493.5" y2="802.6" stroke="#000" stroke-width="2"/>
<line x1="1576.9" y1="805.1" x2="1576.9" y2="802.6" stroke="#000" stroke-width="2"/>
<line x1="1660.3" y1="805.1" x2="1660.3" y2="802.6" stroke="#000" stroke-width="2"/>
<line x1="1265" y1="736" x2="1268.5" y2="736" stroke="#000" stroke-width="2"/>
<line x1="1265" y1="671.8" x2="1268.5" y2="671.8" stroke="#000" stroke-width="2"/>
<line x1="1265" y1="607.5" x2="1268.5" y2="607.5" stroke="#000" stroke-width="2"/>
<line x1="1265" y1="543.3" x2="1268.5" y2="543.3" stroke="#000" stroke-width="2"/>
<text x="0" y="0" font-size="33.5" text-anchor="end" transform="translate(1259 812.5) scale(1.03 1.0)">0</text>
<text x="0" y="0" font-size="33.5" text-anchor="end" transform="translate(1259 748) scale(1.03 1.0)">20</text>
<text x="0" y="0" font-size="33.5" text-anchor="end" transform="translate(1259 683.5) scale(1.03 1.0)">40</text>
<text x="0" y="0" font-size="33.5" text-anchor="end" transform="translate(1259 619.1) scale(1.03 1.0)">60</text>
<text x="0" y="0" font-size="33.5" text-anchor="end" transform="translate(1259 554.6) scale(1.03 1.0)">80</text>
<text x="0" y="0" font-size="33.5" text-anchor="end" transform="translate(1259 490.1) scale(1.03 1.0)">100</text>
<text x="0" y="0" font-size="33.5" text-anchor="middle" transform="translate(1284.1 837.4) scale(1.07 1.0)">0</text>
<text x="0" y="0" font-size="33.5" text-anchor="middle" transform="translate(1367.5 837.4) scale(1.07 1.0)">2</text>
<text x="0" y="0" font-size="33.5" text-anchor="middle" transform="translate(1450.9 837.4) scale(1.07 1.0)">4</text>
<text x="0" y="0" font-size="33.5" text-anchor="middle" transform="translate(1534.3 837.4) scale(1.07 1.0)">6</text>
<text x="0" y="0" font-size="33.5" text-anchor="middle" transform="translate(1617.7 837.4) scale(1.07 1.0)">8</text>
<text x="0" y="0" font-size="33.5" text-anchor="middle" transform="translate(1701.1 837.4) scale(1.07 1.0)">10</text>
<text x="0" y="0" font-size="33.5" text-anchor="middle" transform="translate(1499 878.5) scale(1.04 1.0)">Δ<tspan font-style="italic">T</tspan> (K)</text>
<text x="0" y="0" font-size="35" text-anchor="middle" transform="translate(1190 643) rotate(-90)">Voltage (V)</text>
<text x="1226.5" y="457" font-size="48.5">f</text>
</g>
<g id="pg">
<rect x="155.7" y="942" width="53" height="288.4" fill="#f7cc98" stroke="#7d6f5c" stroke-width="0.9"/>
<rect x="221.1" y="1223.8" width="53" height="6.6" fill="#f7cc98" stroke="#7d6f5c" stroke-width="0.9"/>
<rect x="286.7" y="1033.8" width="53" height="196.7" fill="#f7cc98" stroke="#7d6f5c" stroke-width="0.9"/>
<rect x="352.3" y="1208.1" width="53" height="22.3" fill="#f7cc98" stroke="#7d6f5c" stroke-width="0.9"/>
<rect x="417.9" y="1046.9" width="53" height="183.5" fill="#f7cc98" stroke="#7d6f5c" stroke-width="0.9"/>
<rect x="483.5" y="1227.8" width="53" height="2.6" fill="#f7cc98" stroke="#7d6f5c" stroke-width="0.9"/>
<text x="0" y="0" font-size="24.4" transform="translate(188.6 1196.9) rotate(-90)">This work</text>
<text x="0" y="0" font-size="24.4" transform="translate(257.3 1198) rotate(-90)">P(VDF-TrFE)@Au el</text>
<text x="0" y="0" font-size="24.4" transform="translate(323.8 1189.8) rotate(-90)">P(VDF-TrFE)@In el</text>
<text x="0" y="0" font-size="24.4" transform="translate(385 1198) rotate(-90)">P(VDF-TrFE)@Al el</text>
<text x="0" y="0" font-size="24.4" transform="translate(456.8 1199.5) rotate(-90)">P(VDF-TrFE)@Cu el</text>
<text x="0" y="0" font-size="24.4" transform="translate(521.5 1198) rotate(-90)">P(VDF-TrFE)Ag el</text>
<text x="171.4" y="1220.2" font-size="24.4" fill="#ff0000">2.2</text>
<text x="223.5" y="1220.2" font-size="24.4" fill="#ff0000">0.05</text>
<text x="291.6" y="1220.2" font-size="24.4" fill="#ff0000">1.5</text>
<text x="355.3" y="1220.2" font-size="24.4" fill="#ff0000">0.17</text>
<text x="432.3" y="1220.2" font-size="24.4" fill="#ff0000">1.4</text>
<text x="485.8" y="1220.2" font-size="24.4" fill="#ff0000">0.02</text>
<rect x="116.5" y="902.5" width="459.3" height="327.9" fill="none" stroke="#000" stroke-width="3.1"/>
<line x1="182.2" y1="1229.4" x2="182.2" y2="1225.9" stroke="#000" stroke-width="2"/>
<line x1="247.6" y1="1229.4" x2="247.6" y2="1225.9" stroke="#000" stroke-width="2"/>
<line x1="313.2" y1="1229.4" x2="313.2" y2="1225.9" stroke="#000" stroke-width="2"/>
<line x1="378.8" y1="1229.4" x2="378.8" y2="1225.9" stroke="#000" stroke-width="2"/>
<line x1="444.4" y1="1229.4" x2="444.4" y2="1225.9" stroke="#000" stroke-width="2"/>
<line x1="510" y1="1229.4" x2="510" y2="1225.9" stroke="#000" stroke-width="2"/>
<line x1="149.4" y1="1229.4" x2="149.4" y2="1227.4" stroke="#000" stroke-width="2"/>
<line x1="214.8" y1="1229.4" x2="214.8" y2="1227.4" stroke="#000" stroke-width="2"/>
<line x1="280.4" y1="1229.4" x2="280.4" y2="1227.4" stroke="#000" stroke-width="2"/>
<line x1="346" y1="1229.4" x2="346" y2="1227.4" stroke="#000" stroke-width="2"/>
<line x1="411.6" y1="1229.4" x2="411.6" y2="1227.4" stroke="#000" stroke-width="2"/>
<line x1="477.2" y1="1229.4" x2="477.2" y2="1227.4" stroke="#000" stroke-width="2"/>
<line x1="542.8" y1="1229.4" x2="542.8" y2="1227.4" stroke="#000" stroke-width="2"/>
<line x1="117.5" y1="1164.9" x2="121" y2="1164.9" stroke="#000" stroke-width="2"/>
<line x1="117.5" y1="1099.3" x2="121" y2="1099.3" stroke="#000" stroke-width="2"/>
<line x1="117.5" y1="1033.8" x2="121" y2="1033.8" stroke="#000" stroke-width="2"/>
<line x1="117.5" y1="968.2" x2="121" y2="968.2" stroke="#000" stroke-width="2"/>
<text x="0" y="0" font-size="31" text-anchor="end" transform="translate(109.9 1241) scale(1.1 1.0)">0.0</text>
<text x="0" y="0" font-size="31" text-anchor="end" transform="translate(109.9 1175.5) scale(1.1 1.0)">0.5</text>
<text x="0" y="0" font-size="31" text-anchor="end" transform="translate(109.9 1109.9) scale(1.1 1.0)">1.0</text>
<text x="0" y="0" font-size="31" text-anchor="end" transform="translate(109.9 1044.3) scale(1.1 1.0)">1.5</text>
<text x="0" y="0" font-size="31" text-anchor="end" transform="translate(109.9 978.8) scale(1.1 1.0)">2.0</text>
<text x="0" y="0" font-size="31" text-anchor="end" transform="translate(109.9 913.3) scale(1.1 1.0)">2.5</text>
<text x="0" y="0" font-size="33.5" text-anchor="middle" transform="translate(34.3 1066) rotate(-90)">S<tspan font-size="21" dy="7">p</tspan><tspan dy="-7"> (V kPa</tspan><tspan font-size="22" dy="-15">-1</tspan><tspan dy="15">)</tspan></text>
<text x="79.5" y="872.3" font-size="48.5">g</text>
</g>
<g id="ph">
<rect x="734" y="968.2" width="61.6" height="262.2" fill="#f7cc98" stroke="#7d6f5c" stroke-width="0.9"/>
<rect x="810.6" y="1203" width="61.6" height="27.4" fill="#f7cc98" stroke="#7d6f5c" stroke-width="0.9"/>
<rect x="1040.4" y="1222.2" width="61.6" height="8.2" fill="#f7cc98" stroke="#7d6f5c" stroke-width="0.9"/>
<text x="0" y="0" font-size="24.4" transform="translate(773.7 1196.9) rotate(-90)">This work</text>
<text x="0" y="0" font-size="24.4" transform="translate(850 1195.1) rotate(-90)">PVDF/dimaond@Au el</text>
<text x="0" y="0" font-size="24.4" transform="translate(937 1196.5) rotate(-90)">PVDF-MAPI@Cu el</text>
<text x="0" y="0" font-size="24.4" transform="translate(1014 1198.3) rotate(-90)">PVDF/WO<tspan font-size="16" dy="5">2.72</tspan><tspan dy="-5">@CNT el</tspan></text>
<text x="0" y="0" font-size="24.4" transform="translate(1081.2 1196.5) rotate(-90)">P(VDF-TrFE)/CFO@Au el</text>
<text x="749.7" y="1220.2" font-size="24.4" fill="#ff0000">6.4</text>
<text x="825.2" y="1220.2" font-size="24.4" fill="#ff0000">0.67</text>
<text x="902" y="1220.2" font-size="24.4" fill="#ff0000">0.01</text>
<text x="978" y="1220.2" font-size="24.4" fill="#ff0000">0.02</text>
<text x="1051.5" y="1220.2" font-size="24.4" fill="#ff0000">0.20</text>
<rect x="688.2" y="902.5" width="459.3" height="327.9" fill="none" stroke="#000" stroke-width="3.1"/>
<line x1="764.8" y1="1229.4" x2="764.8" y2="1225.9" stroke="#000" stroke-width="2"/>
<line x1="841.4" y1="1229.4" x2="841.4" y2="1225.9" stroke="#000" stroke-width="2"/>
<line x1="918" y1="1229.4" x2="918" y2="1225.9" stroke="#000" stroke-width="2"/>
<line x1="994.6" y1="1229.4" x2="994.6" y2="1225.9" stroke="#000" stroke-width="2"/>
<line x1="1071.2" y1="1229.4" x2="1071.2" y2="1225.9" stroke="#000" stroke-width="2"/>
<line x1="726.5" y1="1229.4" x2="726.5" y2="1227.4" stroke="#000" stroke-width="2"/>
<line x1="803.1" y1="1229.4" x2="803.1" y2="1227.4" stroke="#000" stroke-width="2"/>
<line x1="879.7" y1="1229.4" x2="879.7" y2="1227.4" stroke="#000" stroke-width="2"/>
<line x1="956.3" y1="1229.4" x2="956.3" y2="1227.4" stroke="#000" stroke-width="2"/>
<line x1="1032.9" y1="1229.4" x2="1032.9" y2="1227.4" stroke="#000" stroke-width="2"/>
<line x1="1109.5" y1="1229.4" x2="1109.5" y2="1227.4" stroke="#000" stroke-width="2"/>
<line x1="689.2" y1="1148.5" x2="692.7" y2="1148.5" stroke="#000" stroke-width="2"/>
<line x1="689.2" y1="1066.5" x2="692.7" y2="1066.5" stroke="#000" stroke-width="2"/>
<line x1="689.2" y1="984.6" x2="692.7" y2="984.6" stroke="#000" stroke-width="2"/>
<text x="0" y="0" font-size="31" text-anchor="end" transform="translate(683.5 1241) scale(1.1 1.0)">0</text>
<text x="0" y="0" font-size="31" text-anchor="end" transform="translate(683.5 1159.1) scale(1.1 1.0)">2</text>
<text x="0" y="0" font-size="31" text-anchor="end" transform="translate(683.5 1077.1) scale(1.1 1.0)">4</text>
<text x="0" y="0" font-size="31" text-anchor="end" transform="translate(683.5 995.2) scale(1.1 1.0)">6</text>
<text x="0" y="0" font-size="31" text-anchor="end" transform="translate(683.5 913.2) scale(1.1 1.0)">8</text>
<text x="0" y="0" font-size="33.5" text-anchor="middle" transform="translate(631.4 1065.5) rotate(-90)">S<tspan font-size="21" dy="7" font-style="italic">t</tspan><tspan dy="-7"> (V K</tspan><tspan font-size="22" dy="-15">-1</tspan><tspan dy="15">)</tspan></text>
<text x="652" y="878.5" font-size="48.5">h</text>
</g>
<g id="pi">
<polygon points="1263.8,921.8 1263.9,915 1265.1,915 1265.3,920.7 1265.6,920.7 1265.8,918.5 1266.7,918.5 1266.8,921.1 1267.4,921.1 1267.5,918.1 1268.4,918.1 1268.5,921.1 1269.1,921.1 1269.2,918.5 1270.2,918.5 1270.3,920.7 1270.6,920.7 1270.8,915 1272,915 1272.2,920.7 1272.5,920.7 1272.7,918.5 1273.6,918.5 1273.8,921.1 1274.3,921.1 1274.5,918.1 1275.3,918.1 1275.5,921.1 1276,921.1 1276.2,918.5 1277.1,918.5 1277.2,920.7 1277.5,920.7 1277.7,915 1278.9,915 1279.1,920.7 1279.4,920.7 1279.5,918.5 1280.5,918.5 1280.6,921.1 1281.2,921.1 1281.3,918.1 1282.2,918.1 1282.3,921.1 1282.9,921.1 1283,918.5 1284,918.5 1284.1,920.7 1284.4,920.7 1284.6,915 1285.8,915 1286,920.7 1286.3,920.7 1286.5,918.5 1287.4,918.5 1287.5,921.1 1288.1,921.1 1288.2,918.1 1289.1,918.1 1289.2,921.1 1289.8,921.1 1290,918.5 1290.9,918.5 1291,920.7 1291.3,920.7 1291.5,915 1292.7,915 1292.9,920.7 1293.2,920.7 1293.3,918.5 1294.3,918.5 1294.4,921.1 1294.7,921.8 1294.7,1026.9 1294.5,1027.8 1294.3,1029.6 1293.4,1029.6 1293.2,1027.5 1292.7,1027.5 1292.5,1030 1291.7,1030 1291.5,1027.5 1291,1027.5 1290.8,1029.6 1289.9,1029.6 1289.7,1027.8 1289.4,1027.8 1289.3,1032.6 1288,1032.6 1287.8,1027.8 1287.6,1027.8 1287.4,1029.6 1286.5,1029.6 1286.3,1027.5 1285.8,1027.5 1285.6,1030 1284.8,1030 1284.6,1027.5 1284.1,1027.5 1283.9,1029.6 1283,1029.6 1282.8,1027.8 1282.5,1027.8 1282.4,1032.6 1281.1,1032.6 1280.9,1027.8 1280.7,1027.8 1280.5,1029.6 1279.6,1029.6 1279.4,1027.5 1278.9,1027.5 1278.8,1030 1277.9,1030 1277.8,1027.5 1277.2,1027.5 1277,1029.6 1276.1,1029.6 1275.9,1027.8 1275.6,1027.8 1275.5,1032.6 1274.2,1032.6 1274,1027.8 1273.8,1027.8 1273.6,1029.6 1272.7,1029.6 1272.5,1027.5 1272,1027.5 1271.8,1030 1271,1030 1270.8,1027.5 1270.3,1027.5 1270.1,1029.6 1269.2,1029.6 1269,1027.8 1268.7,1027.8 1268.6,1032.6 1267.3,1032.6 1267.1,1027.8 1266.9,1027.8 1266.7,1029.6 1265.8,1029.6 1265.6,1027.5 1265.1,1027.5 1264.9,1030 1264.1,1030 1263.9,1027.5 1263.8,1026.9" fill="#ff00ff"/>
<polygon points="1294.4,921.8 1294.4,921.1 1295,921.1 1295.1,918.1 1296,918.1 1296.1,921.1 1296.7,921.1 1296.8,918.5 1297.8,918.5 1297.9,920.7 1298.2,920.7 1298.4,915 1299.6,915 1299.8,920.7 1300.1,920.7 1300.2,918.5 1301.2,918.5 1301.3,921.1 1301.9,921.1 1302,918.1 1302.9,918.1 1303,921.1 1303.6,921.1 1303.8,918.5 1304.7,918.5 1304.8,920.7 1305.1,920.7 1305.3,915 1306.5,915 1306.7,920.7 1307,920.7 1307.2,918.5 1308.1,918.5 1308.2,921.1 1308.8,921.1 1309,918.1 1309.8,918.1 1310,921.1 1310.5,921.1 1310.7,918.5 1311.6,918.5 1311.8,920.7 1312,920.7 1312.2,915 1313.4,915 1313.6,920.7 1313.9,920.7 1314,918.5 1315,918.5 1315.1,921.1 1315.7,921.1 1315.8,918.1 1316.7,918.1 1316.8,921.1 1317.4,921.1 1317.5,918.5 1318.5,918.5 1318.6,920.7 1318.9,920.7 1319.1,915 1320.3,915 1320.5,920.7 1320.8,920.7 1321,918.5 1321.9,918.5 1322,921.1 1322.6,921.1 1322.8,918.1 1323.6,918.1 1323.8,921.1 1324.3,921.1 1324.5,918.5 1325.2,921.8 1325.2,1026.9 1324.4,1029.6 1324.2,1027.8 1323.9,1027.8 1323.8,1032.6 1322.5,1032.6 1322.3,1027.8 1322.1,1027.8 1321.9,1029.6 1321,1029.6 1320.8,1027.5 1320.3,1027.5 1320.1,1030 1319.3,1030 1319.1,1027.5 1318.6,1027.5 1318.4,1029.6 1317.5,1029.6 1317.3,1027.8 1317,1027.8 1316.9,1032.6 1315.6,1032.6 1315.4,1027.8 1315.2,1027.8 1315,1029.6 1314.1,1029.6 1313.9,1027.5 1313.4,1027.5 1313.2,1030 1312.4,1030 1312.2,1027.5 1311.7,1027.5 1311.5,1029.6 1310.6,1029.6 1310.4,1027.8 1310.1,1027.8 1310,1032.6 1308.7,1032.6 1308.5,1027.8 1308.3,1027.8 1308.1,1029.6 1307.2,1029.6 1307,1027.5 1306.5,1027.5 1306.3,1030 1305.5,1030 1305.3,1027.5 1304.8,1027.5 1304.6,1029.6 1303.7,1029.6 1303.5,1027.8 1303.2,1027.8 1303.1,1032.6 1301.8,1032.6 1301.6,1027.8 1301.4,1027.8 1301.2,1029.6 1300.3,1029.6 1300.1,1027.5 1299.6,1027.5 1299.4,1030 1298.6,1030 1298.4,1027.5 1297.9,1027.5 1297.7,1029.6 1296.8,1029.6 1296.6,1027.8 1296.3,1027.8 1296.2,1032.6 1294.9,1032.6 1294.7,1027.8 1294.5,1027.8 1294.4,1026.9" fill="#8000ff"/>
<polygon points="1324.9,921.8 1325.4,918.5 1325.5,920.7 1325.8,920.7 1326,915 1327.2,915 1327.4,920.7 1327.7,920.7 1327.8,918.5 1328.8,918.5 1328.9,921.1 1329.5,921.1 1329.6,918.1 1330.5,918.1 1330.6,921.1 1331.2,921.1 1331.3,918.5 1332.3,918.5 1332.4,920.7 1332.7,920.7 1332.9,915 1334.1,915 1334.3,920.7 1334.6,920.7 1334.8,918.5 1335.7,918.5 1335.8,921.1 1336.4,921.1 1336.5,918.1 1337.4,918.1 1337.5,921.1 1338.1,921.1 1338.2,918.5 1339.2,918.5 1339.3,920.7 1339.6,920.7 1339.8,915 1341,915 1341.2,920.7 1341.5,920.7 1341.7,918.5 1342.6,918.5 1342.8,921.1 1343.3,921.1 1343.5,918.1 1344.3,918.1 1344.5,921.1 1345,921.1 1345.2,918.5 1346.1,918.5 1346.2,920.7 1346.5,920.7 1346.7,915 1347.9,915 1348.1,920.7 1348.4,920.7 1348.5,918.5 1349.5,918.5 1349.6,921.1 1350.2,921.1 1350.3,918.1 1351.2,918.1 1351.3,921.1 1351.9,921.1 1352,918.5 1353,918.5 1353.1,920.7 1353.4,920.7 1353.6,915 1354.8,915 1355,920.7 1355.3,920.7 1355.5,918.5 1355.8,921.8 1355.8,1026.9 1355.5,1029.6 1355.3,1027.5 1354.8,1027.5 1354.6,1030 1353.8,1030 1353.6,1027.5 1353.1,1027.5 1352.9,1029.6 1352,1029.6 1351.8,1027.8 1351.5,1027.8 1351.4,1032.6 1350.1,1032.6 1349.9,1027.8 1349.7,1027.8 1349.5,1029.6 1348.6,1029.6 1348.4,1027.5 1347.9,1027.5 1347.8,1030 1346.9,1030 1346.8,1027.5 1346.2,1027.5 1346,1029.6 1345.1,1029.6 1344.9,1027.8 1344.6,1027.8 1344.5,1032.6 1343.2,1032.6 1343,1027.8 1342.8,1027.8 1342.6,1029.6 1341.7,1029.6 1341.5,1027.5 1341,1027.5 1340.8,1030 1340,1030 1339.8,1027.5 1339.3,1027.5 1339.1,1029.6 1338.2,1029.6 1338,1027.8 1337.7,1027.8 1337.6,1032.6 1336.3,1032.6 1336.1,1027.8 1335.9,1027.8 1335.7,1029.6 1334.8,1029.6 1334.6,1027.5 1334.1,1027.5 1333.9,1030 1333.1,1030 1332.9,1027.5 1332.4,1027.5 1332.2,1029.6 1331.3,1029.6 1331.1,1027.8 1330.8,1027.8 1330.7,1032.6 1329.4,1032.6 1329.2,1027.8 1329,1027.8 1328.8,1029.6 1327.9,1029.6 1327.7,1027.5 1327.2,1027.5 1327,1030 1326.2,1030 1326,1027.5 1325.5,1027.5 1325.3,1029.6 1324.9,1026.9" fill="#0000ff"/>
<polygon points="1355.5,921.8 1356.4,918.5 1356.5,921.1 1357.1,921.1 1357.2,918.1 1358.1,918.1 1358.2,921.1 1358.8,921.1 1359,918.5 1359.9,918.5 1360,920.7 1360.3,920.7 1360.5,915 1361.7,915 1361.9,920.7 1362.2,920.7 1362.3,918.5 1363.3,918.5 1363.4,921.1 1364,921.1 1364.1,918.1 1365,918.1 1365.1,921.1 1365.7,921.1 1365.8,918.5 1366.8,918.5 1366.9,920.7 1367.2,920.7 1367.4,915 1368.6,915 1368.8,920.7 1369.1,920.7 1369.2,918.5 1370.2,918.5 1370.3,921.1 1370.9,921.1 1371,918.1 1371.9,918.1 1372,921.1 1372.6,921.1 1372.8,918.5 1373.7,918.5 1373.8,920.7 1374.1,920.7 1374.3,915 1375.5,915 1375.7,920.7 1376,920.7 1376.2,918.5 1377.1,918.5 1377.2,921.1 1377.8,921.1 1378,918.1 1378.8,918.1 1379,921.1 1379.5,921.1 1379.7,918.5 1380.6,918.5 1380.8,920.7 1381,920.7 1381.2,915 1382.4,915 1382.6,920.7 1382.9,920.7 1383,918.5 1384,918.5 1384.1,921.1 1384.7,921.1 1384.8,918.1 1385.7,918.1 1385.8,921.1 1386.3,921.8 1386.3,1026.9 1386,1027.8 1385.9,1032.6 1384.6,1032.6 1384.4,1027.8 1384.2,1027.8 1384,1029.6 1383.1,1029.6 1382.9,1027.5 1382.4,1027.5 1382.2,1030 1381.4,1030 1381.2,1027.5 1380.7,1027.5 1380.5,1029.6 1379.6,1029.6 1379.4,1027.8 1379.1,1027.8 1379,1032.6 1377.7,1032.6 1377.5,1027.8 1377.3,1027.8 1377.1,1029.6 1376.2,1029.6 1376,1027.5 1375.5,1027.5 1375.3,1030 1374.5,1030 1374.3,1027.5 1373.8,1027.5 1373.6,1029.6 1372.7,1029.6 1372.5,1027.8 1372.2,1027.8 1372.1,1032.6 1370.8,1032.6 1370.6,1027.8 1370.4,1027.8 1370.2,1029.6 1369.3,1029.6 1369.1,1027.5 1368.6,1027.5 1368.4,1030 1367.6,1030 1367.4,1027.5 1366.9,1027.5 1366.7,1029.6 1365.8,1029.6 1365.6,1027.8 1365.3,1027.8 1365.2,1032.6 1363.9,1032.6 1363.7,1027.8 1363.5,1027.8 1363.3,1029.6 1362.4,1029.6 1362.2,1027.5 1361.7,1027.5 1361.5,1030 1360.7,1030 1360.5,1027.5 1360,1027.5 1359.8,1029.6 1358.9,1029.6 1358.7,1027.8 1358.4,1027.8 1358.3,1032.6 1357,1032.6 1356.8,1027.8 1356.6,1027.8 1356.4,1029.6 1355.5,1029.6 1355.5,1026.9" fill="#00a0ff"/>
<polygon points="1386,921.8 1386.4,921.1 1386.5,918.5 1387.5,918.5 1387.6,920.7 1387.9,920.7 1388.1,915 1389.3,915 1389.5,920.7 1389.8,920.7 1390,918.5 1390.9,918.5 1391,921.1 1391.6,921.1 1391.8,918.1 1392.6,918.1 1392.8,921.1 1393.3,921.1 1393.5,918.5 1394.4,918.5 1394.5,920.7 1394.8,920.7 1395,915 1396.2,915 1396.4,920.7 1396.7,920.7 1396.8,918.5 1397.8,918.5 1397.9,921.1 1398.5,921.1 1398.6,918.1 1399.5,918.1 1399.6,921.1 1400.2,921.1 1400.3,918.5 1401.3,918.5 1401.4,920.7 1401.7,920.7 1401.9,915 1403.1,915 1403.3,920.7 1403.6,920.7 1403.8,918.5 1404.7,918.5 1404.8,921.1 1405.4,921.1 1405.5,918.1 1406.4,918.1 1406.5,921.1 1407.1,921.1 1407.2,918.5 1408.2,918.5 1408.3,920.7 1408.6,920.7 1408.8,915 1410,915 1410.2,920.7 1410.5,920.7 1410.7,918.5 1411.6,918.5 1411.8,921.1 1412.3,921.1 1412.5,918.1 1413.3,918.1 1413.5,921.1 1414,921.1 1414.2,918.5 1415.1,918.5 1415.2,920.7 1415.5,920.7 1415.7,915 1416.9,921.8 1416.9,1026.9 1416.9,1027.5 1416.8,1030 1415.9,1030 1415.8,1027.5 1415.2,1027.5 1415,1029.6 1414.1,1029.6 1413.9,1027.8 1413.6,1027.8 1413.5,1032.6 1412.2,1032.6 1412,1027.8 1411.8,1027.8 1411.6,1029.6 1410.7,1029.6 1410.5,1027.5 1410,1027.5 1409.8,1030 1409,1030 1408.8,1027.5 1408.3,1027.5 1408.1,1029.6 1407.2,1029.6 1407,1027.8 1406.7,1027.8 1406.6,1032.6 1405.3,1032.6 1405.1,1027.8 1404.9,1027.8 1404.7,1029.6 1403.8,1029.6 1403.6,1027.5 1403.1,1027.5 1402.9,1030 1402.1,1030 1401.9,1027.5 1401.4,1027.5 1401.2,1029.6 1400.3,1029.6 1400.1,1027.8 1399.8,1027.8 1399.7,1032.6 1398.4,1032.6 1398.2,1027.8 1398,1027.8 1397.8,1029.6 1396.9,1029.6 1396.7,1027.5 1396.2,1027.5 1396,1030 1395.2,1030 1395,1027.5 1394.5,1027.5 1394.3,1029.6 1393.4,1029.6 1393.2,1027.8 1392.9,1027.8 1392.8,1032.6 1391.5,1032.6 1391.3,1027.8 1391.1,1027.8 1390.9,1029.6 1390,1029.6 1389.8,1027.5 1389.3,1027.5 1389.1,1030 1388.3,1030 1388.1,1027.5 1387.6,1027.5 1387.4,1029.6 1386.5,1029.6 1386.3,1027.8 1386,1027.8 1386,1026.9" fill="#00ffff"/>
<polygon points="1416.6,921.8 1416.9,915 1417.1,920.7 1417.4,920.7 1417.5,918.5 1418.5,918.5 1418.6,921.1 1419.2,921.1 1419.3,918.1 1420.2,918.1 1420.3,921.1 1420.9,921.1 1421,918.5 1422,918.5 1422.1,920.7 1422.4,920.7 1422.6,915 1423.8,915 1424,920.7 1424.3,920.7 1424.5,918.5 1425.4,918.5 1425.5,921.1 1426.1,921.1 1426.2,918.1 1427.1,918.1 1427.2,921.1 1427.8,921.1 1428,918.5 1428.9,918.5 1429,920.7 1429.3,920.7 1429.5,915 1430.7,915 1430.9,920.7 1431.2,920.7 1431.3,918.5 1432.3,918.5 1432.4,921.1 1433,921.1 1433.1,918.1 1434,918.1 1434.1,921.1 1434.7,921.1 1434.8,918.5 1435.8,918.5 1435.9,920.7 1436.2,920.7 1436.4,915 1437.6,915 1437.8,920.7 1438.1,920.7 1438.2,918.5 1439.2,918.5 1439.3,921.1 1439.9,921.1 1440,918.1 1440.9,918.1 1441,921.1 1441.6,921.1 1441.8,918.5 1442.7,918.5 1442.8,920.7 1443.1,920.7 1443.3,915 1444.5,915 1444.7,920.7 1445,920.7 1445.2,918.5 1446.1,918.5 1446.2,921.1 1446.8,921.1 1447,918.1 1447.5,921.8 1447.5,1026.9 1446.7,1032.6 1446.5,1027.8 1446.3,1027.8 1446.1,1029.6 1445.2,1029.6 1445,1027.5 1444.5,1027.5 1444.3,1030 1443.5,1030 1443.3,1027.5 1442.8,1027.5 1442.6,1029.6 1441.7,1029.6 1441.5,1027.8 1441.2,1027.8 1441.1,1032.6 1439.8,1032.6 1439.6,1027.8 1439.4,1027.8 1439.2,1029.6 1438.3,1029.6 1438.1,1027.5 1437.6,1027.5 1437.4,1030 1436.6,1030 1436.4,1027.5 1435.9,1027.5 1435.7,1029.6 1434.8,1029.6 1434.6,1027.8 1434.3,1027.8 1434.2,1032.6 1432.9,1032.6 1432.7,1027.8 1432.5,1027.8 1432.3,1029.6 1431.4,1029.6 1431.2,1027.5 1430.7,1027.5 1430.5,1030 1429.7,1030 1429.5,1027.5 1429,1027.5 1428.8,1029.6 1427.9,1029.6 1427.7,1027.8 1427.4,1027.8 1427.3,1032.6 1426,1032.6 1425.8,1027.8 1425.6,1027.8 1425.4,1029.6 1424.5,1029.6 1424.3,1027.5 1423.8,1027.5 1423.6,1030 1422.8,1030 1422.6,1027.5 1422.1,1027.5 1421.9,1029.6 1421,1029.6 1420.8,1027.8 1420.5,1027.8 1420.4,1032.6 1419.1,1032.6 1418.9,1027.8 1418.7,1027.8 1418.5,1029.6 1417.6,1029.6 1417.4,1027.5 1416.9,1027.5 1416.8,1030 1416.6,1026.9" fill="#00f000"/>
<polygon points="1447.2,921.8 1447.8,918.1 1448,921.1 1448.5,921.1 1448.7,918.5 1449.6,918.5 1449.8,920.7 1450,920.7 1450.2,915 1451.4,915 1451.6,920.7 1451.9,920.7 1452,918.5 1453,918.5 1453.1,921.1 1453.7,921.1 1453.8,918.1 1454.7,918.1 1454.8,921.1 1455.4,921.1 1455.5,918.5 1456.5,918.5 1456.6,920.7 1456.9,920.7 1457.1,915 1458.3,915 1458.5,920.7 1458.8,920.7 1459,918.5 1459.9,918.5 1460,921.1 1460.6,921.1 1460.8,918.1 1461.6,918.1 1461.8,921.1 1462.3,921.1 1462.5,918.5 1463.4,918.5 1463.5,920.7 1463.8,920.7 1464,915 1465.2,915 1465.4,920.7 1465.7,920.7 1465.8,918.5 1466.8,918.5 1466.9,921.1 1467.5,921.1 1467.6,918.1 1468.5,918.1 1468.6,921.1 1469.2,921.1 1469.3,918.5 1470.3,918.5 1470.4,920.7 1470.7,920.7 1470.9,915 1472.1,915 1472.3,920.7 1472.6,920.7 1472.8,918.5 1473.7,918.5 1473.8,921.1 1474.4,921.1 1474.5,918.1 1475.4,918.1 1475.5,921.1 1476.1,921.1 1476.2,918.5 1477.2,918.5 1477.3,920.7 1477.6,920.7 1477.8,915 1478,921.8 1478,1026.9 1478,1030 1477.8,1027.5 1477.3,1027.5 1477.1,1029.6 1476.2,1029.6 1476,1027.8 1475.7,1027.8 1475.6,1032.6 1474.3,1032.6 1474.1,1027.8 1473.9,1027.8 1473.7,1029.6 1472.8,1029.6 1472.6,1027.5 1472.1,1027.5 1471.9,1030 1471.1,1030 1470.9,1027.5 1470.4,1027.5 1470.2,1029.6 1469.3,1029.6 1469.1,1027.8 1468.8,1027.8 1468.7,1032.6 1467.4,1032.6 1467.2,1027.8 1467,1027.8 1466.8,1029.6 1465.9,1029.6 1465.7,1027.5 1465.2,1027.5 1465,1030 1464.2,1030 1464,1027.5 1463.5,1027.5 1463.3,1029.6 1462.4,1029.6 1462.2,1027.8 1461.9,1027.8 1461.8,1032.6 1460.5,1032.6 1460.3,1027.8 1460.1,1027.8 1459.9,1029.6 1459,1029.6 1458.8,1027.5 1458.3,1027.5 1458.1,1030 1457.3,1030 1457.1,1027.5 1456.6,1027.5 1456.4,1029.6 1455.5,1029.6 1455.3,1027.8 1455,1027.8 1454.9,1032.6 1453.6,1032.6 1453.4,1027.8 1453.2,1027.8 1453,1029.6 1452.1,1029.6 1451.9,1027.5 1451.4,1027.5 1451.2,1030 1450.4,1030 1450.2,1027.5 1449.7,1027.5 1449.5,1029.6 1448.6,1029.6 1448.4,1027.8 1448.1,1027.8 1448,1032.6 1447.2,1026.9" fill="#c0f070"/>
<polygon points="1477.7,921.8 1477.8,915 1479,915 1479.2,920.7 1479.5,920.7 1479.7,918.5 1480.6,918.5 1480.8,921.1 1481.3,921.1 1481.5,918.1 1482.3,918.1 1482.5,921.1 1483,921.1 1483.2,918.5 1484.1,918.5 1484.2,920.7 1484.5,920.7 1484.7,915 1485.9,915 1486.1,920.7 1486.4,920.7 1486.5,918.5 1487.5,918.5 1487.6,921.1 1488.2,921.1 1488.3,918.1 1489.2,918.1 1489.3,921.1 1489.9,921.1 1490,918.5 1491,918.5 1491.1,920.7 1491.4,920.7 1491.6,915 1492.8,915 1493,920.7 1493.3,920.7 1493.5,918.5 1494.4,918.5 1494.5,921.1 1495.1,921.1 1495.2,918.1 1496.1,918.1 1496.2,921.1 1496.8,921.1 1497,918.5 1497.9,918.5 1498,920.7 1498.3,920.7 1498.5,915 1499.7,915 1499.9,920.7 1500.2,920.7 1500.3,918.5 1501.3,918.5 1501.4,921.1 1502,921.1 1502.1,918.1 1503,918.1 1503.1,921.1 1503.7,921.1 1503.8,918.5 1504.8,918.5 1504.9,920.7 1505.2,920.7 1505.4,915 1506.6,915 1506.8,920.7 1507.1,920.7 1507.2,918.5 1508.2,918.5 1508.3,921.1 1508.6,921.8 1508.6,1026.9 1508.4,1027.8 1508.2,1029.6 1507.3,1029.6 1507.1,1027.5 1506.6,1027.5 1506.4,1030 1505.6,1030 1505.4,1027.5 1504.9,1027.5 1504.7,1029.6 1503.8,1029.6 1503.6,1027.8 1503.3,1027.8 1503.2,1032.6 1501.9,1032.6 1501.7,1027.8 1501.5,1027.8 1501.3,1029.6 1500.4,1029.6 1500.2,1027.5 1499.7,1027.5 1499.5,1030 1498.7,1030 1498.5,1027.5 1498,1027.5 1497.8,1029.6 1496.9,1029.6 1496.7,1027.8 1496.4,1027.8 1496.3,1032.6 1495,1032.6 1494.8,1027.8 1494.6,1027.8 1494.4,1029.6 1493.5,1029.6 1493.3,1027.5 1492.8,1027.5 1492.6,1030 1491.8,1030 1491.6,1027.5 1491.1,1027.5 1490.9,1029.6 1490,1029.6 1489.8,1027.8 1489.5,1027.8 1489.4,1032.6 1488.1,1032.6 1487.9,1027.8 1487.7,1027.8 1487.5,1029.6 1486.6,1029.6 1486.4,1027.5 1485.9,1027.5 1485.8,1030 1484.9,1030 1484.8,1027.5 1484.2,1027.5 1484,1029.6 1483.1,1029.6 1482.9,1027.8 1482.6,1027.8 1482.5,1032.6 1481.2,1032.6 1481,1027.8 1480.8,1027.8 1480.6,1029.6 1479.7,1029.6 1479.5,1027.5 1479,1027.5 1478.8,1030 1478,1030 1477.8,1027.5 1477.7,1026.9" fill="#e2c468"/>
<polygon points="1508.3,921.8 1508.3,921.1 1508.9,921.1 1509,918.1 1509.9,918.1 1510,921.1 1510.6,921.1 1510.8,918.5 1511.7,918.5 1511.8,920.7 1512.1,920.7 1512.3,915 1513.5,915 1513.7,920.7 1514,920.7 1514.2,918.5 1515.1,918.5 1515.2,921.1 1515.8,921.1 1516,918.1 1516.8,918.1 1517,921.1 1517.5,921.1 1517.7,918.5 1518.6,918.5 1518.8,920.7 1519,920.7 1519.2,915 1520.4,915 1520.6,920.7 1520.9,920.7 1521,918.5 1522,918.5 1522.1,921.1 1522.7,921.1 1522.8,918.1 1523.7,918.1 1523.8,921.1 1524.4,921.1 1524.5,918.5 1525.5,918.5 1525.6,920.7 1525.9,920.7 1526.1,915 1527.3,915 1527.5,920.7 1527.8,920.7 1528,918.5 1528.9,918.5 1529,921.1 1529.6,921.1 1529.8,918.1 1530.6,918.1 1530.8,921.1 1531.3,921.1 1531.5,918.5 1532.4,918.5 1532.5,920.7 1532.8,920.7 1533,915 1534.2,915 1534.4,920.7 1534.7,920.7 1534.8,918.5 1535.8,918.5 1535.9,921.1 1536.5,921.1 1536.6,918.1 1537.5,918.1 1537.6,921.1 1538.2,921.1 1538.3,918.5 1539.1,921.8 1539.1,1026.9 1538.3,1029.6 1538.1,1027.8 1537.8,1027.8 1537.7,1032.6 1536.4,1032.6 1536.2,1027.8 1536,1027.8 1535.8,1029.6 1534.9,1029.6 1534.7,1027.5 1534.2,1027.5 1534,1030 1533.2,1030 1533,1027.5 1532.5,1027.5 1532.3,1029.6 1531.4,1029.6 1531.2,1027.8 1530.9,1027.8 1530.8,1032.6 1529.5,1032.6 1529.3,1027.8 1529.1,1027.8 1528.9,1029.6 1528,1029.6 1527.8,1027.5 1527.3,1027.5 1527.1,1030 1526.3,1030 1526.1,1027.5 1525.6,1027.5 1525.4,1029.6 1524.5,1029.6 1524.3,1027.8 1524,1027.8 1523.9,1032.6 1522.6,1032.6 1522.4,1027.8 1522.2,1027.8 1522,1029.6 1521.1,1029.6 1520.9,1027.5 1520.4,1027.5 1520.2,1030 1519.4,1030 1519.2,1027.5 1518.7,1027.5 1518.5,1029.6 1517.6,1029.6 1517.4,1027.8 1517.1,1027.8 1517,1032.6 1515.7,1032.6 1515.5,1027.8 1515.3,1027.8 1515.1,1029.6 1514.2,1029.6 1514,1027.5 1513.5,1027.5 1513.3,1030 1512.5,1030 1512.3,1027.5 1511.8,1027.5 1511.6,1029.6 1510.7,1029.6 1510.5,1027.8 1510.2,1027.8 1510.1,1032.6 1508.8,1032.6 1508.6,1027.8 1508.4,1027.8 1508.3,1026.9" fill="#ff6c6c"/>
<polygon points="1538.8,921.8 1539.3,918.5 1539.4,920.7 1539.7,920.7 1539.9,915 1541.1,915 1541.3,920.7 1541.6,920.7 1541.8,918.5 1542.7,918.5 1542.8,921.1 1543.4,921.1 1543.5,918.1 1544.4,918.1 1544.5,921.1 1545.1,921.1 1545.2,918.5 1546.2,918.5 1546.3,920.7 1546.6,920.7 1546.8,915 1548,915 1548.2,920.7 1548.5,920.7 1548.7,918.5 1549.6,918.5 1549.8,921.1 1550.3,921.1 1550.5,918.1 1551.3,918.1 1551.5,921.1 1552,921.1 1552.2,918.5 1553.1,918.5 1553.2,920.7 1553.5,920.7 1553.7,915 1554.9,915 1555.1,920.7 1555.4,920.7 1555.5,918.5 1556.5,918.5 1556.6,921.1 1557.2,921.1 1557.3,918.1 1558.2,918.1 1558.3,921.1 1558.9,921.1 1559,918.5 1560,918.5 1560.1,920.7 1560.4,920.7 1560.6,915 1561.8,915 1562,920.7 1562.3,920.7 1562.5,918.5 1563.4,918.5 1563.5,921.1 1564.1,921.1 1564.2,918.1 1565.1,918.1 1565.2,921.1 1565.8,921.1 1566,918.5 1566.9,918.5 1567,920.7 1567.3,920.7 1567.5,915 1568.7,915 1568.9,920.7 1569.2,920.7 1569.3,918.5 1569.6,921.8 1569.6,1026.9 1569.4,1029.6 1569.2,1027.5 1568.7,1027.5 1568.5,1030 1567.7,1030 1567.5,1027.5 1567,1027.5 1566.8,1029.6 1565.9,1029.6 1565.7,1027.8 1565.4,1027.8 1565.3,1032.6 1564,1032.6 1563.8,1027.8 1563.6,1027.8 1563.4,1029.6 1562.5,1029.6 1562.3,1027.5 1561.8,1027.5 1561.6,1030 1560.8,1030 1560.6,1027.5 1560.1,1027.5 1559.9,1029.6 1559,1029.6 1558.8,1027.8 1558.5,1027.8 1558.4,1032.6 1557.1,1032.6 1556.9,1027.8 1556.7,1027.8 1556.5,1029.6 1555.6,1029.6 1555.4,1027.5 1554.9,1027.5 1554.8,1030 1553.9,1030 1553.8,1027.5 1553.2,1027.5 1553,1029.6 1552.1,1029.6 1551.9,1027.8 1551.6,1027.8 1551.5,1032.6 1550.2,1032.6 1550,1027.8 1549.8,1027.8 1549.6,1029.6 1548.7,1029.6 1548.5,1027.5 1548,1027.5 1547.8,1030 1547,1030 1546.8,1027.5 1546.3,1027.5 1546.1,1029.6 1545.2,1029.6 1545,1027.8 1544.7,1027.8 1544.6,1032.6 1543.3,1032.6 1543.1,1027.8 1542.9,1027.8 1542.7,1029.6 1541.8,1029.6 1541.6,1027.5 1541.1,1027.5 1540.9,1030 1540.1,1030 1539.9,1027.5 1539.4,1027.5 1539.2,1029.6 1538.8,1026.9" fill="#f40000"/>
<polyline points="1264.3,1192.5 1265.2,1076.6 1265.9,1076.9 1267,1193.2 1267.4,1193.6 1268.3,1076.6 1269,1076.9 1270.1,1193.3 1270.4,1192.2 1271.4,1076.6 1272.1,1076.9 1273.2,1192 1273.5,1193 1274.4,1076.6 1275.1,1076.9 1276.2,1193 1276.5,1193.2 1277.5,1076.6 1278.2,1076.9 1279.3,1192.2 1279.6,1193.9 1280.5,1076.6 1281.2,1076.9 1282.3,1193.9 1282.6,1193.1 1283.6,1076.6 1284.3,1076.9 1285.4,1193 1285.7,1192.2 1286.6,1076.6 1287.3,1076.9 1288.4,1192.4 1288.7,1193.2 1289.7,1076.6 1290.4,1076.9 1291.5,1193.1 1291.8,1192.4 1292.8,1076.6 1293.5,1076.9 1294.6,1192.7" fill="none" stroke="#ff00ff" stroke-width="1.4" stroke-linejoin="round" stroke-linejoin="miter" stroke-miterlimit="10"/>
<polyline points="1294.9,1191.7 1295.8,1076.6 1296.5,1076.9 1297.6,1191 1297.9,1192.9 1298.9,1076.6 1299.6,1076.9 1300.7,1192.5 1301,1190.8 1301.9,1076.6 1302.6,1076.9 1303.7,1190.4 1304,1192.1 1305,1076.6 1305.7,1076.9 1306.8,1191.5 1307.1,1191.2 1308,1076.6 1308.7,1076.9 1309.8,1191.2 1310.1,1193.3 1311.1,1076.6 1311.8,1076.9 1312.9,1193.2 1313.2,1191.8 1314.1,1076.6 1314.8,1076.9 1315.9,1192 1316.3,1193.1 1317.2,1076.6 1317.9,1076.9 1319,1193 1319.3,1193 1320.3,1076.6 1321,1076.9 1322.1,1193.5 1322.4,1192.3 1323.3,1076.6 1324,1076.9 1325.1,1191.9" fill="none" stroke="#8000ff" stroke-width="1.4" stroke-linejoin="round" stroke-linejoin="miter" stroke-miterlimit="10"/>
<polyline points="1325.4,1192.8 1326.4,1076.6 1327.1,1076.9 1328.2,1192.9 1328.5,1193.5 1329.4,1076.6 1330.1,1076.9 1331.2,1192.8 1331.5,1191.9 1332.5,1076.6 1333.2,1076.9 1334.3,1191.5 1334.6,1190.9 1335.5,1076.6 1336.2,1076.9 1337.3,1191 1337.6,1193 1338.6,1076.6 1339.3,1076.9 1340.4,1192.6 1340.7,1193.7 1341.6,1076.6 1342.3,1076.9 1343.4,1194.2 1343.8,1193.1 1344.7,1076.6 1345.4,1076.9 1346.5,1193.3 1346.8,1193.4 1347.8,1076.6 1348.5,1076.9 1349.6,1192.7 1349.9,1193.1 1350.8,1076.6 1351.5,1076.9 1352.6,1193.4 1352.9,1190.9 1353.9,1076.6 1354.6,1076.9 1355.7,1191.1" fill="none" stroke="#0000ff" stroke-width="1.4" stroke-linejoin="round" stroke-linejoin="miter" stroke-miterlimit="10"/>
<polyline points="1356,1192.3 1356.9,1076.6 1357.6,1076.9 1358.7,1192.7 1359,1192.1 1360,1076.6 1360.7,1076.9 1361.8,1192.1 1362.1,1192.8 1363,1076.6 1363.7,1076.9 1364.8,1192.4 1365.1,1193 1366.1,1076.6 1366.8,1076.9 1367.9,1193 1368.2,1192.9 1369.2,1076.6 1369.9,1076.9 1371,1192.7 1371.3,1193.5 1372.2,1076.6 1372.9,1076.9 1374,1193.8 1374.3,1192.3 1375.3,1076.6 1376,1076.9 1377.1,1192.7 1377.4,1193.6 1378.3,1076.6 1379,1076.9 1380.1,1194.5 1380.4,1191.1 1381.4,1076.6 1382.1,1076.9 1383.2,1191.5 1383.5,1192.9 1384.4,1076.6 1385.1,1076.9 1386.2,1192.9" fill="none" stroke="#00a0ff" stroke-width="1.4" stroke-linejoin="round" stroke-linejoin="miter" stroke-miterlimit="10"/>
<polyline points="1386.5,1191.6 1387.5,1076.6 1388.2,1076.9 1389.3,1192.2 1389.6,1191.4 1390.5,1076.6 1391.2,1076.9 1392.3,1191.6 1392.7,1193.7 1393.6,1076.6 1394.3,1076.9 1395.4,1192.9 1395.7,1192.2 1396.7,1076.6 1397.4,1076.9 1398.5,1191.6 1398.8,1192.7 1399.7,1076.6 1400.4,1076.9 1401.5,1193.5 1401.8,1194.3 1402.8,1076.6 1403.5,1076.9 1404.6,1193.4 1404.9,1192 1405.8,1076.6 1406.5,1076.9 1407.6,1192.3 1407.9,1193.9 1408.9,1076.6 1409.6,1076.9 1410.7,1194.1 1411,1191.8 1411.9,1076.6 1412.6,1076.9 1413.7,1192 1414,1192.5 1415,1076.6 1415.7,1076.9 1416.8,1192.4" fill="none" stroke="#00ffff" stroke-width="1.4" stroke-linejoin="round" stroke-linejoin="miter" stroke-miterlimit="10"/>
<polyline points="1417.1,1191.8 1418,1076.6 1418.7,1076.9 1419.8,1192 1420.2,1192.8 1421.1,1076.6 1421.8,1076.9 1422.9,1192.7 1423.2,1192.3 1424.2,1076.6 1424.9,1076.9 1426,1191.7 1426.3,1192.1 1427.2,1076.6 1427.9,1076.9 1429,1192.7 1429.3,1192.3 1430.3,1076.6 1431,1076.9 1432.1,1191.6 1432.4,1193.7 1433.3,1076.6 1434,1076.9 1435.1,1194 1435.4,1194.4 1436.4,1076.6 1437.1,1076.9 1438.2,1194.4 1438.5,1192.1 1439.4,1076.6 1440.1,1076.9 1441.2,1191.4 1441.5,1193.7 1442.5,1076.6 1443.2,1076.9 1444.3,1195 1444.6,1191.8 1445.6,1076.6 1446.3,1076.9 1447.4,1191.4" fill="none" stroke="#00f000" stroke-width="1.4" stroke-linejoin="round" stroke-linejoin="miter" stroke-miterlimit="10"/>
<polyline points="1447.7,1193 1448.6,1076.6 1449.3,1076.9 1450.4,1192.6 1450.7,1192.3 1451.7,1076.6 1452.4,1076.9 1453.5,1192.1 1453.8,1192.7 1454.7,1076.6 1455.4,1076.9 1456.5,1193.2 1456.8,1192.5 1457.8,1076.6 1458.5,1076.9 1459.6,1193 1459.9,1192.1 1460.8,1076.6 1461.5,1076.9 1462.6,1192.3 1462.9,1190.6 1463.9,1076.6 1464.6,1076.9 1465.7,1189.9 1466,1193.2 1466.9,1076.6 1467.6,1076.9 1468.7,1192.9 1469.1,1193 1470,1076.6 1470.7,1076.9 1471.8,1193.3 1472.1,1193.7 1473.1,1076.6 1473.8,1076.9 1474.9,1194.1 1475.2,1193.4 1476.1,1076.6 1476.8,1076.9 1477.9,1193.4" fill="none" stroke="#c0f070" stroke-width="1.4" stroke-linejoin="round" stroke-linejoin="miter" stroke-miterlimit="10"/>
<polyline points="1478.2,1191.9 1479.2,1076.6 1479.9,1076.9 1481,1191.5 1481.3,1192.1 1482.2,1076.6 1482.9,1076.9 1484,1191.5 1484.3,1192 1485.3,1076.6 1486,1076.9 1487.1,1192 1487.4,1192.7 1488.3,1076.6 1489,1076.9 1490.1,1192.6 1490.4,1190.8 1491.4,1076.6 1492.1,1076.9 1493.2,1190.7 1493.5,1192.7 1494.4,1076.6 1495.1,1076.9 1496.2,1193.2 1496.6,1193 1497.5,1076.6 1498.2,1076.9 1499.3,1192.7 1499.6,1191.8 1500.6,1076.6 1501.3,1076.9 1502.4,1192.9 1502.7,1193.2 1503.6,1076.6 1504.3,1076.9 1505.4,1194.1 1505.7,1194.4 1506.7,1076.6 1507.4,1076.9 1508.5,1194" fill="none" stroke="#e2c468" stroke-width="1.4" stroke-linejoin="round" stroke-linejoin="miter" stroke-miterlimit="10"/>
<polyline points="1508.8,1192.8 1509.7,1076.6 1510.4,1076.9 1511.5,1193.1 1511.8,1193 1512.8,1076.6 1513.5,1076.9 1514.6,1193.3 1514.9,1192.7 1515.8,1076.6 1516.5,1076.9 1517.6,1192.8 1517.9,1191.1 1518.9,1076.6 1519.6,1076.9 1520.7,1191.1 1521,1191.8 1522,1076.6 1522.7,1076.9 1523.8,1191.9 1524.1,1192.1 1525,1076.6 1525.7,1076.9 1526.8,1192.4 1527.1,1193.2 1528.1,1076.6 1528.8,1076.9 1529.9,1193.4 1530.2,1192.8 1531.1,1076.6 1531.8,1076.9 1532.9,1192.8 1533.2,1192.1 1534.2,1076.6 1534.9,1076.9 1536,1192 1536.3,1192.1 1537.2,1076.6 1537.9,1076.9 1539,1192.2" fill="none" stroke="#ff6c6c" stroke-width="1.4" stroke-linejoin="round" stroke-linejoin="miter" stroke-miterlimit="10"/>
<polyline points="1539.3,1192.5 1540.3,1076.6 1541,1076.9 1542.1,1192.8 1542.4,1191.3 1543.3,1076.6 1544,1076.9 1545.1,1191.7 1545.5,1191.8 1546.4,1076.6 1547.1,1076.9 1548.2,1191.4 1548.5,1192.3 1549.5,1076.6 1550.2,1076.9 1551.3,1192 1551.6,1192.8 1552.5,1076.6 1553.2,1076.9 1554.3,1192.5 1554.6,1191.5 1555.6,1076.6 1556.3,1076.9 1557.4,1191.1 1557.7,1193.7 1558.6,1076.6 1559.3,1076.9 1560.4,1193.7 1560.7,1191.4 1561.7,1076.6 1562.4,1076.9 1563.5,1191.5 1563.8,1191.1 1564.7,1076.6 1565.4,1076.9 1566.5,1192 1566.8,1191.1 1567.8,1076.6 1568.5,1076.9 1569.6,1191.4" fill="none" stroke="#f40000" stroke-width="1.4" stroke-linejoin="round" stroke-linejoin="miter" stroke-miterlimit="10"/>
<path d="M1273.7 906.8V1046.3M1283.3 921.9V1037.3" stroke="#000" stroke-width="2.5" stroke-dasharray="13.3 11.7" fill="none"/>
<path d="M1272.5 906.8H1284.3M1272.5 1046.3H1282.8" stroke="#000" stroke-width="2.3" fill="none"/>
<path d="M1550.4 911.8V1051M1559.6 926.9V1042" stroke="#000" stroke-width="2.5" stroke-dasharray="13.3 11.7" fill="none"/>
<path d="M1549.2 911.8H1560.6M1549.2 1051H1559.1" stroke="#000" stroke-width="2.3" fill="none"/>
<path d="M1273.7 1068.2V1209.2M1283.3 1083.3V1200.2" stroke="#000" stroke-width="2.5" stroke-dasharray="13.3 11.7" fill="none"/>
<path d="M1272.5 1068.2H1284.3M1272.5 1209.2H1282.8" stroke="#000" stroke-width="2.3" fill="none"/>
<path d="M1551.3 1068.2V1209.6M1560.6 1083.3V1200.6" stroke="#000" stroke-width="2.5" stroke-dasharray="13.3 11.7" fill="none"/>
<path d="M1550.1 1068.2H1561.6M1550.1 1209.6H1560.1" stroke="#000" stroke-width="2.3" fill="none"/>
<text x="1304.6" y="1051.4" font-size="22.5" text-anchor="middle">1</text>
<text x="1529.4" y="1053" font-size="22.5" text-anchor="middle">2</text>
<text x="1304.6" y="1221.1" font-size="22.5" text-anchor="middle">3</text>
<text x="1531.2" y="1219.5" font-size="22.5" text-anchor="middle">4</text>
<clipPath id="ci1"><rect x="1569.6" y="902.4" width="153.5" height="327.19999999999993"/></clipPath>
<g clip-path="url(#ci1)">
<polyline points="1569.6,976.5 1570.1,976.6 1570.6,976.5 1571.1,976.4 1571.6,976.4 1572.1,976.4 1572.6,976.3 1573.1,976.3 1573.6,976.2 1574.1,976.2 1574.6,976.2 1575.1,976.2 1575.6,976.1 1576.1,976.1 1576.6,976.1 1577.1,976 1577.6,975.9 1578.1,975.9 1578.6,975.9 1579.1,975.8 1579.6,975.8 1580.1,975.8 1580.6,975.7 1581.1,975.8 1581.6,975.7 1582.1,975.7 1582.6,975.6 1583.1,975.6 1583.6,975.5 1584.1,975.4 1584.6,975.1 1585.1,974.7 1585.6,974.2 1586.1,973.2 1586.6,971.7 1587.1,969.5 1587.6,966.1 1588.1,961.6 1588.6,955.9 1589.1,948.9 1589.6,940.9 1590.1,932.6 1590.6,924.6 1591.1,917.5 1591.6,912.4 1592.1,910.3 1592.6,910.8 1593.1,913.6 1593.6,917.5 1594.1,922.4 1594.6,927.9 1595.1,933.9 1595.6,939.8 1596.1,945.6 1596.6,950.9 1597.1,955.6 1597.6,959.9 1598.1,963.6 1598.6,966.5 1599.1,968.9 1599.6,970.9 1600.1,972.9 1600.6,974.3 1601.1,975.7 1601.6,976.3 1602.1,976.8 1602.6,977.2 1603.1,977.3 1603.6,977.5 1604.1,977.7 1604.6,977.7 1605.1,977.8 1605.6,977.9 1606.1,977.9 1606.6,977.9 1607.1,977.9 1607.6,977.9 1608.1,978 1608.6,978 1609.1,978 1609.6,978 1610.1,978.1 1610.6,978.1 1611.1,978.1 1611.6,978.3 1612.1,978.3 1612.6,978.3 1613.1,978.4 1613.6,978.5 1614.1,978.6 1614.6,978.8 1615.1,979 1615.6,979.3 1616.1,979.6 1616.6,980.2 1617.1,980.7 1617.6,981.7 1618.1,982.9 1618.6,984.2 1619.1,986 1619.6,988.2 1620.1,990.9 1620.6,993.8 1621.1,997.1 1621.6,1001.2 1622.1,1005.1 1622.6,1009.1 1623.1,1012.8 1623.6,1016.1 1624.1,1018 1624.6,1018 1625.1,1016.4 1625.6,1013.5 1626.1,1010.5 1626.6,1007.2 1627.1,1003.9 1627.6,1001 1628.1,998.2 1628.6,995.5 1629.1,993.1 1629.6,990.9 1630.1,989.1 1630.6,987.5 1631.1,986.1 1631.6,984.7 1632.1,983.4 1632.6,982.3 1633.1,981 1633.6,980.4 1634.1,979.8 1634.6,979.5 1635.1,979 1635.6,978.7 1636.1,978.5 1636.6,978.3 1637.1,978.1 1637.6,977.9 1638.1,977.8 1638.6,977.7 1639.1,977.6 1639.6,977.4 1640.1,977.4 1640.6,977.4 1641.1,977.3 1641.6,977.3 1642.1,977.2 1642.6,977.3 1643.1,977 1643.6,977 1644.1,977 1644.6,976.9 1645.1,976.9 1645.6,976.9 1646.1,976.9" fill="none" stroke="#ff00ff" stroke-width="2.4" stroke-linejoin="round"/>
<polyline points="1646.2,976.6 1646.7,976.1 1647.2,975.4 1647.7,975.3 1648.2,975.5 1648.7,976.9 1649.2,977.4 1649.7,975.8 1650.2,976.1 1650.7,975.6 1651.2,976.1 1651.7,975.9 1652.2,976.8 1652.7,975.7 1653.2,976.1 1653.7,975.7 1654.2,975.6 1654.7,975.9 1655.2,975.6 1655.7,975.7 1656.2,975.3 1656.7,975.4 1657.2,975.9 1657.7,975.9 1658.2,974.5 1658.7,975.4 1659.2,974.6 1659.7,974.6 1660.2,974.5 1660.7,973.6 1661.2,971.6 1661.7,969.2 1662.2,965.7 1662.7,962.2 1663.2,956.1 1663.7,948.8 1664.2,939.9 1664.7,933.6 1665.2,923.9 1665.7,917.4 1666.2,911.8 1666.7,910.2 1667.2,910.3 1667.7,912.4 1668.2,916.9 1668.7,921.8 1669.2,927.5 1669.7,934.1 1670.2,939.3 1670.7,945.5 1671.2,951.2 1671.7,955.6 1672.2,960 1672.7,963 1673.2,966.5 1673.7,969.2 1674.2,970.1 1674.7,972.3 1675.2,973.7 1675.7,975.3 1676.2,976.4 1676.7,977 1677.2,977.3 1677.7,976.8 1678.2,977.5 1678.7,978.5 1679.2,977.8 1679.7,978.6 1680.2,977.7 1680.7,978.5 1681.2,978.6 1681.7,977.9 1682.2,978 1682.7,978.9 1683.2,977.6 1683.7,976.8 1684.2,978.9 1684.7,977.1 1685.2,978.5 1685.7,978.4 1686.2,978.3 1686.7,979.1 1687.2,977.6 1687.7,978.1 1688.2,978.9 1688.7,978.7 1689.2,979.6 1689.7,979.1 1690.2,978.7 1690.7,980.5 1691.2,980.2 1691.7,980.5 1692.2,980.7 1692.7,981.6 1693.2,983.9 1693.7,985.7 1694.2,987.1 1694.7,990.1 1695.2,993 1695.7,995.6 1696.2,999.1 1696.7,1004 1697.2,1008.4 1697.7,1012.2 1698.2,1017.3 1698.7,1019.3 1699.2,1021.1 1699.7,1018.6 1700.2,1017.1 1700.7,1014.3 1701.2,1011.1 1701.7,1009 1702.2,1003.9 1702.7,1000.2 1703.2,998.6 1703.7,995.1 1704.2,992.7 1704.7,991.8 1705.2,988.5 1705.7,986.7 1706.2,985.9 1706.7,984.4 1707.2,982.6 1707.7,982.6 1708.2,980.9 1708.7,979.8 1709.2,980.6 1709.7,978.9 1710.2,979.3 1710.7,979.9 1711.2,978.6 1711.7,978.9 1712.2,978 1712.7,978.6 1713.2,977.3 1713.7,978.1 1714.2,977.4 1714.7,977.9 1715.2,977.6 1715.7,976.7 1716.2,977.2 1716.7,977.5 1717.2,977.9 1717.7,976.5 1718.2,976.7 1718.7,977.2 1719.2,976.9 1719.7,977.5 1720.2,977.5 1720.7,977.4 1721.2,976.7 1721.7,976.7 1722.2,977.2 1722.7,976.3" fill="none" stroke="#f40000" stroke-width="2.4" stroke-linejoin="round"/>
<polyline points="1569.5,1156.7 1570.4,1150.4 1571.3,1144.1 1572.2,1138.3 1573.2,1133.1 1574.1,1128.4 1575,1124.3 1575.9,1120.7 1576.8,1117.6 1577.7,1114.9 1578.6,1112.6 1579.5,1110.6 1580.5,1108.8 1581.4,1107.3 1582.3,1106.1 1583.2,1105 1584.1,1104.1 1585,1103.3 1585.9,1102.6 1586.8,1102 1587.8,1101.5 1588.7,1101.1 1589.6,1100.8 1590.5,1100.5 1591.4,1100.2 1592.3,1100 1593.2,1099.8 1594.1,1099.7 1595.1,1099.6 1596,1099.5 1596.9,1099.4 1597.8,1099.3 1598.7,1099.2 1599.6,1099.2 1600.5,1099.1 1601.4,1099.1 1602.4,1099.1 1603.3,1099 1604.2,1099 1605.1,1099 1605.1,1098.9 1605.7,1109.9 1606.4,1119.6 1607,1128.3 1607.7,1136.1 1608.3,1143 1609,1149.1 1609.6,1154.6 1610.3,1159.4 1610.9,1163.7 1611.5,1167.4 1612.2,1170.8 1612.8,1173.7 1613.5,1176.3 1614.1,1178.6 1614.8,1180.6 1615.4,1182.4 1616,1183.9 1616.7,1185.2 1617.3,1186.4 1618,1187.3 1618.6,1188.2 1619.3,1188.9 1619.9,1189.5 1620.6,1189.9 1621.2,1190.3 1621.8,1190.6 1622.5,1190.9 1623.1,1191 1623.8,1191.1 1624.4,1191.2 1625.1,1191.2 1625.7,1191.2 1626.4,1191.1 1627,1191 1627.6,1190.8 1628.3,1190.7 1628.9,1190.5 1629.6,1190.2 1630.2,1190 1630.9,1189.8 1631.5,1189.5 1632.2,1189.2 1632.8,1188.9 1633.4,1188.6 1634.1,1188.3 1634.7,1188 1635.4,1187.6 1636,1187.3 1636.7,1186.9 1637.3,1186.6 1637.9,1186.2 1638.6,1185.8 1639.2,1185.5 1639.9,1185.1 1640.5,1184.7 1641.2,1184.4 1641.8,1184 1642.5,1183.6 1643.1,1183.2 1644,1174.2 1646,1143.2" fill="none" stroke="#ff00ff" stroke-width="2.6" stroke-linejoin="round"/>
<polyline points="1646.3,1145.5 1647.2,1140.2 1648.1,1134.8 1649,1129.9 1650,1125.5 1650.9,1121.6 1651.8,1118.3 1652.7,1115.3 1653.6,1112.8 1654.5,1110.6 1655.4,1108.8 1656.3,1107.2 1657.3,1105.8 1658.2,1104.7 1659.1,1103.7 1660,1102.9 1660.9,1102.2 1661.8,1101.6 1662.7,1101.1 1663.6,1100.7 1664.6,1100.3 1665.5,1100 1666.4,1099.8 1667.3,1099.6 1668.2,1099.4 1669.1,1099.2 1670,1099.1 1670.9,1099 1671.9,1098.9 1672.8,1098.8 1673.7,1098.8 1674.6,1098.7 1675.5,1098.7 1676.4,1098.7 1677.3,1098.6 1678.2,1098.6 1679.2,1098.6 1680.1,1098.6 1681,1098.6 1681.9,1098.6 1681.9,1098.5 1682.5,1109.4 1683.2,1119.1 1683.8,1127.8 1684.5,1135.5 1685.1,1142.4 1685.8,1148.5 1686.4,1154 1687.1,1158.8 1687.7,1163.1 1688.3,1166.9 1689,1170.2 1689.6,1173.2 1690.3,1175.8 1690.9,1178.1 1691.6,1180.1 1692.2,1181.9 1692.8,1183.4 1693.5,1184.8 1694.1,1185.9 1694.8,1186.9 1695.4,1187.8 1696.1,1188.5 1696.7,1189.2 1697.4,1189.7 1698,1190.1 1698.6,1190.4 1699.3,1190.7 1699.9,1190.9 1700.6,1191 1701.2,1191.1 1701.9,1191.2 1702.5,1191.2 1703.2,1191.1 1703.8,1191 1704.4,1190.9 1705.1,1190.8 1705.7,1190.6 1706.4,1190.5 1707,1190.3 1707.7,1190 1708.3,1189.8 1709,1189.6 1709.6,1189.3 1710.2,1189 1710.9,1188.7 1711.5,1188.5 1712.2,1188.2 1712.8,1187.9 1713.5,1187.5 1714.1,1187.2 1714.7,1186.9 1715.4,1186.6 1716,1186.3 1716.7,1185.9 1717.3,1185.6 1718,1185.2 1718.6,1184.9 1719.3,1184.5 1719.9,1184.2 1720.8,1175.2 1723.2,1144.2" fill="none" stroke="#f40000" stroke-width="2.6" stroke-linejoin="round"/>
</g>
<text x="1602" y="1025.2" font-size="22.5" text-anchor="middle">1</text>
<text x="1670.8" y="1025.2" font-size="22.5" text-anchor="middle">2</text>
<text x="1602.9" y="1193.7" font-size="22.5" text-anchor="middle">3</text>
<text x="1674.3" y="1195" font-size="22.5" text-anchor="middle">4</text>
<rect x="1569.6" y="902.4" width="153.5" height="146.4" fill="none" stroke="#000" stroke-width="2.9"/>
<line x1="1646.1" y1="902.4" x2="1646.1" y2="1048.8" stroke="#000" stroke-width="3"/>
<rect x="1569.6" y="1082.8" width="153.5" height="146.8" fill="none" stroke="#000" stroke-width="2.9"/>
<line x1="1646.1" y1="1082.8" x2="1646.1" y2="1229.6" stroke="#000" stroke-width="3"/>
<line x1="1615.2" y1="1048.8" x2="1615.2" y2="1040.8" stroke="#000" stroke-width="2.2"/>
<line x1="1681.6" y1="1048.8" x2="1681.6" y2="1040.8" stroke="#000" stroke-width="2.2"/>
<line x1="1618" y1="1229.6" x2="1618" y2="1221.1" stroke="#000" stroke-width="2.2"/>
<line x1="1681.6" y1="1229.6" x2="1681.6" y2="1221.1" stroke="#000" stroke-width="2.2"/>
<text x="0" y="0" font-size="34.5" text-anchor="middle" transform="translate(1614.3 1078.5) scale(1.03 1.0)">11</text>
<text x="0" y="0" font-size="34.5" text-anchor="middle" transform="translate(1682 1078.5) scale(1.03 1.0)">932</text>
<text x="0" y="0" font-size="34.5" text-anchor="middle" transform="translate(1619.4 1266.3) scale(1.03 1.0)">18</text>
<text x="1681.6" y="1266.3" font-size="34.5" text-anchor="middle">963</text>
<rect x="1263.6" y="902.2" width="306" height="328" fill="none" stroke="#000" stroke-width="3.0"/>
<line x1="1263.6" y1="1065.3" x2="1569.6" y2="1065.3" stroke="#000" stroke-width="3.1"/>
<line x1="1387.5" y1="1229.2" x2="1387.5" y2="1225.7" stroke="#000" stroke-width="2"/>
<line x1="1510.3" y1="1229.2" x2="1510.3" y2="1225.7" stroke="#000" stroke-width="2"/>
<line x1="1264.6" y1="1036.9" x2="1267.1" y2="1036.9" stroke="#000" stroke-width="2"/>
<line x1="1264.6" y1="1217.7" x2="1267.1" y2="1217.7" stroke="#000" stroke-width="2"/>
<text x="0" y="0" font-size="31" text-anchor="end" transform="translate(1258.6 939.9) scale(1.1 1.0)">100</text>
<text x="0" y="0" font-size="31" text-anchor="end" transform="translate(1258.6 993.9) scale(1.1 1.0)">0</text>
<text x="0" y="0" font-size="31" text-anchor="end" transform="translate(1258.6 1047.9) scale(1.1 1.0)">-100</text>
<text x="0" y="0" font-size="31" text-anchor="end" transform="translate(1260.9 1086.3) scale(1.1 1.0)">40</text>
<text x="0" y="0" font-size="31" text-anchor="end" transform="translate(1260.9 1160.1) scale(1.1 1.0)">0</text>
<text x="0" y="0" font-size="31" text-anchor="end" transform="translate(1260.9 1228.7) scale(1.1 1.0)">-40</text>
<text x="0" y="0" font-size="33.5" text-anchor="middle" transform="translate(1263.4 1260) scale(1.07 1.0)">0</text>
<text x="0" y="0" font-size="33.5" text-anchor="middle" transform="translate(1384.3 1260) scale(1.07 1.0)">400</text>
<text x="0" y="0" font-size="33.5" text-anchor="middle" transform="translate(1506.5 1260) scale(1.07 1.0)">800</text>
<text x="0" y="0" font-size="33.5" text-anchor="middle" transform="translate(1448.4 1299) scale(1.04 1.0)">Time (s)</text>
<text x="0" y="0" font-size="35" text-anchor="middle" transform="translate(1186 1068) rotate(-90)">Voltage (V)</text>
<text x="1237" y="876.3" font-size="48.5">i</text>
</g>
</svg>
</body></html>
